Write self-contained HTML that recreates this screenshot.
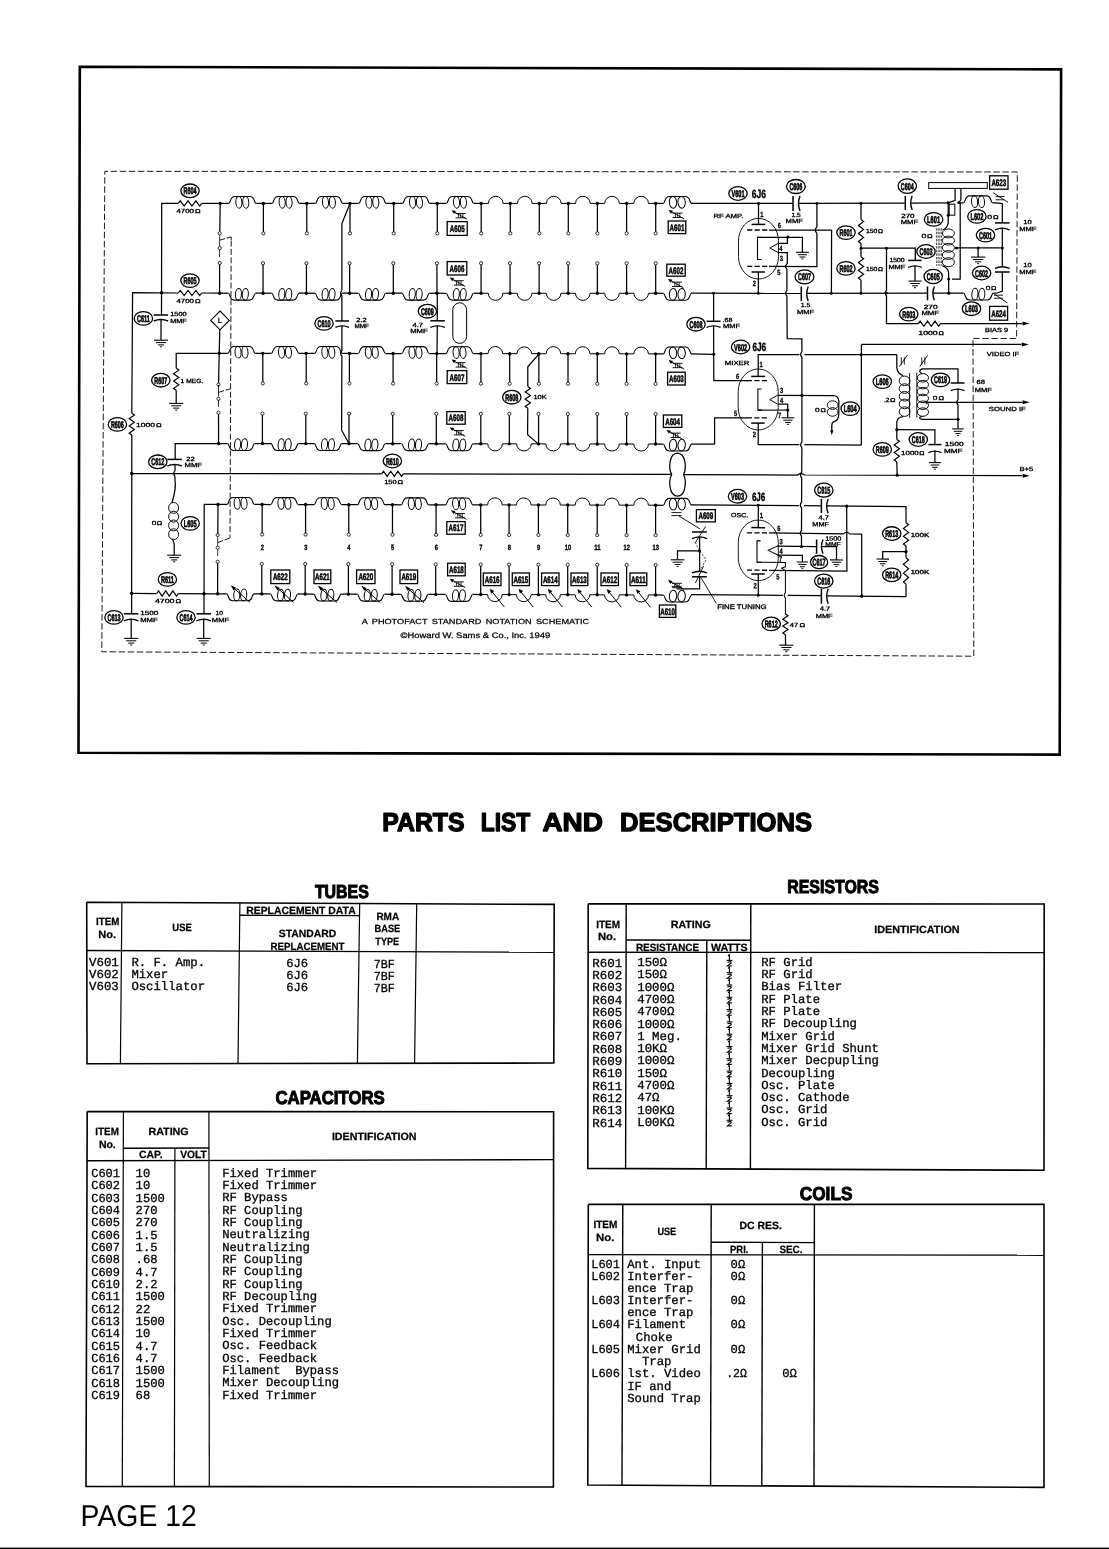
<!DOCTYPE html>
<html><head><meta charset="utf-8"><title>Page 12</title>
<style>
html,body{margin:0;padding:0;background:#fff;}
body{width:1109px;height:1549px;overflow:hidden;font-family:"Liberation Sans",sans-serif;}
svg{display:block;position:absolute;left:0;top:0;will-change:transform;}
svg *{vector-effect:none;}
</style></head><body>
<svg width="1109" height="1549" viewBox="0 0 1109 1549" fill="none" stroke="#000" stroke-linecap="butt" stroke-linejoin="miter" text-rendering="geometricPrecision">
<g id="art" fill="none" stroke="#000">
<polygon points="79.8,66.8 1061.1,69.4 1059.7,754.6 78.5,752.8" stroke-width="2.6" fill="none"/>
<polyline points="973.2,338.4 1016.6,338.6 1017.3,172 104.8,171.3 101.8,651.8 973.8,656.2 973,338.4" stroke-width="0.9" stroke-dasharray="6.5 2.6"/>
<line x1="220.2" y1="203.4" x2="228.7" y2="203.4" stroke-width="1.25"/>
<path d="M228.7,203.4 C230.9,203.4 229.7,196.5 234.7,196.5 L250.1,196.5 C255.1,196.5 253.9,203.4 256.1,203.4" stroke-width="1.1"/>
<ellipse cx="238.95" cy="202.3" rx="3.05" ry="5.9" stroke-width="1.0" transform="rotate(-4 238.95 203.4)"/>
<ellipse cx="245.85" cy="202.3" rx="3.05" ry="5.9" stroke-width="1.0" transform="rotate(-4 245.85 203.4)"/>
<line x1="256.1" y1="203.4" x2="263.4" y2="203.4" stroke-width="1.25"/>
<line x1="263.4" y1="203.4" x2="272" y2="203.4" stroke-width="1.25"/>
<path d="M272,203.4 C274.2,203.4 273,196.5 278,196.5 L293.4,196.5 C298.4,196.5 297.2,203.4 299.4,203.4" stroke-width="1.1"/>
<ellipse cx="282.25" cy="202.3" rx="3.05" ry="5.9" stroke-width="1.0" transform="rotate(-4 282.25 203.4)"/>
<ellipse cx="289.15" cy="202.3" rx="3.05" ry="5.9" stroke-width="1.0" transform="rotate(-4 289.15 203.4)"/>
<line x1="299.4" y1="203.4" x2="306.8" y2="203.4" stroke-width="1.25"/>
<line x1="306.8" y1="203.4" x2="315.3" y2="203.4" stroke-width="1.25"/>
<path d="M315.3,203.4 C317.5,203.4 316.3,196.5 321.3,196.5 L336.7,196.5 C341.7,196.5 340.5,203.4 342.7,203.4" stroke-width="1.1"/>
<ellipse cx="325.55" cy="202.3" rx="3.05" ry="5.9" stroke-width="1.0" transform="rotate(-4 325.55 203.4)"/>
<ellipse cx="332.45" cy="202.3" rx="3.05" ry="5.9" stroke-width="1.0" transform="rotate(-4 332.45 203.4)"/>
<line x1="342.7" y1="203.4" x2="350" y2="203.4" stroke-width="1.25"/>
<line x1="350" y1="203.4" x2="358.75" y2="203.4" stroke-width="1.25"/>
<path d="M358.75,203.4 C360.95,203.4 359.75,196.5 364.75,196.5 L380.15,196.5 C385.15,196.5 383.95,203.4 386.15,203.4" stroke-width="1.1"/>
<ellipse cx="369" cy="202.3" rx="3.05" ry="5.9" stroke-width="1.0" transform="rotate(-4 369 203.4)"/>
<ellipse cx="375.9" cy="202.3" rx="3.05" ry="5.9" stroke-width="1.0" transform="rotate(-4 375.9 203.4)"/>
<line x1="386.15" y1="203.4" x2="393.7" y2="203.4" stroke-width="1.25"/>
<line x1="393.7" y1="203.4" x2="402.4" y2="203.4" stroke-width="1.25"/>
<path d="M402.4,203.4 C404.6,203.4 403.4,196.5 408.4,196.5 L423.8,196.5 C428.8,196.5 427.6,203.4 429.8,203.4" stroke-width="1.1"/>
<ellipse cx="412.65" cy="202.3" rx="3.05" ry="5.9" stroke-width="1.0" transform="rotate(-4 412.65 203.4)"/>
<ellipse cx="419.55" cy="202.3" rx="3.05" ry="5.9" stroke-width="1.0" transform="rotate(-4 419.55 203.4)"/>
<line x1="429.8" y1="203.4" x2="437.3" y2="203.4" stroke-width="1.25"/>
<line x1="437.3" y1="203.4" x2="446.35" y2="203.4" stroke-width="1.25"/>
<path d="M446.35,203.4 C448.55,203.4 447.35,196.5 452.35,196.5 L467.75,196.5 C472.75,196.5 471.55,203.4 473.75,203.4" stroke-width="1.1"/>
<ellipse cx="456.6" cy="202.3" rx="3.05" ry="5.9" stroke-width="1.0" transform="rotate(-4 456.6 203.4)"/>
<ellipse cx="463.5" cy="202.3" rx="3.05" ry="5.9" stroke-width="1.0" transform="rotate(-4 463.5 203.4)"/>
<line x1="473.75" y1="203.4" x2="481.2" y2="203.4" stroke-width="1.25"/>
<path d="M481.2,203.4 L488.45,203.4 A7.3,7.08 0 0 1 503.05,203.4 L510.3,203.4" stroke-width="1"/>
<path d="M510.3,203.4 L517.5,203.4 A7.3,7.08 0 0 1 532.1,203.4 L539.3,203.4" stroke-width="1"/>
<path d="M539.3,203.4 L546.5,203.4 A7.3,7.08 0 0 1 561.1,203.4 L568.3,203.4" stroke-width="1"/>
<path d="M568.3,203.4 L575.55,203.4 A7.3,7.08 0 0 1 590.15,203.4 L597.4,203.4" stroke-width="1"/>
<path d="M597.4,203.4 L604.7,203.4 A7.3,7.08 0 0 1 619.3,203.4 L626.6,203.4" stroke-width="1"/>
<path d="M626.6,203.4 L633.85,203.4 A7.3,7.08 0 0 1 648.45,203.4 L655.7,203.4" stroke-width="1"/>
<line x1="655.7" y1="203.4" x2="663.2" y2="203.4" stroke-width="1.25"/>
<path d="M663.2,203.4 C665.4,203.4 664.2,196.5 669.2,196.5 L685.6,196.5 C690.6,196.5 689.4,203.4 691.6,203.4" stroke-width="1.1"/>
<ellipse cx="673.1" cy="202.3" rx="3.7" ry="5.9" stroke-width="1.0" transform="rotate(-4 673.1 203.4)"/>
<ellipse cx="681.7" cy="202.3" rx="3.7" ry="5.9" stroke-width="1.0" transform="rotate(-4 681.7 203.4)"/>
<line x1="263.4" y1="203.4" x2="263.4" y2="232" stroke-width="1.25"/>
<circle cx="263.4" cy="233.4" r="1.6" fill="#fff" stroke-width="0.8"/>
<circle cx="263.4" cy="203.4" r="1.7" fill="#000" stroke="none"/>
<line x1="306.8" y1="203.4" x2="306.8" y2="232" stroke-width="1.25"/>
<circle cx="306.8" cy="233.4" r="1.6" fill="#fff" stroke-width="0.8"/>
<circle cx="306.8" cy="203.4" r="1.7" fill="#000" stroke="none"/>
<line x1="350" y1="203.4" x2="350" y2="232" stroke-width="1.25"/>
<circle cx="350" cy="233.4" r="1.6" fill="#fff" stroke-width="0.8"/>
<circle cx="350" cy="203.4" r="1.7" fill="#000" stroke="none"/>
<line x1="393.7" y1="203.4" x2="393.7" y2="232" stroke-width="1.25"/>
<circle cx="393.7" cy="233.4" r="1.6" fill="#fff" stroke-width="0.8"/>
<circle cx="393.7" cy="203.4" r="1.7" fill="#000" stroke="none"/>
<line x1="437.3" y1="203.4" x2="437.3" y2="232" stroke-width="1.25"/>
<circle cx="437.3" cy="233.4" r="1.6" fill="#fff" stroke-width="0.8"/>
<circle cx="437.3" cy="203.4" r="1.7" fill="#000" stroke="none"/>
<line x1="481.2" y1="203.4" x2="481.2" y2="232" stroke-width="1.25"/>
<circle cx="481.2" cy="233.4" r="1.6" fill="#fff" stroke-width="0.8"/>
<circle cx="481.2" cy="203.4" r="1.7" fill="#000" stroke="none"/>
<line x1="510.3" y1="203.4" x2="510.3" y2="232" stroke-width="1.25"/>
<circle cx="510.3" cy="233.4" r="1.6" fill="#fff" stroke-width="0.8"/>
<circle cx="510.3" cy="203.4" r="1.7" fill="#000" stroke="none"/>
<line x1="539.3" y1="203.4" x2="539.3" y2="232" stroke-width="1.25"/>
<circle cx="539.3" cy="233.4" r="1.6" fill="#fff" stroke-width="0.8"/>
<circle cx="539.3" cy="203.4" r="1.7" fill="#000" stroke="none"/>
<line x1="568.3" y1="203.4" x2="568.3" y2="232" stroke-width="1.25"/>
<circle cx="568.3" cy="233.4" r="1.6" fill="#fff" stroke-width="0.8"/>
<circle cx="568.3" cy="203.4" r="1.7" fill="#000" stroke="none"/>
<line x1="597.4" y1="203.4" x2="597.4" y2="232" stroke-width="1.25"/>
<circle cx="597.4" cy="233.4" r="1.6" fill="#fff" stroke-width="0.8"/>
<circle cx="597.4" cy="203.4" r="1.7" fill="#000" stroke="none"/>
<line x1="626.6" y1="203.4" x2="626.6" y2="232" stroke-width="1.25"/>
<circle cx="626.6" cy="233.4" r="1.6" fill="#fff" stroke-width="0.8"/>
<circle cx="626.6" cy="203.4" r="1.7" fill="#000" stroke="none"/>
<line x1="655.7" y1="203.4" x2="655.7" y2="232" stroke-width="1.25"/>
<circle cx="655.7" cy="233.4" r="1.6" fill="#fff" stroke-width="0.8"/>
<circle cx="655.7" cy="203.4" r="1.7" fill="#000" stroke="none"/>
<circle cx="220.2" cy="203.4" r="1.7" fill="#000" stroke="none"/>
<line x1="219.6" y1="293.2" x2="228.22" y2="293.2" stroke-width="1.25"/>
<path d="M228.22,293.2 C230.42,293.2 229.22,300.1 234.22,300.1 L249.62,300.1 C254.62,300.1 253.42,293.2 255.62,293.2" stroke-width="1.1"/>
<ellipse cx="238.47" cy="294.3" rx="3.05" ry="5.9" stroke-width="1.0" transform="rotate(4 238.47 293.2)"/>
<ellipse cx="245.37" cy="294.3" rx="3.05" ry="5.9" stroke-width="1.0" transform="rotate(4 245.37 293.2)"/>
<line x1="255.62" y1="293.2" x2="263.03" y2="293.21" stroke-width="1.25"/>
<line x1="263.03" y1="293.21" x2="271.63" y2="293.21" stroke-width="1.25"/>
<path d="M271.63,293.21 C273.83,293.21 272.63,300.11 277.63,300.11 L293.03,300.11 C298.03,300.11 296.83,293.21 299.03,293.21" stroke-width="1.1"/>
<ellipse cx="281.88" cy="294.31" rx="3.05" ry="5.9" stroke-width="1.0" transform="rotate(4 281.88 293.21)"/>
<ellipse cx="288.78" cy="294.31" rx="3.05" ry="5.9" stroke-width="1.0" transform="rotate(4 288.78 293.21)"/>
<line x1="299.03" y1="293.21" x2="306.43" y2="293.22" stroke-width="1.25"/>
<line x1="306.43" y1="293.22" x2="314.93" y2="293.22" stroke-width="1.25"/>
<path d="M314.93,293.22 C317.13,293.22 315.93,300.12 320.93,300.12 L336.33,300.12 C341.33,300.12 340.13,293.22 342.33,293.22" stroke-width="1.1"/>
<ellipse cx="325.18" cy="294.32" rx="3.05" ry="5.9" stroke-width="1.0" transform="rotate(4 325.18 293.22)"/>
<ellipse cx="332.08" cy="294.32" rx="3.05" ry="5.9" stroke-width="1.0" transform="rotate(4 332.08 293.22)"/>
<line x1="342.33" y1="293.22" x2="349.63" y2="293.23" stroke-width="1.25"/>
<line x1="349.63" y1="293.23" x2="358.38" y2="293.23" stroke-width="1.25"/>
<path d="M358.38,293.23 C360.58,293.23 359.38,300.13 364.38,300.13 L379.78,300.13 C384.78,300.13 383.58,293.23 385.78,293.23" stroke-width="1.1"/>
<ellipse cx="368.63" cy="294.33" rx="3.05" ry="5.9" stroke-width="1.0" transform="rotate(4 368.63 293.23)"/>
<ellipse cx="375.53" cy="294.33" rx="3.05" ry="5.9" stroke-width="1.0" transform="rotate(4 375.53 293.23)"/>
<line x1="385.78" y1="293.23" x2="393.33" y2="293.23" stroke-width="1.25"/>
<line x1="393.33" y1="293.23" x2="402.03" y2="293.24" stroke-width="1.25"/>
<path d="M402.03,293.24 C404.23,293.24 403.03,300.14 408.03,300.14 L423.43,300.14 C428.43,300.14 427.23,293.24 429.43,293.24" stroke-width="1.1"/>
<ellipse cx="412.28" cy="294.34" rx="3.05" ry="5.9" stroke-width="1.0" transform="rotate(4 412.28 293.24)"/>
<ellipse cx="419.18" cy="294.34" rx="3.05" ry="5.9" stroke-width="1.0" transform="rotate(4 419.18 293.24)"/>
<line x1="429.43" y1="293.24" x2="436.93" y2="293.24" stroke-width="1.25"/>
<line x1="436.93" y1="293.24" x2="446.12" y2="293.25" stroke-width="1.25"/>
<path d="M446.12,293.25 C448.32,293.25 447.12,300.15 452.12,300.15 L467.52,300.15 C472.52,300.15 471.32,293.25 473.52,293.25" stroke-width="1.1"/>
<ellipse cx="456.37" cy="294.35" rx="3.05" ry="5.9" stroke-width="1.0" transform="rotate(4 456.37 293.25)"/>
<ellipse cx="463.27" cy="294.35" rx="3.05" ry="5.9" stroke-width="1.0" transform="rotate(4 463.27 293.25)"/>
<line x1="473.52" y1="293.25" x2="481.1" y2="293.25" stroke-width="1.25"/>
<path d="M481.1,293.26 L488.28,293.26 A7.3,7.08 0 0 0 502.88,293.26 L510.06,293.26" stroke-width="1"/>
<path d="M510.06,293.26 L517.29,293.26 A7.3,7.08 0 0 0 531.89,293.26 L539.12,293.26" stroke-width="1"/>
<path d="M539.12,293.27 L546.35,293.27 A7.3,7.08 0 0 0 560.95,293.27 L568.18,293.27" stroke-width="1"/>
<path d="M568.18,293.27 L575.47,293.27 A7.3,7.08 0 0 0 590.07,293.27 L597.36,293.27" stroke-width="1"/>
<path d="M597.36,293.28 L604.68,293.28 A7.3,7.08 0 0 0 619.28,293.28 L626.6,293.28" stroke-width="1"/>
<path d="M626.6,293.28 L633.84,293.28 A7.3,7.08 0 0 0 648.44,293.28 L655.68,293.28" stroke-width="1"/>
<line x1="655.68" y1="293.29" x2="663.2" y2="293.29" stroke-width="1.25"/>
<path d="M663.2,293.29 C665.4,293.29 664.2,300.19 669.2,300.19 L685.6,300.19 C690.6,300.19 689.4,293.29 691.6,293.29" stroke-width="1.1"/>
<ellipse cx="673.1" cy="294.39" rx="3.7" ry="5.9" stroke-width="1.0" transform="rotate(4 673.1 293.29)"/>
<ellipse cx="681.7" cy="294.39" rx="3.7" ry="5.9" stroke-width="1.0" transform="rotate(4 681.7 293.29)"/>
<line x1="263.03" y1="293.21" x2="263.03" y2="264.61" stroke-width="1.25"/>
<circle cx="263.03" cy="263.21" r="1.6" fill="#fff" stroke-width="0.8"/>
<circle cx="263.03" cy="293.21" r="1.7" fill="#000" stroke="none"/>
<line x1="306.43" y1="293.22" x2="306.43" y2="264.62" stroke-width="1.25"/>
<circle cx="306.43" cy="263.22" r="1.6" fill="#fff" stroke-width="0.8"/>
<circle cx="306.43" cy="293.22" r="1.7" fill="#000" stroke="none"/>
<line x1="349.63" y1="293.23" x2="349.63" y2="264.63" stroke-width="1.25"/>
<circle cx="349.63" cy="263.23" r="1.6" fill="#fff" stroke-width="0.8"/>
<circle cx="349.63" cy="293.23" r="1.7" fill="#000" stroke="none"/>
<line x1="393.33" y1="293.23" x2="393.33" y2="264.63" stroke-width="1.25"/>
<circle cx="393.33" cy="263.23" r="1.6" fill="#fff" stroke-width="0.8"/>
<circle cx="393.33" cy="293.23" r="1.7" fill="#000" stroke="none"/>
<line x1="436.93" y1="293.24" x2="436.93" y2="264.64" stroke-width="1.25"/>
<circle cx="436.93" cy="263.24" r="1.6" fill="#fff" stroke-width="0.8"/>
<circle cx="436.93" cy="293.24" r="1.7" fill="#000" stroke="none"/>
<line x1="481.1" y1="293.25" x2="481.1" y2="264.65" stroke-width="1.25"/>
<circle cx="481.1" cy="263.25" r="1.6" fill="#fff" stroke-width="0.8"/>
<circle cx="481.1" cy="293.25" r="1.7" fill="#000" stroke="none"/>
<line x1="510.06" y1="293.26" x2="510.06" y2="264.66" stroke-width="1.25"/>
<circle cx="510.06" cy="263.26" r="1.6" fill="#fff" stroke-width="0.8"/>
<circle cx="510.06" cy="293.26" r="1.7" fill="#000" stroke="none"/>
<line x1="539.12" y1="293.26" x2="539.12" y2="264.66" stroke-width="1.25"/>
<circle cx="539.12" cy="263.26" r="1.6" fill="#fff" stroke-width="0.8"/>
<circle cx="539.12" cy="293.26" r="1.7" fill="#000" stroke="none"/>
<line x1="568.18" y1="293.27" x2="568.18" y2="264.67" stroke-width="1.25"/>
<circle cx="568.18" cy="263.27" r="1.6" fill="#fff" stroke-width="0.8"/>
<circle cx="568.18" cy="293.27" r="1.7" fill="#000" stroke="none"/>
<line x1="597.36" y1="293.28" x2="597.36" y2="264.68" stroke-width="1.25"/>
<circle cx="597.36" cy="263.28" r="1.6" fill="#fff" stroke-width="0.8"/>
<circle cx="597.36" cy="293.28" r="1.7" fill="#000" stroke="none"/>
<line x1="626.6" y1="293.28" x2="626.6" y2="264.68" stroke-width="1.25"/>
<circle cx="626.6" cy="263.28" r="1.6" fill="#fff" stroke-width="0.8"/>
<circle cx="626.6" cy="293.28" r="1.7" fill="#000" stroke="none"/>
<line x1="655.68" y1="293.29" x2="655.68" y2="264.69" stroke-width="1.25"/>
<circle cx="655.68" cy="263.29" r="1.6" fill="#fff" stroke-width="0.8"/>
<circle cx="655.68" cy="293.29" r="1.7" fill="#000" stroke="none"/>
<circle cx="219.6" cy="293.2" r="1.7" fill="#000" stroke="none"/>
<line x1="219.2" y1="353.3" x2="227.89" y2="353.33" stroke-width="1.25"/>
<path d="M227.89,353.33 C230.09,353.33 228.89,346.43 233.89,346.43 L249.29,346.43 C254.29,346.43 253.09,353.33 255.29,353.33" stroke-width="1.1"/>
<ellipse cx="238.14" cy="352.23" rx="3.05" ry="5.9" stroke-width="1.0" transform="rotate(-4 238.14 353.33)"/>
<ellipse cx="245.04" cy="352.23" rx="3.05" ry="5.9" stroke-width="1.0" transform="rotate(-4 245.04 353.33)"/>
<line x1="255.29" y1="353.33" x2="262.79" y2="353.36" stroke-width="1.25"/>
<line x1="262.79" y1="353.36" x2="271.39" y2="353.38" stroke-width="1.25"/>
<path d="M271.39,353.38 C273.59,353.38 272.39,346.48 277.39,346.48 L292.79,346.48 C297.79,346.48 296.59,353.38 298.79,353.38" stroke-width="1.1"/>
<ellipse cx="281.64" cy="352.28" rx="3.05" ry="5.9" stroke-width="1.0" transform="rotate(-4 281.64 353.38)"/>
<ellipse cx="288.54" cy="352.28" rx="3.05" ry="5.9" stroke-width="1.0" transform="rotate(-4 288.54 353.38)"/>
<line x1="298.79" y1="353.38" x2="306.19" y2="353.41" stroke-width="1.25"/>
<line x1="306.19" y1="353.41" x2="314.69" y2="353.44" stroke-width="1.25"/>
<path d="M314.69,353.44 C316.89,353.44 315.69,346.54 320.69,346.54 L336.09,346.54 C341.09,346.54 339.89,353.44 342.09,353.44" stroke-width="1.1"/>
<ellipse cx="324.94" cy="352.34" rx="3.05" ry="5.9" stroke-width="1.0" transform="rotate(-4 324.94 353.44)"/>
<ellipse cx="331.84" cy="352.34" rx="3.05" ry="5.9" stroke-width="1.0" transform="rotate(-4 331.84 353.44)"/>
<line x1="342.09" y1="353.44" x2="349.39" y2="353.47" stroke-width="1.25"/>
<line x1="349.39" y1="353.47" x2="358.14" y2="353.5" stroke-width="1.25"/>
<path d="M358.14,353.5 C360.34,353.5 359.14,346.6 364.14,346.6 L379.54,346.6 C384.54,346.6 383.34,353.5 385.54,353.5" stroke-width="1.1"/>
<ellipse cx="368.39" cy="352.4" rx="3.05" ry="5.9" stroke-width="1.0" transform="rotate(-4 368.39 353.5)"/>
<ellipse cx="375.29" cy="352.4" rx="3.05" ry="5.9" stroke-width="1.0" transform="rotate(-4 375.29 353.5)"/>
<line x1="385.54" y1="353.5" x2="393.09" y2="353.53" stroke-width="1.25"/>
<line x1="393.09" y1="353.53" x2="401.79" y2="353.55" stroke-width="1.25"/>
<path d="M401.79,353.55 C403.99,353.55 402.79,346.65 407.79,346.65 L423.19,346.65 C428.19,346.65 426.99,353.55 429.19,353.55" stroke-width="1.1"/>
<ellipse cx="412.04" cy="352.45" rx="3.05" ry="5.9" stroke-width="1.0" transform="rotate(-4 412.04 353.55)"/>
<ellipse cx="418.94" cy="352.45" rx="3.05" ry="5.9" stroke-width="1.0" transform="rotate(-4 418.94 353.55)"/>
<line x1="429.19" y1="353.55" x2="436.69" y2="353.58" stroke-width="1.25"/>
<line x1="436.69" y1="353.58" x2="445.92" y2="353.61" stroke-width="1.25"/>
<path d="M445.92,353.61 C448.12,353.61 446.92,346.71 451.92,346.71 L467.32,346.71 C472.32,346.71 471.12,353.61 473.32,353.61" stroke-width="1.1"/>
<ellipse cx="456.17" cy="352.51" rx="3.05" ry="5.9" stroke-width="1.0" transform="rotate(-4 456.17 353.61)"/>
<ellipse cx="463.07" cy="352.51" rx="3.05" ry="5.9" stroke-width="1.0" transform="rotate(-4 463.07 353.61)"/>
<line x1="473.32" y1="353.61" x2="480.95" y2="353.64" stroke-width="1.25"/>
<path d="M480.95,353.66 L488.03,353.66 A7.3,7.08 0 0 1 502.63,353.66 L509.7,353.66" stroke-width="1"/>
<path d="M509.7,353.7 L516.98,353.7 A7.3,7.08 0 0 1 531.57,353.7 L538.85,353.7" stroke-width="1"/>
<path d="M538.85,353.73 L546.12,353.73 A7.3,7.08 0 0 1 560.72,353.73 L568,353.73" stroke-width="1"/>
<path d="M568,353.77 L575.35,353.77 A7.3,7.08 0 0 1 589.95,353.77 L597.3,353.77" stroke-width="1"/>
<path d="M597.3,353.81 L604.65,353.81 A7.3,7.08 0 0 1 619.25,353.81 L626.6,353.81" stroke-width="1"/>
<path d="M626.6,353.85 L633.83,353.85 A7.3,7.08 0 0 1 648.42,353.85 L655.65,353.85" stroke-width="1"/>
<line x1="655.65" y1="353.87" x2="663.2" y2="353.89" stroke-width="1.25"/>
<path d="M663.2,353.89 C665.4,353.89 664.2,346.99 669.2,346.99 L685.6,346.99 C690.6,346.99 689.4,353.89 691.6,353.89" stroke-width="1.1"/>
<ellipse cx="673.1" cy="352.79" rx="3.7" ry="5.9" stroke-width="1.0" transform="rotate(-4 673.1 353.89)"/>
<ellipse cx="681.7" cy="352.79" rx="3.7" ry="5.9" stroke-width="1.0" transform="rotate(-4 681.7 353.89)"/>
<line x1="262.79" y1="353.36" x2="262.79" y2="381.96" stroke-width="1.25"/>
<circle cx="262.79" cy="383.36" r="1.6" fill="#fff" stroke-width="0.8"/>
<circle cx="262.79" cy="353.36" r="1.7" fill="#000" stroke="none"/>
<line x1="306.19" y1="353.41" x2="306.19" y2="382.01" stroke-width="1.25"/>
<circle cx="306.19" cy="383.41" r="1.6" fill="#fff" stroke-width="0.8"/>
<circle cx="306.19" cy="353.41" r="1.7" fill="#000" stroke="none"/>
<line x1="349.39" y1="353.47" x2="349.39" y2="382.07" stroke-width="1.25"/>
<circle cx="349.39" cy="383.47" r="1.6" fill="#fff" stroke-width="0.8"/>
<circle cx="349.39" cy="353.47" r="1.7" fill="#000" stroke="none"/>
<line x1="393.09" y1="353.53" x2="393.09" y2="382.13" stroke-width="1.25"/>
<circle cx="393.09" cy="383.53" r="1.6" fill="#fff" stroke-width="0.8"/>
<circle cx="393.09" cy="353.53" r="1.7" fill="#000" stroke="none"/>
<line x1="436.69" y1="353.58" x2="436.69" y2="382.18" stroke-width="1.25"/>
<circle cx="436.69" cy="383.58" r="1.6" fill="#fff" stroke-width="0.8"/>
<circle cx="436.69" cy="353.58" r="1.7" fill="#000" stroke="none"/>
<line x1="480.95" y1="353.64" x2="480.95" y2="382.24" stroke-width="1.25"/>
<circle cx="480.95" cy="383.64" r="1.6" fill="#fff" stroke-width="0.8"/>
<circle cx="480.95" cy="353.64" r="1.7" fill="#000" stroke="none"/>
<line x1="509.7" y1="353.68" x2="509.7" y2="382.28" stroke-width="1.25"/>
<circle cx="509.7" cy="383.68" r="1.6" fill="#fff" stroke-width="0.8"/>
<circle cx="509.7" cy="353.68" r="1.7" fill="#000" stroke="none"/>
<line x1="538.85" y1="353.71" x2="538.85" y2="382.31" stroke-width="1.25"/>
<circle cx="538.85" cy="383.71" r="1.6" fill="#fff" stroke-width="0.8"/>
<circle cx="538.85" cy="353.71" r="1.7" fill="#000" stroke="none"/>
<line x1="568" y1="353.75" x2="568" y2="382.35" stroke-width="1.25"/>
<circle cx="568" cy="383.75" r="1.6" fill="#fff" stroke-width="0.8"/>
<circle cx="568" cy="353.75" r="1.7" fill="#000" stroke="none"/>
<line x1="597.3" y1="353.79" x2="597.3" y2="382.39" stroke-width="1.25"/>
<circle cx="597.3" cy="383.79" r="1.6" fill="#fff" stroke-width="0.8"/>
<circle cx="597.3" cy="353.79" r="1.7" fill="#000" stroke="none"/>
<line x1="626.6" y1="353.83" x2="626.6" y2="382.43" stroke-width="1.25"/>
<circle cx="626.6" cy="383.83" r="1.6" fill="#fff" stroke-width="0.8"/>
<circle cx="626.6" cy="353.83" r="1.7" fill="#000" stroke="none"/>
<line x1="655.65" y1="353.87" x2="655.65" y2="382.47" stroke-width="1.25"/>
<circle cx="655.65" cy="383.87" r="1.6" fill="#fff" stroke-width="0.8"/>
<circle cx="655.65" cy="353.87" r="1.7" fill="#000" stroke="none"/>
<circle cx="219.2" cy="353.3" r="1.7" fill="#000" stroke="none"/>
<line x1="218.6" y1="443.5" x2="227.41" y2="443.53" stroke-width="1.25"/>
<path d="M227.41,443.53 C229.61,443.53 228.41,450.43 233.41,450.43 L248.81,450.43 C253.81,450.43 252.61,443.53 254.81,443.53" stroke-width="1.1"/>
<ellipse cx="237.66" cy="444.63" rx="3.05" ry="5.9" stroke-width="1.0" transform="rotate(4 237.66 443.53)"/>
<ellipse cx="244.56" cy="444.63" rx="3.05" ry="5.9" stroke-width="1.0" transform="rotate(4 244.56 443.53)"/>
<line x1="254.81" y1="443.53" x2="262.41" y2="443.55" stroke-width="1.25"/>
<line x1="262.41" y1="443.55" x2="271.01" y2="443.58" stroke-width="1.25"/>
<path d="M271.01,443.58 C273.21,443.58 272.01,450.48 277.01,450.48 L292.41,450.48 C297.41,450.48 296.21,443.58 298.41,443.58" stroke-width="1.1"/>
<ellipse cx="281.26" cy="444.68" rx="3.05" ry="5.9" stroke-width="1.0" transform="rotate(4 281.26 443.58)"/>
<ellipse cx="288.16" cy="444.68" rx="3.05" ry="5.9" stroke-width="1.0" transform="rotate(4 288.16 443.58)"/>
<line x1="298.41" y1="443.58" x2="305.81" y2="443.6" stroke-width="1.25"/>
<line x1="305.81" y1="443.6" x2="314.31" y2="443.63" stroke-width="1.25"/>
<path d="M314.31,443.63 C316.51,443.63 315.31,450.53 320.31,450.53 L335.71,450.53 C340.71,450.53 339.51,443.63 341.71,443.63" stroke-width="1.1"/>
<ellipse cx="324.56" cy="444.73" rx="3.05" ry="5.9" stroke-width="1.0" transform="rotate(4 324.56 443.63)"/>
<ellipse cx="331.46" cy="444.73" rx="3.05" ry="5.9" stroke-width="1.0" transform="rotate(4 331.46 443.63)"/>
<line x1="341.71" y1="443.63" x2="349.01" y2="443.65" stroke-width="1.25"/>
<line x1="349.01" y1="443.65" x2="357.76" y2="443.68" stroke-width="1.25"/>
<path d="M357.76,443.68 C359.96,443.68 358.76,450.58 363.76,450.58 L379.16,450.58 C384.16,450.58 382.96,443.68 385.16,443.68" stroke-width="1.1"/>
<ellipse cx="368.01" cy="444.78" rx="3.05" ry="5.9" stroke-width="1.0" transform="rotate(4 368.01 443.68)"/>
<ellipse cx="374.91" cy="444.78" rx="3.05" ry="5.9" stroke-width="1.0" transform="rotate(4 374.91 443.68)"/>
<line x1="385.16" y1="443.68" x2="392.71" y2="443.71" stroke-width="1.25"/>
<line x1="392.71" y1="443.71" x2="401.41" y2="443.73" stroke-width="1.25"/>
<path d="M401.41,443.73 C403.61,443.73 402.41,450.63 407.41,450.63 L422.81,450.63 C427.81,450.63 426.61,443.73 428.81,443.73" stroke-width="1.1"/>
<ellipse cx="411.66" cy="444.83" rx="3.05" ry="5.9" stroke-width="1.0" transform="rotate(4 411.66 443.73)"/>
<ellipse cx="418.56" cy="444.83" rx="3.05" ry="5.9" stroke-width="1.0" transform="rotate(4 418.56 443.73)"/>
<line x1="428.81" y1="443.73" x2="436.31" y2="443.76" stroke-width="1.25"/>
<line x1="436.31" y1="443.76" x2="445.66" y2="443.79" stroke-width="1.25"/>
<path d="M445.66,443.79 C447.86,443.79 446.66,450.69 451.66,450.69 L467.06,450.69 C472.06,450.69 470.86,443.79 473.06,443.79" stroke-width="1.1"/>
<ellipse cx="455.91" cy="444.89" rx="3.05" ry="5.9" stroke-width="1.0" transform="rotate(4 455.91 443.79)"/>
<ellipse cx="462.81" cy="444.89" rx="3.05" ry="5.9" stroke-width="1.0" transform="rotate(4 462.81 443.79)"/>
<line x1="473.06" y1="443.79" x2="480.8" y2="443.81" stroke-width="1.25"/>
<path d="M480.8,443.83 L487.77,443.83 A7.3,7.08 0 0 0 502.37,443.83 L509.34,443.83" stroke-width="1"/>
<path d="M509.34,443.86 L516.66,443.86 A7.3,7.08 0 0 0 531.26,443.86 L538.58,443.86" stroke-width="1"/>
<path d="M538.58,443.9 L545.9,443.9 A7.3,7.08 0 0 0 560.5,443.9 L567.82,443.9" stroke-width="1"/>
<path d="M567.82,443.94 L575.23,443.94 A7.3,7.08 0 0 0 589.83,443.94 L597.24,443.94" stroke-width="1"/>
<path d="M597.24,443.97 L604.62,443.97 A7.3,7.08 0 0 0 619.22,443.97 L626.6,443.97" stroke-width="1"/>
<path d="M626.6,444.01 L633.81,444.01 A7.3,7.08 0 0 0 648.41,444.01 L655.62,444.01" stroke-width="1"/>
<line x1="655.62" y1="444.02" x2="663.2" y2="444.05" stroke-width="1.25"/>
<path d="M663.2,444.05 C665.4,444.05 664.2,450.95 669.2,450.95 L685.6,450.95 C690.6,450.95 689.4,444.05 691.6,444.05" stroke-width="1.1"/>
<ellipse cx="673.1" cy="445.15" rx="3.7" ry="5.9" stroke-width="1.0" transform="rotate(4 673.1 444.05)"/>
<ellipse cx="681.7" cy="445.15" rx="3.7" ry="5.9" stroke-width="1.0" transform="rotate(4 681.7 444.05)"/>
<line x1="262.41" y1="443.55" x2="262.41" y2="414.95" stroke-width="1.25"/>
<circle cx="262.41" cy="413.55" r="1.6" fill="#fff" stroke-width="0.8"/>
<circle cx="262.41" cy="443.55" r="1.7" fill="#000" stroke="none"/>
<line x1="305.81" y1="443.6" x2="305.81" y2="415" stroke-width="1.25"/>
<circle cx="305.81" cy="413.6" r="1.6" fill="#fff" stroke-width="0.8"/>
<circle cx="305.81" cy="443.6" r="1.7" fill="#000" stroke="none"/>
<line x1="349.01" y1="443.65" x2="349.01" y2="415.05" stroke-width="1.25"/>
<circle cx="349.01" cy="413.65" r="1.6" fill="#fff" stroke-width="0.8"/>
<circle cx="349.01" cy="443.65" r="1.7" fill="#000" stroke="none"/>
<line x1="392.71" y1="443.71" x2="392.71" y2="415.11" stroke-width="1.25"/>
<circle cx="392.71" cy="413.71" r="1.6" fill="#fff" stroke-width="0.8"/>
<circle cx="392.71" cy="443.71" r="1.7" fill="#000" stroke="none"/>
<line x1="436.31" y1="443.76" x2="436.31" y2="415.16" stroke-width="1.25"/>
<circle cx="436.31" cy="413.76" r="1.6" fill="#fff" stroke-width="0.8"/>
<circle cx="436.31" cy="443.76" r="1.7" fill="#000" stroke="none"/>
<line x1="480.8" y1="443.81" x2="480.8" y2="415.21" stroke-width="1.25"/>
<circle cx="480.8" cy="413.81" r="1.6" fill="#fff" stroke-width="0.8"/>
<circle cx="480.8" cy="443.81" r="1.7" fill="#000" stroke="none"/>
<line x1="509.34" y1="443.85" x2="509.34" y2="415.25" stroke-width="1.25"/>
<circle cx="509.34" cy="413.85" r="1.6" fill="#fff" stroke-width="0.8"/>
<circle cx="509.34" cy="443.85" r="1.7" fill="#000" stroke="none"/>
<line x1="538.58" y1="443.88" x2="538.58" y2="415.28" stroke-width="1.25"/>
<circle cx="538.58" cy="413.88" r="1.6" fill="#fff" stroke-width="0.8"/>
<circle cx="538.58" cy="443.88" r="1.7" fill="#000" stroke="none"/>
<line x1="567.82" y1="443.92" x2="567.82" y2="415.32" stroke-width="1.25"/>
<circle cx="567.82" cy="413.92" r="1.6" fill="#fff" stroke-width="0.8"/>
<circle cx="567.82" cy="443.92" r="1.7" fill="#000" stroke="none"/>
<line x1="597.24" y1="443.95" x2="597.24" y2="415.35" stroke-width="1.25"/>
<circle cx="597.24" cy="413.95" r="1.6" fill="#fff" stroke-width="0.8"/>
<circle cx="597.24" cy="443.95" r="1.7" fill="#000" stroke="none"/>
<line x1="626.6" y1="443.99" x2="626.6" y2="415.39" stroke-width="1.25"/>
<circle cx="626.6" cy="413.99" r="1.6" fill="#fff" stroke-width="0.8"/>
<circle cx="626.6" cy="443.99" r="1.7" fill="#000" stroke="none"/>
<line x1="655.62" y1="444.02" x2="655.62" y2="415.42" stroke-width="1.25"/>
<circle cx="655.62" cy="414.02" r="1.6" fill="#fff" stroke-width="0.8"/>
<circle cx="655.62" cy="444.02" r="1.7" fill="#000" stroke="none"/>
<circle cx="218.6" cy="443.5" r="1.7" fill="#000" stroke="none"/>
<line x1="218" y1="504.4" x2="226.98" y2="504.44" stroke-width="1.25"/>
<path d="M226.98,504.44 C229.18,504.44 227.98,497.54 232.98,497.54 L248.38,497.54 C253.38,497.54 252.18,504.44 254.38,504.44" stroke-width="1.1"/>
<ellipse cx="237.23" cy="503.34" rx="3.05" ry="5.9" stroke-width="1.0" transform="rotate(-4 237.23 504.44)"/>
<ellipse cx="244.13" cy="503.34" rx="3.05" ry="5.9" stroke-width="1.0" transform="rotate(-4 244.13 504.44)"/>
<line x1="254.38" y1="504.44" x2="262.17" y2="504.48" stroke-width="1.25"/>
<line x1="262.17" y1="504.48" x2="270.77" y2="504.52" stroke-width="1.25"/>
<path d="M270.77,504.52 C272.97,504.52 271.77,497.62 276.77,497.62 L292.17,497.62 C297.17,497.62 295.97,504.52 298.17,504.52" stroke-width="1.1"/>
<ellipse cx="281.02" cy="503.42" rx="3.05" ry="5.9" stroke-width="1.0" transform="rotate(-4 281.02 504.52)"/>
<ellipse cx="287.92" cy="503.42" rx="3.05" ry="5.9" stroke-width="1.0" transform="rotate(-4 287.92 504.52)"/>
<line x1="298.17" y1="504.52" x2="305.57" y2="504.56" stroke-width="1.25"/>
<line x1="305.57" y1="504.56" x2="314.07" y2="504.6" stroke-width="1.25"/>
<path d="M314.07,504.6 C316.27,504.6 315.07,497.7 320.07,497.7 L335.47,497.7 C340.47,497.7 339.27,504.6 341.47,504.6" stroke-width="1.1"/>
<ellipse cx="324.32" cy="503.5" rx="3.05" ry="5.9" stroke-width="1.0" transform="rotate(-4 324.32 504.6)"/>
<ellipse cx="331.22" cy="503.5" rx="3.05" ry="5.9" stroke-width="1.0" transform="rotate(-4 331.22 504.6)"/>
<line x1="341.47" y1="504.6" x2="348.77" y2="504.64" stroke-width="1.25"/>
<line x1="348.77" y1="504.64" x2="357.52" y2="504.69" stroke-width="1.25"/>
<path d="M357.52,504.69 C359.72,504.69 358.52,497.79 363.52,497.79 L378.92,497.79 C383.92,497.79 382.72,504.69 384.92,504.69" stroke-width="1.1"/>
<ellipse cx="367.77" cy="503.59" rx="3.05" ry="5.9" stroke-width="1.0" transform="rotate(-4 367.77 504.69)"/>
<ellipse cx="374.67" cy="503.59" rx="3.05" ry="5.9" stroke-width="1.0" transform="rotate(-4 374.67 504.69)"/>
<line x1="384.92" y1="504.69" x2="392.47" y2="504.73" stroke-width="1.25"/>
<line x1="392.47" y1="504.73" x2="401.17" y2="504.77" stroke-width="1.25"/>
<path d="M401.17,504.77 C403.37,504.77 402.17,497.87 407.17,497.87 L422.57,497.87 C427.57,497.87 426.37,504.77 428.57,504.77" stroke-width="1.1"/>
<ellipse cx="411.42" cy="503.67" rx="3.05" ry="5.9" stroke-width="1.0" transform="rotate(-4 411.42 504.77)"/>
<ellipse cx="418.32" cy="503.67" rx="3.05" ry="5.9" stroke-width="1.0" transform="rotate(-4 418.32 504.77)"/>
<line x1="428.57" y1="504.77" x2="436.07" y2="504.81" stroke-width="1.25"/>
<line x1="436.07" y1="504.81" x2="445.48" y2="504.85" stroke-width="1.25"/>
<path d="M445.48,504.85 C447.68,504.85 446.48,497.95 451.48,497.95 L466.88,497.95 C471.88,497.95 470.68,504.85 472.88,504.85" stroke-width="1.1"/>
<ellipse cx="455.73" cy="503.75" rx="3.05" ry="5.9" stroke-width="1.0" transform="rotate(-4 455.73 504.85)"/>
<ellipse cx="462.63" cy="503.75" rx="3.05" ry="5.9" stroke-width="1.0" transform="rotate(-4 462.63 504.85)"/>
<line x1="472.88" y1="504.85" x2="480.7" y2="504.9" stroke-width="1.25"/>
<path d="M480.7,504.92 L487.6,504.92 A7.3,7.08 0 0 1 502.2,504.92 L509.1,504.92" stroke-width="1"/>
<path d="M509.1,504.98 L516.45,504.98 A7.3,7.08 0 0 1 531.05,504.98 L538.4,504.98" stroke-width="1"/>
<path d="M538.4,505.03 L545.75,505.03 A7.3,7.08 0 0 1 560.35,505.03 L567.7,505.03" stroke-width="1"/>
<path d="M567.7,505.09 L575.15,505.09 A7.3,7.08 0 0 1 589.75,505.09 L597.2,505.09" stroke-width="1"/>
<path d="M597.2,505.14 L604.6,505.14 A7.3,7.08 0 0 1 619.2,505.14 L626.6,505.14" stroke-width="1"/>
<path d="M626.6,505.2 L633.8,505.2 A7.3,7.08 0 0 1 648.4,505.2 L655.6,505.2" stroke-width="1"/>
<line x1="655.6" y1="505.23" x2="663.2" y2="505.27" stroke-width="1.25"/>
<path d="M663.2,505.27 C665.4,505.27 664.2,498.37 669.2,498.37 L685.6,498.37 C690.6,498.37 689.4,505.27 691.6,505.27" stroke-width="1.1"/>
<ellipse cx="673.1" cy="504.17" rx="3.7" ry="5.9" stroke-width="1.0" transform="rotate(-4 673.1 505.27)"/>
<ellipse cx="681.7" cy="504.17" rx="3.7" ry="5.9" stroke-width="1.0" transform="rotate(-4 681.7 505.27)"/>
<line x1="262.17" y1="504.48" x2="262.17" y2="533.08" stroke-width="1.25"/>
<circle cx="262.17" cy="534.48" r="1.6" fill="#fff" stroke-width="0.8"/>
<circle cx="262.17" cy="504.48" r="1.7" fill="#000" stroke="none"/>
<line x1="305.57" y1="504.56" x2="305.57" y2="533.16" stroke-width="1.25"/>
<circle cx="305.57" cy="534.56" r="1.6" fill="#fff" stroke-width="0.8"/>
<circle cx="305.57" cy="504.56" r="1.7" fill="#000" stroke="none"/>
<line x1="348.77" y1="504.64" x2="348.77" y2="533.24" stroke-width="1.25"/>
<circle cx="348.77" cy="534.64" r="1.6" fill="#fff" stroke-width="0.8"/>
<circle cx="348.77" cy="504.64" r="1.7" fill="#000" stroke="none"/>
<line x1="392.47" y1="504.73" x2="392.47" y2="533.33" stroke-width="1.25"/>
<circle cx="392.47" cy="534.73" r="1.6" fill="#fff" stroke-width="0.8"/>
<circle cx="392.47" cy="504.73" r="1.7" fill="#000" stroke="none"/>
<line x1="436.07" y1="504.81" x2="436.07" y2="533.41" stroke-width="1.25"/>
<circle cx="436.07" cy="534.81" r="1.6" fill="#fff" stroke-width="0.8"/>
<circle cx="436.07" cy="504.81" r="1.7" fill="#000" stroke="none"/>
<line x1="480.7" y1="504.9" x2="480.7" y2="533.5" stroke-width="1.25"/>
<circle cx="480.7" cy="534.9" r="1.6" fill="#fff" stroke-width="0.8"/>
<circle cx="480.7" cy="504.9" r="1.7" fill="#000" stroke="none"/>
<line x1="509.1" y1="504.95" x2="509.1" y2="533.55" stroke-width="1.25"/>
<circle cx="509.1" cy="534.95" r="1.6" fill="#fff" stroke-width="0.8"/>
<circle cx="509.1" cy="504.95" r="1.7" fill="#000" stroke="none"/>
<line x1="538.4" y1="505" x2="538.4" y2="533.6" stroke-width="1.25"/>
<circle cx="538.4" cy="535" r="1.6" fill="#fff" stroke-width="0.8"/>
<circle cx="538.4" cy="505" r="1.7" fill="#000" stroke="none"/>
<line x1="567.7" y1="505.06" x2="567.7" y2="533.66" stroke-width="1.25"/>
<circle cx="567.7" cy="535.06" r="1.6" fill="#fff" stroke-width="0.8"/>
<circle cx="567.7" cy="505.06" r="1.7" fill="#000" stroke="none"/>
<line x1="597.2" y1="505.12" x2="597.2" y2="533.72" stroke-width="1.25"/>
<circle cx="597.2" cy="535.12" r="1.6" fill="#fff" stroke-width="0.8"/>
<circle cx="597.2" cy="505.12" r="1.7" fill="#000" stroke="none"/>
<line x1="626.6" y1="505.17" x2="626.6" y2="533.77" stroke-width="1.25"/>
<circle cx="626.6" cy="535.17" r="1.6" fill="#fff" stroke-width="0.8"/>
<circle cx="626.6" cy="505.17" r="1.7" fill="#000" stroke="none"/>
<line x1="655.6" y1="505.23" x2="655.6" y2="533.83" stroke-width="1.25"/>
<circle cx="655.6" cy="535.23" r="1.6" fill="#fff" stroke-width="0.8"/>
<circle cx="655.6" cy="505.23" r="1.7" fill="#000" stroke="none"/>
<circle cx="218" cy="504.4" r="1.7" fill="#000" stroke="none"/>
<line x1="217.6" y1="593.79" x2="226.6" y2="593.85" stroke-width="1.25"/>
<path d="M226.6,593.85 C228.8,593.85 227.6,600.75 232.6,600.75 L248,600.75 C253,600.75 251.8,593.85 254,593.85" stroke-width="1.1"/>
<ellipse cx="236.85" cy="594.95" rx="3.05" ry="5.9" stroke-width="1.0" transform="rotate(4 236.85 593.85)"/>
<ellipse cx="243.75" cy="594.95" rx="3.05" ry="5.9" stroke-width="1.0" transform="rotate(4 243.75 593.85)"/>
<line x1="249.8" y1="602.25" x2="231.7" y2="586.25" stroke-width="1"/>
<polygon points="230.9,585.45 236.1,587.85 233.6,590.45" fill="#000" stroke="none"/>
<line x1="254" y1="593.85" x2="261.8" y2="593.91" stroke-width="1.25"/>
<line x1="261.8" y1="593.91" x2="270.4" y2="593.97" stroke-width="1.25"/>
<path d="M270.4,593.97 C272.6,593.97 271.4,600.87 276.4,600.87 L291.8,600.87 C296.8,600.87 295.6,593.97 297.8,593.97" stroke-width="1.1"/>
<ellipse cx="280.65" cy="595.07" rx="3.05" ry="5.9" stroke-width="1.0" transform="rotate(4 280.65 593.97)"/>
<ellipse cx="287.55" cy="595.07" rx="3.05" ry="5.9" stroke-width="1.0" transform="rotate(4 287.55 593.97)"/>
<line x1="293.6" y1="602.37" x2="275.5" y2="586.37" stroke-width="1"/>
<polygon points="274.7,585.57 279.9,587.97 277.4,590.57" fill="#000" stroke="none"/>
<line x1="297.8" y1="593.97" x2="305.2" y2="594.03" stroke-width="1.25"/>
<line x1="305.2" y1="594.03" x2="313.7" y2="594.09" stroke-width="1.25"/>
<path d="M313.7,594.09 C315.9,594.09 314.7,600.99 319.7,600.99 L335.1,600.99 C340.1,600.99 338.9,594.09 341.1,594.09" stroke-width="1.1"/>
<ellipse cx="323.95" cy="595.19" rx="3.05" ry="5.9" stroke-width="1.0" transform="rotate(4 323.95 594.09)"/>
<ellipse cx="330.85" cy="595.19" rx="3.05" ry="5.9" stroke-width="1.0" transform="rotate(4 330.85 594.09)"/>
<line x1="336.9" y1="602.49" x2="318.8" y2="586.49" stroke-width="1"/>
<polygon points="318,585.69 323.2,588.09 320.7,590.69" fill="#000" stroke="none"/>
<line x1="341.1" y1="594.09" x2="348.4" y2="594.15" stroke-width="1.25"/>
<line x1="348.4" y1="594.15" x2="357.15" y2="594.21" stroke-width="1.25"/>
<path d="M357.15,594.21 C359.35,594.21 358.15,601.11 363.15,601.11 L378.55,601.11 C383.55,601.11 382.35,594.21 384.55,594.21" stroke-width="1.1"/>
<ellipse cx="367.4" cy="595.31" rx="3.05" ry="5.9" stroke-width="1.0" transform="rotate(4 367.4 594.21)"/>
<ellipse cx="374.3" cy="595.31" rx="3.05" ry="5.9" stroke-width="1.0" transform="rotate(4 374.3 594.21)"/>
<line x1="380.35" y1="602.61" x2="362.25" y2="586.61" stroke-width="1"/>
<polygon points="361.45,585.81 366.65,588.21 364.15,590.81" fill="#000" stroke="none"/>
<line x1="384.55" y1="594.21" x2="392.1" y2="594.26" stroke-width="1.25"/>
<line x1="392.1" y1="594.26" x2="400.8" y2="594.33" stroke-width="1.25"/>
<path d="M400.8,594.33 C403,594.33 401.8,601.23 406.8,601.23 L422.2,601.23 C427.2,601.23 426,594.33 428.2,594.33" stroke-width="1.1"/>
<ellipse cx="411.05" cy="595.43" rx="3.05" ry="5.9" stroke-width="1.0" transform="rotate(4 411.05 594.33)"/>
<ellipse cx="417.95" cy="595.43" rx="3.05" ry="5.9" stroke-width="1.0" transform="rotate(4 417.95 594.33)"/>
<line x1="424" y1="602.73" x2="405.9" y2="586.73" stroke-width="1"/>
<polygon points="405.1,585.93 410.3,588.33 407.8,590.93" fill="#000" stroke="none"/>
<line x1="428.2" y1="594.33" x2="435.7" y2="594.38" stroke-width="1.25"/>
<line x1="435.7" y1="594.38" x2="445.3" y2="594.45" stroke-width="1.25"/>
<path d="M445.3,594.45 C447.5,594.45 446.3,601.35 451.3,601.35 L466.7,601.35 C471.7,601.35 470.5,594.45 472.7,594.45" stroke-width="1.1"/>
<ellipse cx="455.55" cy="595.55" rx="3.05" ry="5.9" stroke-width="1.0" transform="rotate(4 455.55 594.45)"/>
<ellipse cx="462.45" cy="595.55" rx="3.05" ry="5.9" stroke-width="1.0" transform="rotate(4 462.45 594.45)"/>
<line x1="472.7" y1="594.45" x2="480.7" y2="594.5" stroke-width="1.25"/>
<path d="M480.7,594.54 L487.6,594.54 A7.3,7.08 0 0 0 502.2,594.54 L509.1,594.54" stroke-width="1"/>
<line x1="491.3" y1="590.74" x2="504.3" y2="606.94" stroke-width="1"/>
<polygon points="489.7,588.74 494.3,590.94 491.1,593.54" fill="#000" stroke="none"/>
<path d="M509.1,594.62 L516.45,594.62 A7.3,7.08 0 0 0 531.05,594.62 L538.4,594.62" stroke-width="1"/>
<line x1="520.15" y1="590.82" x2="533.15" y2="607.02" stroke-width="1"/>
<polygon points="518.55,588.82 523.15,591.02 519.95,593.62" fill="#000" stroke="none"/>
<path d="M538.4,594.7 L545.75,594.7 A7.3,7.08 0 0 0 560.35,594.7 L567.7,594.7" stroke-width="1"/>
<line x1="549.45" y1="590.9" x2="562.45" y2="607.1" stroke-width="1"/>
<polygon points="547.85,588.9 552.45,591.1 549.25,593.7" fill="#000" stroke="none"/>
<path d="M567.7,594.78 L575.15,594.78 A7.3,7.08 0 0 0 589.75,594.78 L597.2,594.78" stroke-width="1"/>
<line x1="578.85" y1="590.98" x2="591.85" y2="607.18" stroke-width="1"/>
<polygon points="577.25,588.98 581.85,591.18 578.65,593.78" fill="#000" stroke="none"/>
<path d="M597.2,594.86 L604.6,594.86 A7.3,7.08 0 0 0 619.2,594.86 L626.6,594.86" stroke-width="1"/>
<line x1="608.3" y1="591.06" x2="621.3" y2="607.26" stroke-width="1"/>
<polygon points="606.7,589.06 611.3,591.26 608.1,593.86" fill="#000" stroke="none"/>
<path d="M626.6,594.94 L633.8,594.94 A7.3,7.08 0 0 0 648.4,594.94 L655.6,594.94" stroke-width="1"/>
<line x1="637.5" y1="591.14" x2="650.5" y2="607.34" stroke-width="1"/>
<polygon points="635.9,589.14 640.5,591.34 637.3,593.94" fill="#000" stroke="none"/>
<line x1="655.6" y1="594.98" x2="663.2" y2="595.03" stroke-width="1.25"/>
<path d="M663.2,595.03 C665.4,595.03 664.2,601.93 669.2,601.93 L685.6,601.93 C690.6,601.93 689.4,595.03 691.6,595.03" stroke-width="1.1"/>
<ellipse cx="673.1" cy="596.13" rx="3.7" ry="5.9" stroke-width="1.0" transform="rotate(4 673.1 595.03)"/>
<ellipse cx="681.7" cy="596.13" rx="3.7" ry="5.9" stroke-width="1.0" transform="rotate(4 681.7 595.03)"/>
<line x1="261.8" y1="593.91" x2="261.8" y2="565.31" stroke-width="1.25"/>
<circle cx="261.8" cy="563.91" r="1.6" fill="#fff" stroke-width="0.8"/>
<circle cx="261.8" cy="593.91" r="1.7" fill="#000" stroke="none"/>
<line x1="305.2" y1="594.03" x2="305.2" y2="565.43" stroke-width="1.25"/>
<circle cx="305.2" cy="564.03" r="1.6" fill="#fff" stroke-width="0.8"/>
<circle cx="305.2" cy="594.03" r="1.7" fill="#000" stroke="none"/>
<line x1="348.4" y1="594.15" x2="348.4" y2="565.55" stroke-width="1.25"/>
<circle cx="348.4" cy="564.15" r="1.6" fill="#fff" stroke-width="0.8"/>
<circle cx="348.4" cy="594.15" r="1.7" fill="#000" stroke="none"/>
<line x1="392.1" y1="594.26" x2="392.1" y2="565.66" stroke-width="1.25"/>
<circle cx="392.1" cy="564.26" r="1.6" fill="#fff" stroke-width="0.8"/>
<circle cx="392.1" cy="594.26" r="1.7" fill="#000" stroke="none"/>
<line x1="435.7" y1="594.38" x2="435.7" y2="565.78" stroke-width="1.25"/>
<circle cx="435.7" cy="564.38" r="1.6" fill="#fff" stroke-width="0.8"/>
<circle cx="435.7" cy="594.38" r="1.7" fill="#000" stroke="none"/>
<line x1="480.7" y1="594.5" x2="480.7" y2="565.9" stroke-width="1.25"/>
<circle cx="480.7" cy="564.5" r="1.6" fill="#fff" stroke-width="0.8"/>
<circle cx="480.7" cy="594.5" r="1.7" fill="#000" stroke="none"/>
<line x1="509.1" y1="594.58" x2="509.1" y2="565.98" stroke-width="1.25"/>
<circle cx="509.1" cy="564.58" r="1.6" fill="#fff" stroke-width="0.8"/>
<circle cx="509.1" cy="594.58" r="1.7" fill="#000" stroke="none"/>
<line x1="538.4" y1="594.66" x2="538.4" y2="566.06" stroke-width="1.25"/>
<circle cx="538.4" cy="564.66" r="1.6" fill="#fff" stroke-width="0.8"/>
<circle cx="538.4" cy="594.66" r="1.7" fill="#000" stroke="none"/>
<line x1="567.7" y1="594.74" x2="567.7" y2="566.14" stroke-width="1.25"/>
<circle cx="567.7" cy="564.74" r="1.6" fill="#fff" stroke-width="0.8"/>
<circle cx="567.7" cy="594.74" r="1.7" fill="#000" stroke="none"/>
<line x1="597.2" y1="594.82" x2="597.2" y2="566.22" stroke-width="1.25"/>
<circle cx="597.2" cy="564.82" r="1.6" fill="#fff" stroke-width="0.8"/>
<circle cx="597.2" cy="594.82" r="1.7" fill="#000" stroke="none"/>
<line x1="626.6" y1="594.9" x2="626.6" y2="566.3" stroke-width="1.25"/>
<circle cx="626.6" cy="564.9" r="1.6" fill="#fff" stroke-width="0.8"/>
<circle cx="626.6" cy="594.9" r="1.7" fill="#000" stroke="none"/>
<line x1="655.6" y1="594.98" x2="655.6" y2="566.38" stroke-width="1.25"/>
<circle cx="655.6" cy="564.98" r="1.6" fill="#fff" stroke-width="0.8"/>
<circle cx="655.6" cy="594.98" r="1.7" fill="#000" stroke="none"/>
<circle cx="217.6" cy="593.79" r="1.7" fill="#000" stroke="none"/>
<text x="262.37" y="550.4" font-size="7.6" font-weight="bold" text-anchor="middle" fill="#000" font-family='"Liberation Sans", sans-serif' textLength="3.2" lengthAdjust="spacingAndGlyphs" stroke="#000" stroke-width="0.35">2</text>
<text x="305.77" y="550.4" font-size="7.6" font-weight="bold" text-anchor="middle" fill="#000" font-family='"Liberation Sans", sans-serif' textLength="3.2" lengthAdjust="spacingAndGlyphs" stroke="#000" stroke-width="0.35">3</text>
<text x="348.97" y="550.4" font-size="7.6" font-weight="bold" text-anchor="middle" fill="#000" font-family='"Liberation Sans", sans-serif' textLength="3.2" lengthAdjust="spacingAndGlyphs" stroke="#000" stroke-width="0.35">4</text>
<text x="392.67" y="550.4" font-size="7.6" font-weight="bold" text-anchor="middle" fill="#000" font-family='"Liberation Sans", sans-serif' textLength="3.2" lengthAdjust="spacingAndGlyphs" stroke="#000" stroke-width="0.35">5</text>
<text x="436.27" y="550.4" font-size="7.6" font-weight="bold" text-anchor="middle" fill="#000" font-family='"Liberation Sans", sans-serif' textLength="3.2" lengthAdjust="spacingAndGlyphs" stroke="#000" stroke-width="0.35">6</text>
<text x="480.9" y="550.4" font-size="7.6" font-weight="bold" text-anchor="middle" fill="#000" font-family='"Liberation Sans", sans-serif' textLength="3.2" lengthAdjust="spacingAndGlyphs" stroke="#000" stroke-width="0.35">7</text>
<text x="509.3" y="550.4" font-size="7.6" font-weight="bold" text-anchor="middle" fill="#000" font-family='"Liberation Sans", sans-serif' textLength="3.2" lengthAdjust="spacingAndGlyphs" stroke="#000" stroke-width="0.35">8</text>
<text x="538.6" y="550.4" font-size="7.6" font-weight="bold" text-anchor="middle" fill="#000" font-family='"Liberation Sans", sans-serif' textLength="3.2" lengthAdjust="spacingAndGlyphs" stroke="#000" stroke-width="0.35">9</text>
<text x="567.9" y="550.4" font-size="7.6" font-weight="bold" text-anchor="middle" fill="#000" font-family='"Liberation Sans", sans-serif' textLength="6.4" lengthAdjust="spacingAndGlyphs" stroke="#000" stroke-width="0.35">10</text>
<text x="597.4" y="550.4" font-size="7.6" font-weight="bold" text-anchor="middle" fill="#000" font-family='"Liberation Sans", sans-serif' textLength="6.4" lengthAdjust="spacingAndGlyphs" stroke="#000" stroke-width="0.35">11</text>
<text x="626.8" y="550.4" font-size="7.6" font-weight="bold" text-anchor="middle" fill="#000" font-family='"Liberation Sans", sans-serif' textLength="6.4" lengthAdjust="spacingAndGlyphs" stroke="#000" stroke-width="0.35">12</text>
<text x="655.8" y="550.4" font-size="7.6" font-weight="bold" text-anchor="middle" fill="#000" font-family='"Liberation Sans", sans-serif' textLength="6.4" lengthAdjust="spacingAndGlyphs" stroke="#000" stroke-width="0.35">13</text>
<line x1="220.2" y1="203.4" x2="219.8" y2="231.6" stroke-width="1.25"/>
<circle cx="219.7" cy="233.2" r="1.6" fill="#fff" stroke-width="0.8"/>
<circle cx="219.7" cy="248.1" r="1.6" fill="#fff" stroke-width="0.8"/>
<circle cx="219.7" cy="263" r="1.6" fill="#fff" stroke-width="0.8"/>
<line x1="219.7" y1="235" x2="219.6" y2="246.4" stroke-width="0.8"/>
<line x1="219.6" y1="250" x2="219.6" y2="257" stroke-width="0.8"/>
<line x1="219.6" y1="264.6" x2="219.6" y2="293.2" stroke-width="1.25"/>
<polyline points="219.6,240.2 225,238.6" stroke-width="0.9"/>
<polyline points="226.6,238.2 231.2,236.9 231.2,240" stroke-width="0.9"/>
<polygon points="220,311 229.3,320.4 220,329.8 210.7,320.4" fill="#fff" stroke-width="1.1"/>
<text x="220.1" y="323.4" font-size="7.6" font-weight="bold" text-anchor="middle" fill="#000" font-family='"Liberation Sans", sans-serif' stroke="none">L</text>
<line x1="219.8" y1="329.8" x2="219.2" y2="353.3" stroke-width="1.25"/>
<line x1="219.2" y1="353.3" x2="218.6" y2="383" stroke-width="1.25"/>
<circle cx="218.5" cy="384.6" r="1.6" fill="#fff" stroke-width="0.8"/>
<circle cx="218.5" cy="398.8" r="1.6" fill="#fff" stroke-width="0.8"/>
<circle cx="218.5" cy="412.8" r="1.6" fill="#fff" stroke-width="0.8"/>
<line x1="218.5" y1="385" x2="218.5" y2="396.6" stroke-width="0.8"/>
<line x1="218.5" y1="400" x2="218.5" y2="407" stroke-width="0.8"/>
<line x1="218.5" y1="414.3" x2="218.6" y2="443.5" stroke-width="1.25"/>
<polyline points="218.5,392.4 224,390.6" stroke-width="0.9"/>
<polyline points="225.6,390.2 230.4,388.8" stroke-width="0.9"/>
<line x1="218" y1="504.4" x2="217.8" y2="533.4" stroke-width="1.25"/>
<circle cx="217.7" cy="535" r="1.6" fill="#fff" stroke-width="0.8"/>
<circle cx="217.7" cy="547.7" r="1.6" fill="#fff" stroke-width="0.8"/>
<circle cx="217.7" cy="561.7" r="1.6" fill="#fff" stroke-width="0.8"/>
<line x1="217.7" y1="536.6" x2="217.7" y2="546" stroke-width="0.8"/>
<line x1="217.7" y1="549.4" x2="217.7" y2="556" stroke-width="0.8"/>
<line x1="217.7" y1="563.3" x2="217.6" y2="593.8" stroke-width="1.25"/>
<polyline points="217.7,542.6 223,540.6" stroke-width="0.9"/>
<polyline points="224.6,540 230,538" stroke-width="0.9"/>
<line x1="231.2" y1="240.5" x2="230" y2="538" stroke-width="0.9" stroke-dasharray="6 2.4"/>
<polyline points="220.2,203.4 201.7,203.4" stroke-width="1.25"/>
<polyline points="178.3,203.4 180.25,200.8 184.15,206 188.05,200.8 191.95,206 195.85,200.8 199.75,206 201.7,203.4" stroke-width="1.2"/>
<polyline points="178.3,203.4 161.7,203.4 161.5,315" stroke-width="1.25"/>
<ellipse cx="190" cy="190.8" rx="9.2" ry="6.8" fill="#fff" stroke-width="1.3"/>
<text x="183.5" y="194.3" font-size="9.8" font-weight="bold" text-anchor="start" fill="#000" font-family='"Liberation Sans", sans-serif' textLength="13" lengthAdjust="spacingAndGlyphs" stroke="#000" stroke-width="0.6">R604</text>
<text x="176.4" y="212.8" font-size="6" font-weight="normal" text-anchor="start" fill="#000" font-family='"Liberation Sans", sans-serif' textLength="17.5" lengthAdjust="spacingAndGlyphs" stroke="#000" stroke-width="0.32">4700</text>
<text x="195" y="212.8" font-size="5.6" font-weight="normal" text-anchor="start" fill="#000" font-family='"Liberation Sans", sans-serif' textLength="5.6" lengthAdjust="spacingAndGlyphs" stroke="#000" stroke-width="0.32">Ω</text>
<polyline points="219.6,293.2 201.7,293" stroke-width="1.25"/>
<polyline points="178.3,293 180.25,290.4 184.15,295.6 188.05,290.4 191.95,295.6 195.85,290.4 199.75,295.6 201.7,293" stroke-width="1.2"/>
<polyline points="178.3,293 132.6,292.6 131.8,413.3" stroke-width="1.25"/>
<circle cx="161.6" cy="292.8" r="1.7" fill="#000" stroke="none"/>
<ellipse cx="190" cy="280.6" rx="9.2" ry="6.8" fill="#fff" stroke-width="1.3"/>
<text x="183.5" y="284.1" font-size="9.8" font-weight="bold" text-anchor="start" fill="#000" font-family='"Liberation Sans", sans-serif' textLength="13" lengthAdjust="spacingAndGlyphs" stroke="#000" stroke-width="0.6">R605</text>
<text x="176.4" y="303" font-size="6" font-weight="normal" text-anchor="start" fill="#000" font-family='"Liberation Sans", sans-serif' textLength="17.5" lengthAdjust="spacingAndGlyphs" stroke="#000" stroke-width="0.32">4700</text>
<text x="195" y="303" font-size="5.6" font-weight="normal" text-anchor="start" fill="#000" font-family='"Liberation Sans", sans-serif' textLength="5.6" lengthAdjust="spacingAndGlyphs" stroke="#000" stroke-width="0.32">Ω</text>
<line x1="153.65" y1="315" x2="168.15" y2="315" stroke-width="1.5"/>
<path d="M153.65,321 Q160.9,318 168.15,321" stroke-width="1.4"/>
<line x1="161" y1="319" x2="161" y2="340" stroke-width="1.25"/>
<line x1="154" y1="340.2" x2="168" y2="340.2" stroke-width="1.1"/>
<line x1="155.96" y1="342.6" x2="166.04" y2="342.6" stroke-width="1"/>
<line x1="157.92" y1="344.9" x2="164.08" y2="344.9" stroke-width="1"/>
<line x1="159.88" y1="346.8" x2="162.12" y2="346.8" stroke-width="0.9"/>
<ellipse cx="143.4" cy="318.4" rx="9.2" ry="6.8" fill="#fff" stroke-width="1.3"/>
<text x="136.9" y="321.9" font-size="9.8" font-weight="bold" text-anchor="start" fill="#000" font-family='"Liberation Sans", sans-serif' textLength="13" lengthAdjust="spacingAndGlyphs" stroke="#000" stroke-width="0.6">C611</text>
<text x="170.2" y="315.8" font-size="6" font-weight="normal" text-anchor="start" fill="#000" font-family='"Liberation Sans", sans-serif' textLength="16.6" lengthAdjust="spacingAndGlyphs" stroke="#000" stroke-width="0.32">1500</text>
<text x="170.2" y="322.6" font-size="6" font-weight="normal" text-anchor="start" fill="#000" font-family='"Liberation Sans", sans-serif' textLength="16.6" lengthAdjust="spacingAndGlyphs" stroke="#000" stroke-width="0.32">MMF</text>
<polyline points="219.2,353.3 176.2,353.3 176.2,368.3" stroke-width="1.25"/>
<polyline points="176.2,368.3 178.8,370.12 173.6,373.77 178.8,377.43 173.6,381.07 178.8,384.73 173.6,388.38 176.2,390.2" stroke-width="1.2"/>
<line x1="176.2" y1="390.2" x2="176.2" y2="403.2" stroke-width="1.25"/>
<line x1="169.2" y1="403.4" x2="183.2" y2="403.4" stroke-width="1.1"/>
<line x1="171.16" y1="405.8" x2="181.24" y2="405.8" stroke-width="1"/>
<line x1="173.12" y1="408.1" x2="179.28" y2="408.1" stroke-width="1"/>
<line x1="175.08" y1="410" x2="177.32" y2="410" stroke-width="0.9"/>
<ellipse cx="160.8" cy="380.2" rx="9.2" ry="6.8" fill="#fff" stroke-width="1.3"/>
<text x="154.3" y="383.7" font-size="9.8" font-weight="bold" text-anchor="start" fill="#000" font-family='"Liberation Sans", sans-serif' textLength="13" lengthAdjust="spacingAndGlyphs" stroke="#000" stroke-width="0.6">R607</text>
<text x="180.6" y="383" font-size="6" font-weight="normal" text-anchor="start" fill="#000" font-family='"Liberation Sans", sans-serif' textLength="22.6" lengthAdjust="spacingAndGlyphs" stroke="#000" stroke-width="0.32">1 MEG.</text>
<polyline points="131.8,413.3 134.4,415.11 129.2,418.73 134.4,422.34 129.2,425.96 134.4,429.57 129.2,433.19 131.8,435" stroke-width="1.2"/>
<polyline points="131.8,435 131.6,613.8" stroke-width="1.25"/>
<ellipse cx="117.4" cy="424.4" rx="9.2" ry="6.8" fill="#fff" stroke-width="1.3"/>
<text x="110.9" y="427.9" font-size="9.8" font-weight="bold" text-anchor="start" fill="#000" font-family='"Liberation Sans", sans-serif' textLength="13" lengthAdjust="spacingAndGlyphs" stroke="#000" stroke-width="0.6">R606</text>
<text x="136" y="426.6" font-size="6" font-weight="normal" text-anchor="start" fill="#000" font-family='"Liberation Sans", sans-serif' textLength="19" lengthAdjust="spacingAndGlyphs" stroke="#000" stroke-width="0.32">1000</text>
<text x="156" y="426.6" font-size="5.6" font-weight="normal" text-anchor="start" fill="#000" font-family='"Liberation Sans", sans-serif' textLength="5.6" lengthAdjust="spacingAndGlyphs" stroke="#000" stroke-width="0.32">Ω</text>
<circle cx="131.7" cy="473.5" r="1.7" fill="#000" stroke="none"/>
<circle cx="131.6" cy="593.4" r="1.7" fill="#000" stroke="none"/>
<polyline points="218.6,443.5 175.2,443.5 175.2,459.4" stroke-width="1.25"/>
<line x1="167.35" y1="459.4" x2="181.85" y2="459.4" stroke-width="1.5"/>
<path d="M167.35,466 Q174.6,463 181.85,466" stroke-width="1.4"/>
<path d="M175,464 L175,470.6 Q172.4,473.5 175,476.4 L175,480 Q176.4,488 172,503" stroke-width="1.25"/>
<ellipse cx="157.8" cy="461.8" rx="9.2" ry="6.8" fill="#fff" stroke-width="1.3"/>
<text x="151.3" y="465.3" font-size="9.8" font-weight="bold" text-anchor="start" fill="#000" font-family='"Liberation Sans", sans-serif' textLength="13" lengthAdjust="spacingAndGlyphs" stroke="#000" stroke-width="0.6">C612</text>
<text x="186.2" y="460.6" font-size="6" font-weight="normal" text-anchor="start" fill="#000" font-family='"Liberation Sans", sans-serif' textLength="8.4" lengthAdjust="spacingAndGlyphs" stroke="#000" stroke-width="0.32">22</text>
<text x="184.6" y="467.4" font-size="6" font-weight="normal" text-anchor="start" fill="#000" font-family='"Liberation Sans", sans-serif' textLength="17.4" lengthAdjust="spacingAndGlyphs" stroke="#000" stroke-width="0.32">MMF</text>
<ellipse cx="173.6" cy="507.89" rx="5" ry="5.44" stroke-width="0.95"/>
<ellipse cx="173.6" cy="516.66" rx="5" ry="5.44" stroke-width="0.95"/>
<ellipse cx="173.6" cy="525.44" rx="5" ry="5.44" stroke-width="0.95"/>
<ellipse cx="173.6" cy="534.21" rx="5" ry="5.44" stroke-width="0.95"/>
<polyline points="172.4,538.6 174.2,544 174.2,555" stroke-width="1.25"/>
<line x1="167.2" y1="555.2" x2="181.2" y2="555.2" stroke-width="1.1"/>
<line x1="169.16" y1="557.6" x2="179.24" y2="557.6" stroke-width="1"/>
<line x1="171.12" y1="559.9" x2="177.28" y2="559.9" stroke-width="1"/>
<line x1="173.08" y1="561.8" x2="175.32" y2="561.8" stroke-width="0.9"/>
<ellipse cx="190.2" cy="523.4" rx="9.2" ry="6.8" fill="#fff" stroke-width="1.3"/>
<text x="183.7" y="526.9" font-size="9.8" font-weight="bold" text-anchor="start" fill="#000" font-family='"Liberation Sans", sans-serif' textLength="13" lengthAdjust="spacingAndGlyphs" stroke="#000" stroke-width="0.6">L605</text>
<text x="151.8" y="524.6" font-size="6" font-weight="normal" text-anchor="start" fill="#000" font-family='"Liberation Sans", sans-serif' textLength="4.6" lengthAdjust="spacingAndGlyphs" stroke="#000" stroke-width="0.32">0</text>
<text x="156.8" y="524.6" font-size="5.6" font-weight="normal" text-anchor="start" fill="#000" font-family='"Liberation Sans", sans-serif' textLength="5.4" lengthAdjust="spacingAndGlyphs" stroke="#000" stroke-width="0.32">Ω</text>
<line x1="131.7" y1="473.5" x2="381.7" y2="473.8" stroke-width="1.25"/>
<polyline points="381.7,473.8 383.5,471.2 387.1,476.4 390.7,471.2 394.3,476.4 397.9,471.2 401.5,476.4 403.3,473.8" stroke-width="1.2"/>
<path d="M403.3,473.8 L671.4,474.4" stroke-width="1.25"/>
<path d="M683.6,474.5 L797.6,475.0 Q801,472 804.4,475.0 L1022,475.7" stroke-width="1.25"/>
<polygon points="1029.6,475.7 1022.6,473.7 1022.6,477.7" fill="#000" stroke="none"/>
<ellipse cx="392.4" cy="461" rx="9.2" ry="6.8" fill="#fff" stroke-width="1.3"/>
<text x="385.9" y="464.5" font-size="9.8" font-weight="bold" text-anchor="start" fill="#000" font-family='"Liberation Sans", sans-serif' textLength="13" lengthAdjust="spacingAndGlyphs" stroke="#000" stroke-width="0.6">R610</text>
<text x="384.2" y="483.8" font-size="6" font-weight="normal" text-anchor="start" fill="#000" font-family='"Liberation Sans", sans-serif' textLength="12.4" lengthAdjust="spacingAndGlyphs" stroke="#000" stroke-width="0.32">150</text>
<text x="397.6" y="483.8" font-size="5.6" font-weight="normal" text-anchor="start" fill="#000" font-family='"Liberation Sans", sans-serif' textLength="5.6" lengthAdjust="spacingAndGlyphs" stroke="#000" stroke-width="0.32">Ω</text>
<text x="1019.4" y="471.4" font-size="6" font-weight="normal" text-anchor="start" fill="#000" font-family='"Liberation Sans", sans-serif' textLength="13.8" lengthAdjust="spacingAndGlyphs" stroke="#000" stroke-width="0.32">B+5</text>
<line x1="131.6" y1="593.4" x2="156.7" y2="593.5" stroke-width="1.25"/>
<polyline points="156.7,593.5 158.5,590.9 162.1,596.1 165.7,590.9 169.3,596.1 172.9,590.9 176.5,596.1 178.3,593.5" stroke-width="1.2"/>
<line x1="178.3" y1="593.5" x2="217.6" y2="593.8" stroke-width="1.25"/>
<circle cx="204" cy="593.7" r="1.7" fill="#000" stroke="none"/>
<polyline points="218,504.4 204.2,504.4 204,613.8" stroke-width="1.25"/>
<ellipse cx="167.4" cy="579.4" rx="9.2" ry="6.8" fill="#fff" stroke-width="1.3"/>
<text x="160.9" y="582.9" font-size="9.8" font-weight="bold" text-anchor="start" fill="#000" font-family='"Liberation Sans", sans-serif' textLength="13" lengthAdjust="spacingAndGlyphs" stroke="#000" stroke-width="0.6">R611</text>
<text x="155" y="603.4" font-size="6" font-weight="normal" text-anchor="start" fill="#000" font-family='"Liberation Sans", sans-serif' textLength="19.4" lengthAdjust="spacingAndGlyphs" stroke="#000" stroke-width="0.32">4700</text>
<text x="175.6" y="603.4" font-size="5.6" font-weight="normal" text-anchor="start" fill="#000" font-family='"Liberation Sans", sans-serif' textLength="5.6" lengthAdjust="spacingAndGlyphs" stroke="#000" stroke-width="0.32">Ω</text>
<line x1="123.95" y1="613.8" x2="138.45" y2="613.8" stroke-width="1.5"/>
<path d="M123.95,620.8 Q131.2,617.8 138.45,620.8" stroke-width="1.4"/>
<line x1="131.2" y1="618.8" x2="131.2" y2="638.2" stroke-width="1.25"/>
<line x1="124.2" y1="638.4" x2="138.2" y2="638.4" stroke-width="1.1"/>
<line x1="126.16" y1="640.8" x2="136.24" y2="640.8" stroke-width="1"/>
<line x1="128.12" y1="643.1" x2="134.28" y2="643.1" stroke-width="1"/>
<line x1="130.08" y1="645" x2="132.32" y2="645" stroke-width="0.9"/>
<ellipse cx="114" cy="617.4" rx="9.2" ry="6.8" fill="#fff" stroke-width="1.3"/>
<text x="107.5" y="620.9" font-size="9.8" font-weight="bold" text-anchor="start" fill="#000" font-family='"Liberation Sans", sans-serif' textLength="13" lengthAdjust="spacingAndGlyphs" stroke="#000" stroke-width="0.6">C613</text>
<text x="140.2" y="615.2" font-size="6" font-weight="normal" text-anchor="start" fill="#000" font-family='"Liberation Sans", sans-serif' textLength="18.2" lengthAdjust="spacingAndGlyphs" stroke="#000" stroke-width="0.32">1500</text>
<text x="140.2" y="622.2" font-size="6" font-weight="normal" text-anchor="start" fill="#000" font-family='"Liberation Sans", sans-serif' textLength="17.6" lengthAdjust="spacingAndGlyphs" stroke="#000" stroke-width="0.32">MMF</text>
<line x1="196.45" y1="613.8" x2="210.95" y2="613.8" stroke-width="1.5"/>
<path d="M196.45,620.8 Q203.7,617.8 210.95,620.8" stroke-width="1.4"/>
<line x1="203.7" y1="618.8" x2="203.7" y2="638.2" stroke-width="1.25"/>
<line x1="196.7" y1="638.4" x2="210.7" y2="638.4" stroke-width="1.1"/>
<line x1="198.66" y1="640.8" x2="208.74" y2="640.8" stroke-width="1"/>
<line x1="200.62" y1="643.1" x2="206.78" y2="643.1" stroke-width="1"/>
<line x1="202.58" y1="645" x2="204.82" y2="645" stroke-width="0.9"/>
<ellipse cx="186" cy="617.4" rx="9.2" ry="6.8" fill="#fff" stroke-width="1.3"/>
<text x="179.5" y="620.9" font-size="9.8" font-weight="bold" text-anchor="start" fill="#000" font-family='"Liberation Sans", sans-serif' textLength="13" lengthAdjust="spacingAndGlyphs" stroke="#000" stroke-width="0.6">C614</text>
<text x="215.6" y="615.2" font-size="6" font-weight="normal" text-anchor="start" fill="#000" font-family='"Liberation Sans", sans-serif' textLength="7.4" lengthAdjust="spacingAndGlyphs" stroke="#000" stroke-width="0.32">10</text>
<text x="211.8" y="622.2" font-size="6" font-weight="normal" text-anchor="start" fill="#000" font-family='"Liberation Sans", sans-serif' textLength="17.4" lengthAdjust="spacingAndGlyphs" stroke="#000" stroke-width="0.32">MMF</text>
<polyline points="350,203.4 341.9,223.6 341.9,290.6" stroke-width="1.25"/>
<path d="M341.9,290.6 Q339.2,293.2 341.9,295.8 L341.9,321.0" stroke-width="1.25"/>
<line x1="335.4" y1="321" x2="349" y2="321" stroke-width="1.5"/>
<path d="M335.4,327.4 Q342.2,324.4 349,327.4" stroke-width="1.4"/>
<path d="M341.9,325.4 L341.9,350.8 Q339.2,353.4 341.9,356 L341.6,430.2 L349.0,443.5" stroke-width="1.25"/>
<ellipse cx="324" cy="323.4" rx="9.2" ry="6.8" fill="#fff" stroke-width="1.3"/>
<text x="317.5" y="326.9" font-size="9.8" font-weight="bold" text-anchor="start" fill="#000" font-family='"Liberation Sans", sans-serif' textLength="13" lengthAdjust="spacingAndGlyphs" stroke="#000" stroke-width="0.6">C610</text>
<text x="356.2" y="321.8" font-size="6" font-weight="normal" text-anchor="start" fill="#000" font-family='"Liberation Sans", sans-serif' textLength="10.6" lengthAdjust="spacingAndGlyphs" stroke="#000" stroke-width="0.32">2.2</text>
<text x="354.4" y="328" font-size="6" font-weight="normal" text-anchor="start" fill="#000" font-family='"Liberation Sans", sans-serif' textLength="14.6" lengthAdjust="spacingAndGlyphs" stroke="#000" stroke-width="0.32">MMF</text>
<line x1="437.3" y1="293.2" x2="437.3" y2="320.8" stroke-width="1.25"/>
<line x1="430.35" y1="320.8" x2="444.85" y2="320.8" stroke-width="1.5"/>
<path d="M430.35,327.4 Q437.6,324.4 444.85,327.4" stroke-width="1.4"/>
<line x1="437.3" y1="325.4" x2="437" y2="353.5" stroke-width="1.25"/>
<ellipse cx="427.4" cy="311.2" rx="9.2" ry="6.8" fill="#fff" stroke-width="1.3"/>
<text x="420.9" y="314.7" font-size="9.8" font-weight="bold" text-anchor="start" fill="#000" font-family='"Liberation Sans", sans-serif' textLength="13" lengthAdjust="spacingAndGlyphs" stroke="#000" stroke-width="0.6">C609</text>
<text x="412.6" y="326.6" font-size="6" font-weight="normal" text-anchor="start" fill="#000" font-family='"Liberation Sans", sans-serif' textLength="10.4" lengthAdjust="spacingAndGlyphs" stroke="#000" stroke-width="0.32">4.7</text>
<text x="410.2" y="332.6" font-size="6" font-weight="normal" text-anchor="start" fill="#000" font-family='"Liberation Sans", sans-serif' textLength="17.6" lengthAdjust="spacingAndGlyphs" stroke="#000" stroke-width="0.32">MMF</text>
<rect x="452.8" y="302.8" width="13.8" height="40.6" rx="6.9" ry="6.9" stroke-width="1"/>
<path d="M677.4,453.2 C669,453.6 668.4,468 671.6,474.4 C668.4,481 669,495.6 677.6,496.2 C686,495.6 686.6,481 683.6,474.5 C686.6,468 686,453.6 677.4,453.2 Z" stroke-width="1.25"/>
<polyline points="539.3,353.7 527.8,366.8 527.8,386.6" stroke-width="1.25"/>
<polyline points="527.8,386.6 530.4,388.4 525.2,392 530.4,395.6 525.2,399.2 530.4,402.8 525.2,406.4 527.8,408.2" stroke-width="1.2"/>
<polyline points="527.8,408.2 527.6,434.6 538.3,443.9" stroke-width="1.25"/>
<ellipse cx="511.8" cy="397.2" rx="9.2" ry="6.8" fill="#fff" stroke-width="1.3"/>
<text x="505.3" y="400.7" font-size="9.8" font-weight="bold" text-anchor="start" fill="#000" font-family='"Liberation Sans", sans-serif' textLength="13" lengthAdjust="spacingAndGlyphs" stroke="#000" stroke-width="0.6">R608</text>
<text x="533.4" y="399.4" font-size="6" font-weight="normal" text-anchor="start" fill="#000" font-family='"Liberation Sans", sans-serif' textLength="13.2" lengthAdjust="spacingAndGlyphs" stroke="#000" stroke-width="0.32">10K</text>
<rect x="447.2" y="221.6" width="20" height="13.8" fill="#fff" stroke-width="1.3"/>
<text x="449.8" y="231.9" font-size="9.5" font-weight="bold" text-anchor="start" fill="#000" font-family='"Liberation Sans", sans-serif' textLength="14.8" lengthAdjust="spacingAndGlyphs" stroke="#000" stroke-width="0.5">A605</text>
<line x1="455.6" y1="213.5" x2="465.6" y2="213.5" stroke-width="0.9"/>
<line x1="455.6" y1="217.9" x2="465.6" y2="217.9" stroke-width="0.9"/>
<line x1="458.4" y1="213.5" x2="458.4" y2="217.9" stroke-width="0.8"/>
<line x1="460.6" y1="213.5" x2="460.6" y2="217.9" stroke-width="0.8"/>
<line x1="462.8" y1="213.5" x2="462.8" y2="217.9" stroke-width="0.8"/>
<line x1="467.1" y1="219.3" x2="452.6" y2="211.1" stroke-width="0.9"/>
<polygon points="451.6,210.3 456,211.1 454,214.1" fill="#000" stroke="none"/>
<rect x="447.2" y="261.6" width="19.6" height="13.4" fill="#fff" stroke-width="1.3"/>
<text x="449.6" y="271.7" font-size="9.5" font-weight="bold" text-anchor="start" fill="#000" font-family='"Liberation Sans", sans-serif' textLength="14.8" lengthAdjust="spacingAndGlyphs" stroke="#000" stroke-width="0.5">A606</text>
<line x1="453.8" y1="280.7" x2="463.8" y2="280.7" stroke-width="0.9"/>
<line x1="453.8" y1="285.1" x2="463.8" y2="285.1" stroke-width="0.9"/>
<line x1="456.6" y1="280.7" x2="456.6" y2="285.1" stroke-width="0.8"/>
<line x1="458.8" y1="280.7" x2="458.8" y2="285.1" stroke-width="0.8"/>
<line x1="461" y1="280.7" x2="461" y2="285.1" stroke-width="0.8"/>
<line x1="465.3" y1="286.5" x2="450.8" y2="278.3" stroke-width="0.9"/>
<polygon points="449.8,277.5 454.2,278.3 452.2,281.3" fill="#000" stroke="none"/>
<rect x="447.2" y="370.6" width="19.6" height="13" fill="#fff" stroke-width="1.3"/>
<text x="449.6" y="380.5" font-size="9.5" font-weight="bold" text-anchor="start" fill="#000" font-family='"Liberation Sans", sans-serif' textLength="14.8" lengthAdjust="spacingAndGlyphs" stroke="#000" stroke-width="0.5">A607</text>
<line x1="455.6" y1="362.7" x2="465.6" y2="362.7" stroke-width="0.9"/>
<line x1="455.6" y1="367.1" x2="465.6" y2="367.1" stroke-width="0.9"/>
<line x1="458.4" y1="362.7" x2="458.4" y2="367.1" stroke-width="0.8"/>
<line x1="460.6" y1="362.7" x2="460.6" y2="367.1" stroke-width="0.8"/>
<line x1="462.8" y1="362.7" x2="462.8" y2="367.1" stroke-width="0.8"/>
<line x1="467.1" y1="368.5" x2="452.6" y2="360.3" stroke-width="0.9"/>
<polygon points="451.6,359.5 456,360.3 454,363.3" fill="#000" stroke="none"/>
<rect x="446.8" y="411.6" width="18.4" height="12.6" fill="#fff" stroke-width="1.3"/>
<text x="448.6" y="421.3" font-size="9.5" font-weight="bold" text-anchor="start" fill="#000" font-family='"Liberation Sans", sans-serif' textLength="14.8" lengthAdjust="spacingAndGlyphs" stroke="#000" stroke-width="0.5">A608</text>
<line x1="453.8" y1="430.5" x2="463.8" y2="430.5" stroke-width="0.9"/>
<line x1="453.8" y1="434.9" x2="463.8" y2="434.9" stroke-width="0.9"/>
<line x1="456.6" y1="430.5" x2="456.6" y2="434.9" stroke-width="0.8"/>
<line x1="458.8" y1="430.5" x2="458.8" y2="434.9" stroke-width="0.8"/>
<line x1="461" y1="430.5" x2="461" y2="434.9" stroke-width="0.8"/>
<line x1="465.3" y1="436.3" x2="450.8" y2="428.1" stroke-width="0.9"/>
<polygon points="449.8,427.3 454.2,428.1 452.2,431.1" fill="#000" stroke="none"/>
<rect x="446.8" y="521.6" width="18.4" height="12.6" fill="#fff" stroke-width="1.3"/>
<text x="448.6" y="531.3" font-size="9.5" font-weight="bold" text-anchor="start" fill="#000" font-family='"Liberation Sans", sans-serif' textLength="14.8" lengthAdjust="spacingAndGlyphs" stroke="#000" stroke-width="0.5">A617</text>
<line x1="455" y1="513.5" x2="465" y2="513.5" stroke-width="0.9"/>
<line x1="455" y1="517.9" x2="465" y2="517.9" stroke-width="0.9"/>
<line x1="457.8" y1="513.5" x2="457.8" y2="517.9" stroke-width="0.8"/>
<line x1="460" y1="513.5" x2="460" y2="517.9" stroke-width="0.8"/>
<line x1="462.2" y1="513.5" x2="462.2" y2="517.9" stroke-width="0.8"/>
<line x1="466.5" y1="519.3" x2="452" y2="511.1" stroke-width="0.9"/>
<polygon points="451,510.3 455.4,511.1 453.4,514.1" fill="#000" stroke="none"/>
<rect x="447.6" y="563.2" width="17.6" height="12.6" fill="#fff" stroke-width="1.3"/>
<text x="449" y="572.9" font-size="9.5" font-weight="bold" text-anchor="start" fill="#000" font-family='"Liberation Sans", sans-serif' textLength="14.8" lengthAdjust="spacingAndGlyphs" stroke="#000" stroke-width="0.5">A618</text>
<line x1="453.8" y1="581.9" x2="463.8" y2="581.9" stroke-width="0.9"/>
<line x1="453.8" y1="586.3" x2="463.8" y2="586.3" stroke-width="0.9"/>
<line x1="456.6" y1="581.9" x2="456.6" y2="586.3" stroke-width="0.8"/>
<line x1="458.8" y1="581.9" x2="458.8" y2="586.3" stroke-width="0.8"/>
<line x1="461" y1="581.9" x2="461" y2="586.3" stroke-width="0.8"/>
<line x1="465.3" y1="587.7" x2="450.8" y2="579.5" stroke-width="0.9"/>
<polygon points="449.8,578.7 454.2,579.5 452.2,582.5" fill="#000" stroke="none"/>
<rect x="668.2" y="221" width="17.6" height="12.6" fill="#fff" stroke-width="1.3"/>
<text x="669.6" y="230.7" font-size="9.5" font-weight="bold" text-anchor="start" fill="#000" font-family='"Liberation Sans", sans-serif' textLength="14.8" lengthAdjust="spacingAndGlyphs" stroke="#000" stroke-width="0.5">A601</text>
<line x1="672.6" y1="213.1" x2="682.6" y2="213.1" stroke-width="0.9"/>
<line x1="672.6" y1="217.5" x2="682.6" y2="217.5" stroke-width="0.9"/>
<line x1="675.4" y1="213.1" x2="675.4" y2="217.5" stroke-width="0.8"/>
<line x1="677.6" y1="213.1" x2="677.6" y2="217.5" stroke-width="0.8"/>
<line x1="679.8" y1="213.1" x2="679.8" y2="217.5" stroke-width="0.8"/>
<line x1="684.1" y1="218.9" x2="669.6" y2="210.7" stroke-width="0.9"/>
<polygon points="668.6,209.9 673,210.7 671,213.7" fill="#000" stroke="none"/>
<rect x="666.8" y="264.2" width="18.4" height="12" fill="#fff" stroke-width="1.3"/>
<text x="668.6" y="273.6" font-size="9.5" font-weight="bold" text-anchor="start" fill="#000" font-family='"Liberation Sans", sans-serif' textLength="14.8" lengthAdjust="spacingAndGlyphs" stroke="#000" stroke-width="0.5">A602</text>
<line x1="672" y1="282.1" x2="682" y2="282.1" stroke-width="0.9"/>
<line x1="672" y1="286.5" x2="682" y2="286.5" stroke-width="0.9"/>
<line x1="674.8" y1="282.1" x2="674.8" y2="286.5" stroke-width="0.8"/>
<line x1="677" y1="282.1" x2="677" y2="286.5" stroke-width="0.8"/>
<line x1="679.2" y1="282.1" x2="679.2" y2="286.5" stroke-width="0.8"/>
<line x1="683.5" y1="287.9" x2="669" y2="279.7" stroke-width="0.9"/>
<polygon points="668,278.9 672.4,279.7 670.4,282.7" fill="#000" stroke="none"/>
<rect x="667.6" y="372.2" width="17.6" height="12.8" fill="#fff" stroke-width="1.3"/>
<text x="669" y="382" font-size="9.5" font-weight="bold" text-anchor="start" fill="#000" font-family='"Liberation Sans", sans-serif' textLength="14.8" lengthAdjust="spacingAndGlyphs" stroke="#000" stroke-width="0.5">A603</text>
<line x1="672.6" y1="363.3" x2="682.6" y2="363.3" stroke-width="0.9"/>
<line x1="672.6" y1="367.7" x2="682.6" y2="367.7" stroke-width="0.9"/>
<line x1="675.4" y1="363.3" x2="675.4" y2="367.7" stroke-width="0.8"/>
<line x1="677.6" y1="363.3" x2="677.6" y2="367.7" stroke-width="0.8"/>
<line x1="679.8" y1="363.3" x2="679.8" y2="367.7" stroke-width="0.8"/>
<line x1="684.1" y1="369.1" x2="669.6" y2="360.9" stroke-width="0.9"/>
<polygon points="668.6,360.1 673,360.9 671,363.9" fill="#000" stroke="none"/>
<rect x="663.4" y="415" width="18.4" height="12.4" fill="#fff" stroke-width="1.3"/>
<text x="665.2" y="424.6" font-size="9.5" font-weight="bold" text-anchor="start" fill="#000" font-family='"Liberation Sans", sans-serif' textLength="14.8" lengthAdjust="spacingAndGlyphs" stroke="#000" stroke-width="0.5">A604</text>
<line x1="670.6" y1="433.1" x2="680.6" y2="433.1" stroke-width="0.9"/>
<line x1="670.6" y1="437.5" x2="680.6" y2="437.5" stroke-width="0.9"/>
<line x1="673.4" y1="433.1" x2="673.4" y2="437.5" stroke-width="0.8"/>
<line x1="675.6" y1="433.1" x2="675.6" y2="437.5" stroke-width="0.8"/>
<line x1="677.8" y1="433.1" x2="677.8" y2="437.5" stroke-width="0.8"/>
<line x1="682.1" y1="438.9" x2="667.6" y2="430.7" stroke-width="0.9"/>
<polygon points="666.6,429.9 671,430.7 669,433.7" fill="#000" stroke="none"/>
<rect x="696.4" y="509.6" width="18.9" height="12.3" fill="#fff" stroke-width="1.3"/>
<text x="698.45" y="519.15" font-size="9.5" font-weight="bold" text-anchor="start" fill="#000" font-family='"Liberation Sans", sans-serif' textLength="14.8" lengthAdjust="spacingAndGlyphs" stroke="#000" stroke-width="0.5">A609</text>
<rect x="659.4" y="605" width="16.4" height="12.4" fill="#fff" stroke-width="1.3"/>
<text x="660.2" y="614.6" font-size="9.5" font-weight="bold" text-anchor="start" fill="#000" font-family='"Liberation Sans", sans-serif' textLength="14.8" lengthAdjust="spacingAndGlyphs" stroke="#000" stroke-width="0.5">A610</text>
<line x1="672" y1="583.3" x2="682" y2="583.3" stroke-width="0.9"/>
<line x1="672" y1="587.7" x2="682" y2="587.7" stroke-width="0.9"/>
<line x1="674.8" y1="583.3" x2="674.8" y2="587.7" stroke-width="0.8"/>
<line x1="677" y1="583.3" x2="677" y2="587.7" stroke-width="0.8"/>
<line x1="679.2" y1="583.3" x2="679.2" y2="587.7" stroke-width="0.8"/>
<line x1="683.5" y1="589.1" x2="669" y2="580.9" stroke-width="0.9"/>
<polygon points="668,580.1 672.4,580.9 670.4,583.9" fill="#000" stroke="none"/>
<rect x="270.8" y="570" width="19" height="13.6" fill="#fff" stroke-width="1.3"/>
<text x="272.9" y="580.2" font-size="9.5" font-weight="bold" text-anchor="start" fill="#000" font-family='"Liberation Sans", sans-serif' textLength="14.8" lengthAdjust="spacingAndGlyphs" stroke="#000" stroke-width="0.5">A622</text>
<rect x="314" y="570" width="16.8" height="13.6" fill="#fff" stroke-width="1.3"/>
<text x="315" y="580.2" font-size="9.5" font-weight="bold" text-anchor="start" fill="#000" font-family='"Liberation Sans", sans-serif' textLength="14.8" lengthAdjust="spacingAndGlyphs" stroke="#000" stroke-width="0.5">A621</text>
<rect x="356.6" y="570" width="18.4" height="13.6" fill="#fff" stroke-width="1.3"/>
<text x="358.4" y="580.2" font-size="9.5" font-weight="bold" text-anchor="start" fill="#000" font-family='"Liberation Sans", sans-serif' textLength="14.8" lengthAdjust="spacingAndGlyphs" stroke="#000" stroke-width="0.5">A620</text>
<rect x="400" y="570" width="17.6" height="13.6" fill="#fff" stroke-width="1.3"/>
<text x="401.4" y="580.2" font-size="9.5" font-weight="bold" text-anchor="start" fill="#000" font-family='"Liberation Sans", sans-serif' textLength="14.8" lengthAdjust="spacingAndGlyphs" stroke="#000" stroke-width="0.5">A619</text>
<rect x="483.3" y="573" width="17.7" height="12.6" fill="#fff" stroke-width="1.3"/>
<text x="484.75" y="582.7" font-size="9.5" font-weight="bold" text-anchor="start" fill="#000" font-family='"Liberation Sans", sans-serif' textLength="14.8" lengthAdjust="spacingAndGlyphs" stroke="#000" stroke-width="0.5">A616</text>
<rect x="512.3" y="573" width="17.1" height="12.6" fill="#fff" stroke-width="1.3"/>
<text x="513.45" y="582.7" font-size="9.5" font-weight="bold" text-anchor="start" fill="#000" font-family='"Liberation Sans", sans-serif' textLength="14.8" lengthAdjust="spacingAndGlyphs" stroke="#000" stroke-width="0.5">A615</text>
<rect x="541.6" y="573" width="17.4" height="12.6" fill="#fff" stroke-width="1.3"/>
<text x="542.9" y="582.7" font-size="9.5" font-weight="bold" text-anchor="start" fill="#000" font-family='"Liberation Sans", sans-serif' textLength="14.8" lengthAdjust="spacingAndGlyphs" stroke="#000" stroke-width="0.5">A614</text>
<rect x="571" y="573" width="16.8" height="12.6" fill="#fff" stroke-width="1.3"/>
<text x="572" y="582.7" font-size="9.5" font-weight="bold" text-anchor="start" fill="#000" font-family='"Liberation Sans", sans-serif' textLength="14.8" lengthAdjust="spacingAndGlyphs" stroke="#000" stroke-width="0.5">A613</text>
<rect x="601" y="573" width="17.4" height="12.6" fill="#fff" stroke-width="1.3"/>
<text x="602.3" y="582.7" font-size="9.5" font-weight="bold" text-anchor="start" fill="#000" font-family='"Liberation Sans", sans-serif' textLength="14.8" lengthAdjust="spacingAndGlyphs" stroke="#000" stroke-width="0.5">A612</text>
<rect x="630" y="573" width="16.8" height="12.6" fill="#fff" stroke-width="1.3"/>
<text x="631" y="582.7" font-size="9.5" font-weight="bold" text-anchor="start" fill="#000" font-family='"Liberation Sans", sans-serif' textLength="14.8" lengthAdjust="spacingAndGlyphs" stroke="#000" stroke-width="0.5">A611</text>
<text x="361.8" y="623.6" font-size="7.4" font-weight="normal" text-anchor="start" fill="#000" font-family='"Liberation Sans", sans-serif' textLength="227.4" lengthAdjust="spacingAndGlyphs" word-spacing="1.5" stroke="#000" stroke-width="0.25">A PHOTOFACT STANDARD NOTATION SCHEMATIC</text>
<text x="400.6" y="638.2" font-size="8" font-weight="normal" text-anchor="start" fill="#000" font-family='"Liberation Sans", sans-serif' textLength="149.6" lengthAdjust="spacingAndGlyphs" stroke="#000" stroke-width="0.25">©Howard W. Sams &amp; Co., Inc. 1949</text>
<line x1="691.1" y1="203.4" x2="793" y2="203.4" stroke-width="1.25"/>
<line x1="793" y1="196.1" x2="793" y2="211.1" stroke-width="1.5"/>
<path d="M800,196.1 Q797,203.6 800,211.1" stroke-width="1.4"/>
<line x1="798" y1="203.4" x2="905.3" y2="203.2" stroke-width="1.25"/>
<line x1="905.3" y1="196" x2="905.3" y2="210" stroke-width="1.5"/>
<path d="M912.2,196 Q909.2,203 912.2,210" stroke-width="1.4"/>
<line x1="910.2" y1="203.1" x2="948.2" y2="202.8" stroke-width="1.25"/>
<rect x="738.5" y="218.4" width="40" height="60.6" rx="20" ry="22.5" stroke-width="0.9"/>
<line x1="751.5" y1="224.4" x2="765.3" y2="224.4" stroke-width="1.5"/>
<line x1="747.1" y1="230" x2="769.1" y2="230" stroke-width="1.3" stroke-dasharray="5.2 2.3"/>
<polyline points="761.1,237.4 757.5,237.4 757.5,259.5 761.7,259.5" stroke-width="1.1"/>
<polyline points="778.1,243.4 769.9,248 778.1,252.5" stroke-width="1"/>
<line x1="747.1" y1="266.4" x2="769.1" y2="266.4" stroke-width="1.3" stroke-dasharray="5.2 2.3"/>
<line x1="751.5" y1="272" x2="764.9" y2="272" stroke-width="1.5"/>
<line x1="758.5" y1="203.4" x2="758.5" y2="224.4" stroke-width="1.25"/>
<circle cx="758.5" cy="203.4" r="1.5" fill="#000" stroke="none"/>
<line x1="758.4" y1="272" x2="758.3" y2="293.3" stroke-width="1.25"/>
<circle cx="758.3" cy="293.3" r="1.5" fill="#000" stroke="none"/>
<ellipse cx="738" cy="193.5" rx="9.2" ry="6.8" fill="#fff" stroke-width="1.3"/>
<text x="731.5" y="197" font-size="9.8" font-weight="bold" text-anchor="start" fill="#000" font-family='"Liberation Sans", sans-serif' textLength="13" lengthAdjust="spacingAndGlyphs" stroke="#000" stroke-width="0.6">V601</text>
<text x="751.8" y="197.9" font-size="12" font-weight="bold" text-anchor="start" fill="#000" font-family='"Liberation Sans", sans-serif' textLength="14.2" lengthAdjust="spacingAndGlyphs" stroke="#000" stroke-width="0.4">6J6</text>
<text x="713.4" y="218" font-size="6" font-weight="normal" text-anchor="start" fill="#000" font-family='"Liberation Sans", sans-serif' textLength="30" lengthAdjust="spacingAndGlyphs" stroke="#000" stroke-width="0.32">RF AMP.</text>
<text x="761.8" y="216.9" font-size="7.6" font-weight="bold" text-anchor="middle" fill="#000" font-family='"Liberation Sans", sans-serif' textLength="3.2" lengthAdjust="spacingAndGlyphs" stroke="#000" stroke-width="0.3">1</text>
<text x="779.4" y="227.7" font-size="7.6" font-weight="bold" text-anchor="middle" fill="#000" font-family='"Liberation Sans", sans-serif' textLength="3.2" lengthAdjust="spacingAndGlyphs" stroke="#000" stroke-width="0.3">6</text>
<text x="780.8" y="251.2" font-size="7.6" font-weight="bold" text-anchor="middle" fill="#000" font-family='"Liberation Sans", sans-serif' textLength="3.2" lengthAdjust="spacingAndGlyphs" stroke="#000" stroke-width="0.3">4</text>
<text x="781.3" y="260.7" font-size="7.6" font-weight="bold" text-anchor="middle" fill="#000" font-family='"Liberation Sans", sans-serif' textLength="3.2" lengthAdjust="spacingAndGlyphs" stroke="#000" stroke-width="0.3">3</text>
<text x="778.8" y="274.6" font-size="7.6" font-weight="bold" text-anchor="middle" fill="#000" font-family='"Liberation Sans", sans-serif' textLength="3.2" lengthAdjust="spacingAndGlyphs" stroke="#000" stroke-width="0.3">5</text>
<text x="754.4" y="285.6" font-size="7.6" font-weight="bold" text-anchor="middle" fill="#000" font-family='"Liberation Sans", sans-serif' textLength="3.2" lengthAdjust="spacingAndGlyphs" stroke="#000" stroke-width="0.3">2</text>
<polyline points="769,230 831.6,230 831.4,293.3" stroke-width="1.25"/>
<circle cx="831.4" cy="293.3" r="1.5" fill="#000" stroke="none"/>
<path d="M816.9,203.4 L816.9,226.6 Q814,230 816.9,233.4 L816.9,266.5 L769,266.4" stroke-width="1.25"/>
<circle cx="816.9" cy="203.4" r="1.5" fill="#000" stroke="none"/>
<polyline points="757.5,237.4 802.4,237.4 802.4,252.2" stroke-width="1.25"/>
<line x1="795.9" y1="252.3" x2="808.9" y2="252.3" stroke-width="1.1"/>
<line x1="797.72" y1="254.7" x2="807.08" y2="254.7" stroke-width="1"/>
<line x1="799.54" y1="257" x2="805.26" y2="257" stroke-width="1"/>
<line x1="801.36" y1="258.9" x2="803.44" y2="258.9" stroke-width="0.9"/>
<circle cx="787.8" cy="237" r="1.5" fill="#000" stroke="none"/>
<polyline points="778.2,243.4 787.4,243.4 787.4,237.4" stroke-width="1.25"/>
<path d="M778.2,252.5 L787.3,252.5 L787.3,263.3 L785.2,266.4 L786.9,269.4 L786.9,290.4 Q784.4,293.3 786.9,296.2 L787.2,338.6 L801.9,338.8 L801.9,351.6 Q799.4,354.5 801.9,357.4 L801.9,441.8 Q799.4,444.8 801.9,447.8 L801.7,472 Q799.2,475 801.7,478 L801.6,502 Q799.2,505 801.6,508 L801.5,530.2 Q799.2,533.2 801.5,536.2 L801.5,546.2" stroke-width="1.25"/>
<ellipse cx="795.9" cy="186.5" rx="9.4" ry="7" fill="#fff" stroke-width="1.3"/>
<text x="789.4" y="190" font-size="9.8" font-weight="bold" text-anchor="start" fill="#000" font-family='"Liberation Sans", sans-serif' textLength="13" lengthAdjust="spacingAndGlyphs" stroke="#000" stroke-width="0.6">C606</text>
<text x="791.6" y="216.9" font-size="6" font-weight="normal" text-anchor="start" fill="#000" font-family='"Liberation Sans", sans-serif' textLength="9.2" lengthAdjust="spacingAndGlyphs" stroke="#000" stroke-width="0.32">1.5</text>
<text x="785.6" y="222.8" font-size="6" font-weight="normal" text-anchor="start" fill="#000" font-family='"Liberation Sans", sans-serif' textLength="17.2" lengthAdjust="spacingAndGlyphs" stroke="#000" stroke-width="0.32">MMF</text>
<line x1="691.1" y1="293.2" x2="801.3" y2="293.3" stroke-width="1.25"/>
<line x1="801.3" y1="286.5" x2="801.3" y2="301.1" stroke-width="1.5"/>
<path d="M808.2,286.5 Q805.2,293.8 808.2,301.1" stroke-width="1.4"/>
<line x1="806.2" y1="293.3" x2="927.5" y2="293.2" stroke-width="1.25"/>
<line x1="927.5" y1="286.5" x2="927.5" y2="300.3" stroke-width="1.5"/>
<path d="M934.4,286.5 Q931.4,293.4 934.4,300.3" stroke-width="1.4"/>
<line x1="932.4" y1="293.2" x2="963.5" y2="293.1" stroke-width="1.25"/>
<ellipse cx="804.5" cy="276.9" rx="9.4" ry="7" fill="#fff" stroke-width="1.3"/>
<text x="798" y="280.4" font-size="9.8" font-weight="bold" text-anchor="start" fill="#000" font-family='"Liberation Sans", sans-serif' textLength="13" lengthAdjust="spacingAndGlyphs" stroke="#000" stroke-width="0.6">C607</text>
<text x="800.8" y="307.3" font-size="6" font-weight="normal" text-anchor="start" fill="#000" font-family='"Liberation Sans", sans-serif' textLength="9.6" lengthAdjust="spacingAndGlyphs" stroke="#000" stroke-width="0.32">1.5</text>
<text x="797" y="314.3" font-size="6" font-weight="normal" text-anchor="start" fill="#000" font-family='"Liberation Sans", sans-serif' textLength="17.2" lengthAdjust="spacingAndGlyphs" stroke="#000" stroke-width="0.32">MMF</text>
<circle cx="713.6" cy="293.3" r="1.5" fill="#000" stroke="none"/>
<line x1="713.6" y1="293.3" x2="713.6" y2="321.3" stroke-width="1.25"/>
<line x1="706.6" y1="321.3" x2="720.6" y2="321.3" stroke-width="1.5"/>
<path d="M706.6,327.4 Q713.6,324.4 720.6,327.4" stroke-width="1.4"/>
<polyline points="713.6,325.4 713.8,380.7 748,380.7" stroke-width="1.25"/>
<circle cx="713.8" cy="354.3" r="1.5" fill="#000" stroke="none"/>
<ellipse cx="696" cy="324.2" rx="9.2" ry="6.8" fill="#fff" stroke-width="1.3"/>
<text x="689.5" y="327.7" font-size="9.8" font-weight="bold" text-anchor="start" fill="#000" font-family='"Liberation Sans", sans-serif' textLength="13" lengthAdjust="spacingAndGlyphs" stroke="#000" stroke-width="0.6">C608</text>
<text x="722.6" y="321.8" font-size="6" font-weight="normal" text-anchor="start" fill="#000" font-family='"Liberation Sans", sans-serif' textLength="9.8" lengthAdjust="spacingAndGlyphs" stroke="#000" stroke-width="0.32">.68</text>
<text x="723" y="327.8" font-size="6" font-weight="normal" text-anchor="start" fill="#000" font-family='"Liberation Sans", sans-serif' textLength="17" lengthAdjust="spacingAndGlyphs" stroke="#000" stroke-width="0.32">MMF</text>
<line x1="691.1" y1="353.9" x2="713.8" y2="354.3" stroke-width="1.25"/>
<line x1="861" y1="203.3" x2="861" y2="219.4" stroke-width="1.25"/>
<polyline points="861,219.4 863.6,221.4 858.4,225.4 863.6,229.4 858.4,233.4 863.6,237.4 858.4,241.4 861,243.4" stroke-width="1.2"/>
<line x1="861" y1="243.4" x2="861" y2="256.8" stroke-width="1.25"/>
<polyline points="861,256.8 863.6,258.73 858.4,262.6 863.6,266.47 858.4,270.33 863.6,274.2 858.4,278.07 861,280" stroke-width="1.2"/>
<line x1="861" y1="280" x2="861" y2="293.2" stroke-width="1.25"/>
<circle cx="861" cy="203.3" r="1.5" fill="#000" stroke="none"/>
<circle cx="861" cy="248.2" r="1.5" fill="#000" stroke="none"/>
<circle cx="861" cy="293.2" r="1.5" fill="#000" stroke="none"/>
<ellipse cx="846" cy="232.6" rx="9.2" ry="6.8" fill="#fff" stroke-width="1.3"/>
<text x="839.5" y="236.1" font-size="9.8" font-weight="bold" text-anchor="start" fill="#000" font-family='"Liberation Sans", sans-serif' textLength="13" lengthAdjust="spacingAndGlyphs" stroke="#000" stroke-width="0.6">R601</text>
<ellipse cx="846" cy="268.4" rx="9.2" ry="6.8" fill="#fff" stroke-width="1.3"/>
<text x="839.5" y="271.9" font-size="9.8" font-weight="bold" text-anchor="start" fill="#000" font-family='"Liberation Sans", sans-serif' textLength="13" lengthAdjust="spacingAndGlyphs" stroke="#000" stroke-width="0.6">R602</text>
<text x="866" y="233.2" font-size="6" font-weight="normal" text-anchor="start" fill="#000" font-family='"Liberation Sans", sans-serif' textLength="11.4" lengthAdjust="spacingAndGlyphs" stroke="#000" stroke-width="0.32">150</text>
<text x="878" y="233.2" font-size="5.6" font-weight="normal" text-anchor="start" fill="#000" font-family='"Liberation Sans", sans-serif' textLength="5" lengthAdjust="spacingAndGlyphs" stroke="#000" stroke-width="0.32">Ω</text>
<text x="866" y="271.2" font-size="6" font-weight="normal" text-anchor="start" fill="#000" font-family='"Liberation Sans", sans-serif' textLength="11.4" lengthAdjust="spacingAndGlyphs" stroke="#000" stroke-width="0.32">150</text>
<text x="878" y="271.2" font-size="5.6" font-weight="normal" text-anchor="start" fill="#000" font-family='"Liberation Sans", sans-serif' textLength="5" lengthAdjust="spacingAndGlyphs" stroke="#000" stroke-width="0.32">Ω</text>
<polyline points="861,248.2 915.3,248.2 915.3,260.4" stroke-width="1.25"/>
<circle cx="886.5" cy="248.2" r="1.5" fill="#000" stroke="none"/>
<line x1="908.2" y1="260.4" x2="921.6" y2="260.4" stroke-width="1.5"/>
<path d="M908.2,267.4 Q914.9,264.4 921.6,267.4" stroke-width="1.4"/>
<line x1="915" y1="265.4" x2="915" y2="281" stroke-width="1.25"/>
<line x1="908.4" y1="281.1" x2="921.6" y2="281.1" stroke-width="1.1"/>
<line x1="910.25" y1="283.5" x2="919.75" y2="283.5" stroke-width="1"/>
<line x1="912.1" y1="285.8" x2="917.9" y2="285.8" stroke-width="1"/>
<line x1="913.94" y1="287.7" x2="916.06" y2="287.7" stroke-width="0.9"/>
<ellipse cx="926" cy="251.5" rx="9.2" ry="6.8" fill="#fff" stroke-width="1.3"/>
<text x="919.5" y="255" font-size="9.8" font-weight="bold" text-anchor="start" fill="#000" font-family='"Liberation Sans", sans-serif' textLength="13" lengthAdjust="spacingAndGlyphs" stroke="#000" stroke-width="0.6">C603</text>
<text x="889.4" y="262.2" font-size="6" font-weight="normal" text-anchor="start" fill="#000" font-family='"Liberation Sans", sans-serif' textLength="15.2" lengthAdjust="spacingAndGlyphs" stroke="#000" stroke-width="0.32">1500</text>
<text x="888.4" y="269" font-size="6" font-weight="normal" text-anchor="start" fill="#000" font-family='"Liberation Sans", sans-serif' textLength="17" lengthAdjust="spacingAndGlyphs" stroke="#000" stroke-width="0.32">MMF</text>
<path d="M886.5,248.2 L886.5,290.4 Q884,293.2 886.5,296.0 L886.5,323.7 L918.3,323.7" stroke-width="1.25"/>
<circle cx="886.5" cy="293.2" r="1.3" fill="#000" stroke="none"/>
<polyline points="918.3,323.7 920.15,321.1 923.85,326.3 927.55,321.1 931.25,326.3 934.95,321.1 938.65,326.3 940.5,323.7" stroke-width="1.2"/>
<line x1="940.5" y1="323.7" x2="1022.5" y2="323.5" stroke-width="1.25"/>
<polygon points="1029.6,323.5 1022.6,321.5 1022.6,325.5" fill="#000" stroke="none"/>
<ellipse cx="908.8" cy="314.1" rx="9.2" ry="6.8" fill="#fff" stroke-width="1.3"/>
<text x="902.3" y="317.6" font-size="9.8" font-weight="bold" text-anchor="start" fill="#000" font-family='"Liberation Sans", sans-serif' textLength="13" lengthAdjust="spacingAndGlyphs" stroke="#000" stroke-width="0.6">R603</text>
<text x="918.3" y="335.2" font-size="6" font-weight="normal" text-anchor="start" fill="#000" font-family='"Liberation Sans", sans-serif' textLength="19.4" lengthAdjust="spacingAndGlyphs" stroke="#000" stroke-width="0.32">1000</text>
<text x="938.4" y="335.2" font-size="5.6" font-weight="normal" text-anchor="start" fill="#000" font-family='"Liberation Sans", sans-serif' textLength="5.4" lengthAdjust="spacingAndGlyphs" stroke="#000" stroke-width="0.32">Ω</text>
<text x="985" y="331.8" font-size="6" font-weight="normal" text-anchor="start" fill="#000" font-family='"Liberation Sans", sans-serif' textLength="23" lengthAdjust="spacingAndGlyphs" stroke="#000" stroke-width="0.32">BIAS 9</text>
<ellipse cx="907.3" cy="186.1" rx="9.2" ry="7.2" fill="#fff" stroke-width="1.3"/>
<text x="900.8" y="189.6" font-size="9.8" font-weight="bold" text-anchor="start" fill="#000" font-family='"Liberation Sans", sans-serif' textLength="13" lengthAdjust="spacingAndGlyphs" stroke="#000" stroke-width="0.6">C604</text>
<text x="901.2" y="217.6" font-size="6" font-weight="normal" text-anchor="start" fill="#000" font-family='"Liberation Sans", sans-serif' textLength="13.4" lengthAdjust="spacingAndGlyphs" stroke="#000" stroke-width="0.32">270</text>
<text x="900.7" y="223.7" font-size="6" font-weight="normal" text-anchor="start" fill="#000" font-family='"Liberation Sans", sans-serif' textLength="17.4" lengthAdjust="spacingAndGlyphs" stroke="#000" stroke-width="0.32">MMF</text>
<ellipse cx="933.2" cy="276.5" rx="9.2" ry="7.2" fill="#fff" stroke-width="1.3"/>
<text x="926.7" y="280" font-size="9.8" font-weight="bold" text-anchor="start" fill="#000" font-family='"Liberation Sans", sans-serif' textLength="13" lengthAdjust="spacingAndGlyphs" stroke="#000" stroke-width="0.6">C605</text>
<text x="923.7" y="308.8" font-size="6" font-weight="normal" text-anchor="start" fill="#000" font-family='"Liberation Sans", sans-serif' textLength="13.8" lengthAdjust="spacingAndGlyphs" stroke="#000" stroke-width="0.32">270</text>
<text x="921.4" y="315.4" font-size="6" font-weight="normal" text-anchor="start" fill="#000" font-family='"Liberation Sans", sans-serif' textLength="17.6" lengthAdjust="spacingAndGlyphs" stroke="#000" stroke-width="0.32">MMF</text>
<rect x="928.7" y="182.6" width="58.6" height="5.8" stroke-width="1"/>
<polyline points="955.1,188.4 955.1,200.4 948.2,202.8" stroke-width="1.25"/>
<polyline points="960.9,188.4 960.9,199.8 958.4,202.8 963.5,202.8" stroke-width="1.25"/>
<circle cx="948.2" cy="202.8" r="1.6" fill="#000" stroke="none"/>
<circle cx="958.8" cy="202.6" r="1.3" fill="#000" stroke="none"/>
<rect x="949.2" y="204.2" width="5.6" height="11.0" stroke-width="1"/>
<circle cx="948.2" cy="215.2" r="1.5" fill="#000" stroke="none"/>
<path d="M948.2,202.8 L948.2,223 Q947.6,228 942.4,230" stroke-width="1.25"/>
<ellipse cx="948.4" cy="233.4" rx="6" ry="4.46" stroke-width="0.95"/>
<ellipse cx="948.4" cy="240.6" rx="6" ry="4.46" stroke-width="0.95"/>
<ellipse cx="948.4" cy="247.8" rx="6" ry="4.46" stroke-width="0.95"/>
<ellipse cx="948.4" cy="255" rx="6" ry="4.46" stroke-width="0.95"/>
<ellipse cx="948.4" cy="262.2" rx="6" ry="4.46" stroke-width="0.95"/>
<path d="M942.4,265.6 Q948.2,268 948.6,272.7 L948.7,293.2" stroke-width="1.25"/>
<circle cx="948.7" cy="279.1" r="1.5" fill="#000" stroke="none"/>
<circle cx="948.7" cy="293.2" r="1.6" fill="#000" stroke="none"/>
<line x1="936.6" y1="228.2" x2="936.6" y2="265.8" stroke-width="0.7" stroke-dasharray="2.4 1.2"/>
<line x1="938.2" y1="228.2" x2="938.2" y2="265.8" stroke-width="0.7" stroke-dasharray="2.4 1.2"/>
<line x1="939.8" y1="228.2" x2="939.8" y2="265.8" stroke-width="0.7" stroke-dasharray="2.4 1.2"/>
<line x1="941.4" y1="228.2" x2="941.4" y2="265.8" stroke-width="0.7" stroke-dasharray="2.4 1.2"/>
<polyline points="960.2,202.8 960.2,279.1 952,279.1" stroke-width="1.25"/>
<line x1="955.1" y1="247.9" x2="1002.4" y2="247.9" stroke-width="1.25"/>
<circle cx="956.6" cy="247.9" r="1.5" fill="#000" stroke="none"/>
<circle cx="978.1" cy="247.9" r="1.5" fill="#000" stroke="none"/>
<circle cx="1002.3" cy="247.9" r="1.5" fill="#000" stroke="none"/>
<line x1="978.1" y1="247.9" x2="978.1" y2="257" stroke-width="1.25"/>
<line x1="970.9" y1="257.1" x2="985.3" y2="257.1" stroke-width="1.1"/>
<line x1="972.92" y1="259.5" x2="983.28" y2="259.5" stroke-width="1"/>
<line x1="974.93" y1="261.8" x2="981.27" y2="261.8" stroke-width="1"/>
<line x1="976.95" y1="263.7" x2="979.25" y2="263.7" stroke-width="0.9"/>
<ellipse cx="933.6" cy="219.4" rx="9.2" ry="6.8" fill="#fff" stroke-width="1.3"/>
<text x="927.1" y="222.9" font-size="9.8" font-weight="bold" text-anchor="start" fill="#000" font-family='"Liberation Sans", sans-serif' textLength="13" lengthAdjust="spacingAndGlyphs" stroke="#000" stroke-width="0.6">L601</text>
<text x="921.4" y="238.4" font-size="6" font-weight="normal" text-anchor="start" fill="#000" font-family='"Liberation Sans", sans-serif' textLength="4.8" lengthAdjust="spacingAndGlyphs" stroke="#000" stroke-width="0.32">0</text>
<text x="927" y="238.4" font-size="5.6" font-weight="normal" text-anchor="start" fill="#000" font-family='"Liberation Sans", sans-serif' textLength="5.6" lengthAdjust="spacingAndGlyphs" stroke="#000" stroke-width="0.32">Ω</text>
<path d="M963.5,202.8 C965.7,202.8 964.5,195.9 969.5,195.9 L986.7,195.9 C991.7,195.9 990.5,202.8 992.7,202.8" stroke-width="1.1"/>
<ellipse cx="974.65" cy="201.7" rx="3.05" ry="5.9" stroke-width="1.0" transform="rotate(-4 974.65 202.8)"/>
<ellipse cx="981.55" cy="201.7" rx="3.05" ry="5.9" stroke-width="1.0" transform="rotate(-4 981.55 202.8)"/>
<polyline points="992.7,202.8 996.4,202.8 1002.3,203.6 1002.3,222.9" stroke-width="1.25"/>
<line x1="995" y1="222.9" x2="1009.6" y2="222.9" stroke-width="1.5"/>
<path d="M995,229.8 Q1002.3,226.8 1009.6,229.8" stroke-width="1.4"/>
<line x1="1002.3" y1="227.8" x2="1002.3" y2="266.4" stroke-width="1.25"/>
<path d="M995,268.4 Q1002.3,265.2 1009.6,268.4" stroke-width="1.4"/>
<line x1="995" y1="272" x2="1009.6" y2="272" stroke-width="1.5"/>
<polyline points="1002.3,272 1002.4,291 997.4,293 993.4,293.1" stroke-width="1.25"/>
<path d="M963.5,293.1 C965.7,293.1 964.5,300 969.5,300 L987.3,300 C992.3,300 991.1,293.1 993.3,293.1" stroke-width="1.1"/>
<ellipse cx="974.95" cy="294.2" rx="3.05" ry="5.9" stroke-width="1.0" transform="rotate(4 974.95 293.1)"/>
<ellipse cx="981.85" cy="294.2" rx="3.05" ry="5.9" stroke-width="1.0" transform="rotate(4 981.85 293.1)"/>
<line x1="995.6" y1="196.6" x2="1004.4" y2="196.6" stroke-width="0.9"/>
<line x1="995.6" y1="199.8" x2="1004.4" y2="199.8" stroke-width="0.9"/>
<line x1="993" y1="192.6" x2="1008" y2="202.4" stroke-width="0.9"/>
<line x1="994" y1="295.2" x2="1003" y2="295.2" stroke-width="0.9"/>
<line x1="994" y1="298.2" x2="1003" y2="298.2" stroke-width="0.9"/>
<line x1="993.4" y1="293.4" x2="1007.4" y2="303" stroke-width="0.9"/>
<rect x="989.6" y="175.8" width="18.4" height="13.4" fill="#fff" stroke-width="1.3"/>
<text x="991.4" y="185.9" font-size="9.5" font-weight="bold" text-anchor="start" fill="#000" font-family='"Liberation Sans", sans-serif' textLength="14.8" lengthAdjust="spacingAndGlyphs" stroke="#000" stroke-width="0.5">A623</text>
<rect x="989.6" y="306.4" width="18" height="13.8" fill="#fff" stroke-width="1.3"/>
<text x="991.2" y="316.7" font-size="9.5" font-weight="bold" text-anchor="start" fill="#000" font-family='"Liberation Sans", sans-serif' textLength="14.8" lengthAdjust="spacingAndGlyphs" stroke="#000" stroke-width="0.5">A624</text>
<ellipse cx="976.9" cy="216.4" rx="9.2" ry="6.8" fill="#fff" stroke-width="1.3"/>
<text x="970.4" y="219.9" font-size="9.8" font-weight="bold" text-anchor="start" fill="#000" font-family='"Liberation Sans", sans-serif' textLength="13" lengthAdjust="spacingAndGlyphs" stroke="#000" stroke-width="0.6">L602</text>
<text x="987.3" y="218.6" font-size="6" font-weight="normal" text-anchor="start" fill="#000" font-family='"Liberation Sans", sans-serif' textLength="4.8" lengthAdjust="spacingAndGlyphs" stroke="#000" stroke-width="0.32">0</text>
<text x="993" y="218.6" font-size="5.6" font-weight="normal" text-anchor="start" fill="#000" font-family='"Liberation Sans", sans-serif' textLength="5.6" lengthAdjust="spacingAndGlyphs" stroke="#000" stroke-width="0.32">Ω</text>
<ellipse cx="985.5" cy="235.1" rx="9.2" ry="6.8" fill="#fff" stroke-width="1.3"/>
<text x="979" y="238.6" font-size="9.8" font-weight="bold" text-anchor="start" fill="#000" font-family='"Liberation Sans", sans-serif' textLength="13" lengthAdjust="spacingAndGlyphs" stroke="#000" stroke-width="0.6">C601</text>
<ellipse cx="981.6" cy="273" rx="9.2" ry="6.8" fill="#fff" stroke-width="1.3"/>
<text x="975.1" y="276.5" font-size="9.8" font-weight="bold" text-anchor="start" fill="#000" font-family='"Liberation Sans", sans-serif' textLength="13" lengthAdjust="spacingAndGlyphs" stroke="#000" stroke-width="0.6">C602</text>
<ellipse cx="971.5" cy="308.7" rx="9.2" ry="6.8" fill="#fff" stroke-width="1.3"/>
<text x="965" y="312.2" font-size="9.8" font-weight="bold" text-anchor="start" fill="#000" font-family='"Liberation Sans", sans-serif' textLength="13" lengthAdjust="spacingAndGlyphs" stroke="#000" stroke-width="0.6">L603</text>
<text x="985.8" y="290" font-size="6" font-weight="normal" text-anchor="start" fill="#000" font-family='"Liberation Sans", sans-serif' textLength="4.6" lengthAdjust="spacingAndGlyphs" stroke="#000" stroke-width="0.32">0</text>
<text x="991" y="290" font-size="5.6" font-weight="normal" text-anchor="start" fill="#000" font-family='"Liberation Sans", sans-serif' textLength="5.4" lengthAdjust="spacingAndGlyphs" stroke="#000" stroke-width="0.32">Ω</text>
<text x="1023.3" y="223.7" font-size="6" font-weight="normal" text-anchor="start" fill="#000" font-family='"Liberation Sans", sans-serif' textLength="8.4" lengthAdjust="spacingAndGlyphs" stroke="#000" stroke-width="0.32">10</text>
<text x="1019.2" y="230.6" font-size="6" font-weight="normal" text-anchor="start" fill="#000" font-family='"Liberation Sans", sans-serif' textLength="17.2" lengthAdjust="spacingAndGlyphs" stroke="#000" stroke-width="0.32">MMF</text>
<text x="1023.3" y="267.4" font-size="6" font-weight="normal" text-anchor="start" fill="#000" font-family='"Liberation Sans", sans-serif' textLength="8.4" lengthAdjust="spacingAndGlyphs" stroke="#000" stroke-width="0.32">10</text>
<text x="1019.2" y="274.3" font-size="6" font-weight="normal" text-anchor="start" fill="#000" font-family='"Liberation Sans", sans-serif' textLength="17.2" lengthAdjust="spacingAndGlyphs" stroke="#000" stroke-width="0.32">MMF</text>
<rect x="738.2" y="369" width="40" height="61" rx="20" ry="22.5" stroke-width="0.9"/>
<line x1="751.2" y1="376.4" x2="765" y2="376.4" stroke-width="1.5"/>
<line x1="746.8" y1="380.7" x2="768.8" y2="380.7" stroke-width="1.3" stroke-dasharray="5.2 2.3"/>
<polyline points="761.5,389 757.9,389 757.9,410.1 762.1,410.1" stroke-width="1.1"/>
<polyline points="777.8,395.1 769.7,399.7 777.8,404.2" stroke-width="1"/>
<line x1="746.8" y1="417.8" x2="768.8" y2="417.8" stroke-width="1.3" stroke-dasharray="5.2 2.3"/>
<line x1="751.2" y1="423.1" x2="764.6" y2="423.1" stroke-width="1.5"/>
<ellipse cx="740.6" cy="347" rx="9.2" ry="6.8" fill="#fff" stroke-width="1.3"/>
<text x="734.1" y="350.5" font-size="9.8" font-weight="bold" text-anchor="start" fill="#000" font-family='"Liberation Sans", sans-serif' textLength="13" lengthAdjust="spacingAndGlyphs" stroke="#000" stroke-width="0.6">V602</text>
<text x="752.4" y="351.1" font-size="12" font-weight="bold" text-anchor="start" fill="#000" font-family='"Liberation Sans", sans-serif' textLength="13.8" lengthAdjust="spacingAndGlyphs" stroke="#000" stroke-width="0.4">6J6</text>
<text x="724.8" y="365.4" font-size="6" font-weight="normal" text-anchor="start" fill="#000" font-family='"Liberation Sans", sans-serif' textLength="24.6" lengthAdjust="spacingAndGlyphs" stroke="#000" stroke-width="0.32">MIXER</text>
<text x="761" y="366.9" font-size="7.6" font-weight="bold" text-anchor="middle" fill="#000" font-family='"Liberation Sans", sans-serif' textLength="3.2" lengthAdjust="spacingAndGlyphs" stroke="#000" stroke-width="0.3">1</text>
<text x="737.6" y="379.2" font-size="7.6" font-weight="bold" text-anchor="middle" fill="#000" font-family='"Liberation Sans", sans-serif' textLength="3.2" lengthAdjust="spacingAndGlyphs" stroke="#000" stroke-width="0.3">6</text>
<text x="781.7" y="393" font-size="7.6" font-weight="bold" text-anchor="middle" fill="#000" font-family='"Liberation Sans", sans-serif' textLength="3.2" lengthAdjust="spacingAndGlyphs" stroke="#000" stroke-width="0.3">3</text>
<text x="781.7" y="402.9" font-size="7.6" font-weight="bold" text-anchor="middle" fill="#000" font-family='"Liberation Sans", sans-serif' textLength="3.2" lengthAdjust="spacingAndGlyphs" stroke="#000" stroke-width="0.3">4</text>
<text x="779.6" y="417.5" font-size="7.6" font-weight="bold" text-anchor="middle" fill="#000" font-family='"Liberation Sans", sans-serif' textLength="3.2" lengthAdjust="spacingAndGlyphs" stroke="#000" stroke-width="0.3">7</text>
<text x="735.6" y="416.3" font-size="7.6" font-weight="bold" text-anchor="middle" fill="#000" font-family='"Liberation Sans", sans-serif' textLength="3.2" lengthAdjust="spacingAndGlyphs" stroke="#000" stroke-width="0.3">5</text>
<text x="754.4" y="437.4" font-size="7.6" font-weight="bold" text-anchor="middle" fill="#000" font-family='"Liberation Sans", sans-serif' textLength="3.2" lengthAdjust="spacingAndGlyphs" stroke="#000" stroke-width="0.3">2</text>
<polyline points="758.2,376.4 758.2,354.5 799.4,354.5" stroke-width="1.25"/>
<line x1="804.4" y1="354.5" x2="896.8" y2="354.7" stroke-width="1.25"/>
<circle cx="861.2" cy="354.6" r="1.5" fill="#000" stroke="none"/>
<line x1="778.2" y1="395.3" x2="834.6" y2="395.5" stroke-width="1.25"/>
<circle cx="801.9" cy="395.4" r="1.6" fill="#000" stroke="none"/>
<path d="M834.6,395.5 Q839.6,397 838.8,404 L838.8,414 Q838.6,421 834,421.6 Q831.6,422.4 831.8,426 L831.8,431" stroke-width="1.25"/>
<polygon points="831.8,435.2 830.2,430.2 833.4,430.2" fill="#000" stroke="none"/>
<ellipse cx="832.6" cy="405.05" rx="5.4" ry="4.28" stroke-width="0.95"/>
<ellipse cx="832.6" cy="411.95" rx="5.4" ry="4.28" stroke-width="0.95"/>
<ellipse cx="850.2" cy="408.6" rx="9.2" ry="6.8" fill="#fff" stroke-width="1.3"/>
<text x="843.7" y="412.1" font-size="9.8" font-weight="bold" text-anchor="start" fill="#000" font-family='"Liberation Sans", sans-serif' textLength="13" lengthAdjust="spacingAndGlyphs" stroke="#000" stroke-width="0.6">L604</text>
<text x="815" y="412" font-size="6" font-weight="normal" text-anchor="start" fill="#000" font-family='"Liberation Sans", sans-serif' textLength="4.6" lengthAdjust="spacingAndGlyphs" stroke="#000" stroke-width="0.32">0</text>
<text x="820.4" y="412" font-size="5.6" font-weight="normal" text-anchor="start" fill="#000" font-family='"Liberation Sans", sans-serif' textLength="5.4" lengthAdjust="spacingAndGlyphs" stroke="#000" stroke-width="0.32">Ω</text>
<polyline points="778.2,404.2 787.7,404.2 787.7,417.6" stroke-width="1.25"/>
<line x1="757.9" y1="410.1" x2="787.7" y2="410.1" stroke-width="1.1"/>
<circle cx="787.7" cy="410.1" r="1.6" fill="#000" stroke="none"/>
<line x1="781.6" y1="417.8" x2="794.2" y2="417.8" stroke-width="1.1"/>
<line x1="783.36" y1="420.2" x2="792.44" y2="420.2" stroke-width="1"/>
<line x1="785.13" y1="422.5" x2="790.67" y2="422.5" stroke-width="1"/>
<line x1="786.89" y1="424.4" x2="788.91" y2="424.4" stroke-width="0.9"/>
<line x1="691.1" y1="444.1" x2="714.6" y2="444.2" stroke-width="1.25"/>
<polyline points="714.6,444.2 714.6,417.8 747,417.8" stroke-width="1.25"/>
<polyline points="758.2,423.1 758.2,444.6 799.4,444.7" stroke-width="1.25"/>
<line x1="804.4" y1="444.7" x2="861.3" y2="445" stroke-width="1.25"/>
<line x1="861.4" y1="344.4" x2="861.3" y2="445" stroke-width="1.25"/>
<line x1="861.4" y1="344.4" x2="1021.6" y2="344.4" stroke-width="1.25"/>
<polygon points="1028.8,344.4 1021.8,342.4 1021.8,346.4" fill="#000" stroke="none"/>
<text x="986.8" y="356" font-size="6" font-weight="normal" text-anchor="start" fill="#000" font-family='"Liberation Sans", sans-serif' textLength="32.4" lengthAdjust="spacingAndGlyphs" stroke="#000" stroke-width="0.32">VIDEO IF</text>
<path d="M896.8,354.7 L896.8,367.6 Q897.4,373.4 903,375.6" stroke-width="1.25"/>
<ellipse cx="904.6" cy="380.85" rx="5.4" ry="4.77" stroke-width="0.95"/>
<ellipse cx="904.6" cy="388.55" rx="5.4" ry="4.77" stroke-width="0.95"/>
<ellipse cx="904.6" cy="396.25" rx="5.4" ry="4.77" stroke-width="0.95"/>
<ellipse cx="904.6" cy="403.95" rx="5.4" ry="4.77" stroke-width="0.95"/>
<ellipse cx="904.6" cy="411.65" rx="5.4" ry="4.77" stroke-width="0.95"/>
<line x1="909.6" y1="373" x2="909.6" y2="417.6" stroke-width="0.9"/>
<path d="M903,416.6 Q897.2,417.4 896.8,422 L896.8,439.5" stroke-width="1.25"/>
<circle cx="896.8" cy="429.7" r="1.6" fill="#000" stroke="none"/>
<polyline points="896.8,439.5 899.4,441.36 894.2,445.07 899.4,448.79 894.2,452.51 899.4,456.23 894.2,459.94 896.8,461.8" stroke-width="1.2"/>
<line x1="896.8" y1="461.8" x2="897.2" y2="475.2" stroke-width="1.25"/>
<circle cx="897.2" cy="475.2" r="1.6" fill="#000" stroke="none"/>
<path d="M922,373.6 Q917.4,371 922,368.9 L958,368.9 L958,383" stroke-width="1.25"/>
<ellipse cx="922.9" cy="377.82" rx="5.6" ry="4.25" stroke-width="0.95"/>
<ellipse cx="922.9" cy="384.67" rx="5.6" ry="4.25" stroke-width="0.95"/>
<ellipse cx="922.9" cy="391.52" rx="5.6" ry="4.25" stroke-width="0.95"/>
<ellipse cx="922.9" cy="398.38" rx="5.6" ry="4.25" stroke-width="0.95"/>
<ellipse cx="922.9" cy="405.23" rx="5.6" ry="4.25" stroke-width="0.95"/>
<ellipse cx="922.9" cy="412.07" rx="5.6" ry="4.25" stroke-width="0.95"/>
<line x1="916.8" y1="372.4" x2="916.8" y2="417.6" stroke-width="0.9"/>
<path d="M922,416.4 Q917,418 922,419.3 L958,419.3" stroke-width="1.25"/>
<line x1="950.7" y1="383" x2="964.5" y2="383" stroke-width="1.5"/>
<path d="M950.7,390.6 Q957.6,387.6 964.5,390.6" stroke-width="1.4"/>
<path d="M958,388.6 L958,399.6 Q955.6,402.3 958,405 L958,428.8" stroke-width="1.25"/>
<circle cx="958" cy="419.3" r="1.6" fill="#000" stroke="none"/>
<line x1="952.2" y1="428.9" x2="963.8" y2="428.9" stroke-width="1.1"/>
<line x1="953.82" y1="431.3" x2="962.18" y2="431.3" stroke-width="1"/>
<line x1="955.45" y1="433.6" x2="960.55" y2="433.6" stroke-width="1"/>
<line x1="957.07" y1="435.5" x2="958.93" y2="435.5" stroke-width="0.9"/>
<line x1="928.5" y1="402.3" x2="1022.4" y2="402.3" stroke-width="1.25"/>
<polygon points="1029.6,402.3 1022.6,400.3 1022.6,404.3" fill="#000" stroke="none"/>
<polygon points="929.6,402.3 925.6,400.4 925.6,404.2" fill="#000" stroke="none"/>
<line x1="901.3" y1="357.4" x2="901.3" y2="364.6" stroke-width="0.9"/>
<line x1="904.3" y1="357.4" x2="904.3" y2="364.6" stroke-width="0.9"/>
<line x1="899.3" y1="366.6" x2="907.3" y2="355.2" stroke-width="0.9"/>
<line x1="921.8" y1="357.4" x2="921.8" y2="364.6" stroke-width="0.9"/>
<line x1="924.8" y1="357.4" x2="924.8" y2="364.6" stroke-width="0.9"/>
<line x1="919.8" y1="366.6" x2="927.8" y2="355.2" stroke-width="0.9"/>
<ellipse cx="882.3" cy="381.6" rx="9.2" ry="6.8" fill="#fff" stroke-width="1.3"/>
<text x="875.8" y="385.1" font-size="9.8" font-weight="bold" text-anchor="start" fill="#000" font-family='"Liberation Sans", sans-serif' textLength="13" lengthAdjust="spacingAndGlyphs" stroke="#000" stroke-width="0.6">L606</text>
<text x="884" y="402.2" font-size="6" font-weight="normal" text-anchor="start" fill="#000" font-family='"Liberation Sans", sans-serif' textLength="5.4" lengthAdjust="spacingAndGlyphs" stroke="#000" stroke-width="0.32">.2</text>
<text x="890" y="402.2" font-size="5.6" font-weight="normal" text-anchor="start" fill="#000" font-family='"Liberation Sans", sans-serif' textLength="5.4" lengthAdjust="spacingAndGlyphs" stroke="#000" stroke-width="0.32">Ω</text>
<ellipse cx="940.5" cy="379.9" rx="9.2" ry="6.8" fill="#fff" stroke-width="1.3"/>
<text x="934" y="383.4" font-size="9.8" font-weight="bold" text-anchor="start" fill="#000" font-family='"Liberation Sans", sans-serif' textLength="13" lengthAdjust="spacingAndGlyphs" stroke="#000" stroke-width="0.6">C619</text>
<text x="976.5" y="384.4" font-size="6" font-weight="normal" text-anchor="start" fill="#000" font-family='"Liberation Sans", sans-serif' textLength="8.6" lengthAdjust="spacingAndGlyphs" stroke="#000" stroke-width="0.32">68</text>
<text x="974.8" y="391.6" font-size="6" font-weight="normal" text-anchor="start" fill="#000" font-family='"Liberation Sans", sans-serif' textLength="17.2" lengthAdjust="spacingAndGlyphs" stroke="#000" stroke-width="0.32">MMF</text>
<text x="932.8" y="399.8" font-size="6" font-weight="normal" text-anchor="start" fill="#000" font-family='"Liberation Sans", sans-serif' textLength="4.6" lengthAdjust="spacingAndGlyphs" stroke="#000" stroke-width="0.32">0</text>
<text x="938.4" y="399.8" font-size="5.6" font-weight="normal" text-anchor="start" fill="#000" font-family='"Liberation Sans", sans-serif' textLength="5.6" lengthAdjust="spacingAndGlyphs" stroke="#000" stroke-width="0.32">Ω</text>
<text x="988.8" y="411.2" font-size="6" font-weight="normal" text-anchor="start" fill="#000" font-family='"Liberation Sans", sans-serif' textLength="37" lengthAdjust="spacingAndGlyphs" stroke="#000" stroke-width="0.32">SOUND IF</text>
<polyline points="896.8,429.7 934.9,429.8 934.9,444.6" stroke-width="1.25"/>
<line x1="928.4" y1="444.6" x2="941.4" y2="444.6" stroke-width="1.5"/>
<path d="M928.4,452.6 Q934.9,449.6 941.4,452.6" stroke-width="1.4"/>
<line x1="934.9" y1="450.6" x2="934.9" y2="462.4" stroke-width="1.25"/>
<line x1="928.9" y1="462.6" x2="940.9" y2="462.6" stroke-width="1.1"/>
<line x1="930.58" y1="465" x2="939.22" y2="465" stroke-width="1"/>
<line x1="932.26" y1="467.3" x2="937.54" y2="467.3" stroke-width="1"/>
<line x1="933.94" y1="469.2" x2="935.86" y2="469.2" stroke-width="0.9"/>
<ellipse cx="918.3" cy="439.5" rx="9.2" ry="6.8" fill="#fff" stroke-width="1.3"/>
<text x="911.8" y="443" font-size="9.8" font-weight="bold" text-anchor="start" fill="#000" font-family='"Liberation Sans", sans-serif' textLength="13" lengthAdjust="spacingAndGlyphs" stroke="#000" stroke-width="0.6">C618</text>
<text x="944.8" y="446.4" font-size="6" font-weight="normal" text-anchor="start" fill="#000" font-family='"Liberation Sans", sans-serif' textLength="18.8" lengthAdjust="spacingAndGlyphs" stroke="#000" stroke-width="0.32">1500</text>
<text x="944" y="453.2" font-size="6" font-weight="normal" text-anchor="start" fill="#000" font-family='"Liberation Sans", sans-serif' textLength="18.6" lengthAdjust="spacingAndGlyphs" stroke="#000" stroke-width="0.32">MMF</text>
<ellipse cx="882.3" cy="449.4" rx="9.2" ry="6.8" fill="#fff" stroke-width="1.3"/>
<text x="875.8" y="452.9" font-size="9.8" font-weight="bold" text-anchor="start" fill="#000" font-family='"Liberation Sans", sans-serif' textLength="13" lengthAdjust="spacingAndGlyphs" stroke="#000" stroke-width="0.6">R609</text>
<text x="901.1" y="455.4" font-size="6" font-weight="normal" text-anchor="start" fill="#000" font-family='"Liberation Sans", sans-serif' textLength="17.6" lengthAdjust="spacingAndGlyphs" stroke="#000" stroke-width="0.32">1000</text>
<text x="919.2" y="455.4" font-size="5.6" font-weight="normal" text-anchor="start" fill="#000" font-family='"Liberation Sans", sans-serif' textLength="5.2" lengthAdjust="spacingAndGlyphs" stroke="#000" stroke-width="0.32">Ω</text>
<g transform="matrix(1,0.0065,0,1,0,-4.927)">
<line x1="691.1" y1="505.3" x2="799.2" y2="505.4" stroke-width="1.25"/>
<line x1="804" y1="505.4" x2="821.4" y2="505.4" stroke-width="1.25"/>
<line x1="821.4" y1="498.5" x2="821.4" y2="512.7" stroke-width="1.5"/>
<path d="M828.2,498.5 Q825.2,505.6 828.2,512.7" stroke-width="1.4"/>
<polyline points="826.2,505.5 906,505.7 906,521.7" stroke-width="1.25"/>
<line x1="691.1" y1="595" x2="783" y2="595.2" stroke-width="1.25"/>
<line x1="787.8" y1="595.2" x2="821.4" y2="595.3" stroke-width="1.25"/>
<line x1="821.4" y1="588.3" x2="821.4" y2="603.3" stroke-width="1.5"/>
<path d="M828.2,588.3 Q825.2,595.8 828.2,603.3" stroke-width="1.4"/>
<line x1="826.2" y1="595.4" x2="906" y2="595.7" stroke-width="1.25"/>
<rect x="738.3" y="520" width="40" height="60.6" rx="20" ry="22.5" stroke-width="0.9"/>
<line x1="751.3" y1="527.6" x2="765.1" y2="527.6" stroke-width="1.5"/>
<line x1="746.9" y1="532.9" x2="768.9" y2="532.9" stroke-width="1.3" stroke-dasharray="5.2 2.3"/>
<polyline points="760.6,540.9 757,540.9 757,562.3 761.2,562.3" stroke-width="1.1"/>
<polyline points="777.9,545.7 768.3,550.3 777.9,554.8" stroke-width="1"/>
<line x1="746.9" y1="570.2" x2="768.9" y2="570.2" stroke-width="1.3" stroke-dasharray="5.2 2.3"/>
<line x1="751.3" y1="574" x2="764.7" y2="574" stroke-width="1.5"/>
<ellipse cx="737.5" cy="496.4" rx="9.2" ry="6.8" fill="#fff" stroke-width="1.3"/>
<text x="731" y="499.9" font-size="9.8" font-weight="bold" text-anchor="start" fill="#000" font-family='"Liberation Sans", sans-serif' textLength="13" lengthAdjust="spacingAndGlyphs" stroke="#000" stroke-width="0.6">V603</text>
<text x="751.9" y="501.1" font-size="12" font-weight="bold" text-anchor="start" fill="#000" font-family='"Liberation Sans", sans-serif' textLength="13.4" lengthAdjust="spacingAndGlyphs" stroke="#000" stroke-width="0.4">6J6</text>
<text x="731" y="517.3" font-size="6" font-weight="normal" text-anchor="start" fill="#000" font-family='"Liberation Sans", sans-serif' textLength="17.2" lengthAdjust="spacingAndGlyphs" stroke="#000" stroke-width="0.32">OSC.</text>
<text x="761.3" y="518.1" font-size="7.6" font-weight="bold" text-anchor="middle" fill="#000" font-family='"Liberation Sans", sans-serif' textLength="3.2" lengthAdjust="spacingAndGlyphs" stroke="#000" stroke-width="0.3">1</text>
<text x="778.8" y="531" font-size="7.6" font-weight="bold" text-anchor="middle" fill="#000" font-family='"Liberation Sans", sans-serif' textLength="3.2" lengthAdjust="spacingAndGlyphs" stroke="#000" stroke-width="0.3">6</text>
<text x="781.2" y="544.2" font-size="7.6" font-weight="bold" text-anchor="middle" fill="#000" font-family='"Liberation Sans", sans-serif' textLength="3.2" lengthAdjust="spacingAndGlyphs" stroke="#000" stroke-width="0.3">3</text>
<text x="781.2" y="553.7" font-size="7.6" font-weight="bold" text-anchor="middle" fill="#000" font-family='"Liberation Sans", sans-serif' textLength="3.2" lengthAdjust="spacingAndGlyphs" stroke="#000" stroke-width="0.3">4</text>
<text x="780.7" y="561.3" font-size="7.6" font-weight="bold" text-anchor="middle" fill="#000" font-family='"Liberation Sans", sans-serif' textLength="3.2" lengthAdjust="spacingAndGlyphs" stroke="#000" stroke-width="0.3">7</text>
<text x="777.8" y="579.3" font-size="7.6" font-weight="bold" text-anchor="middle" fill="#000" font-family='"Liberation Sans", sans-serif' textLength="3.2" lengthAdjust="spacingAndGlyphs" stroke="#000" stroke-width="0.3">5</text>
<text x="755.1" y="588.2" font-size="7.6" font-weight="bold" text-anchor="middle" fill="#000" font-family='"Liberation Sans", sans-serif' textLength="3.2" lengthAdjust="spacingAndGlyphs" stroke="#000" stroke-width="0.3">2</text>
<line x1="758.3" y1="505.3" x2="758.3" y2="527.6" stroke-width="1.25"/>
<circle cx="758.3" cy="505.3" r="1.5" fill="#000" stroke="none"/>
<line x1="758.3" y1="574" x2="758.3" y2="595.2" stroke-width="1.25"/>
<circle cx="758.3" cy="595.2" r="1.5" fill="#000" stroke="none"/>
<path d="M769,532.9 L843.4,533.3 Q846.6,530.4 849.8,533.3 L861.7,533.4 L861.7,595.5" stroke-width="1.25"/>
<circle cx="861.7" cy="595.5" r="1.6" fill="#000" stroke="none"/>
<polyline points="769,570.3 846.9,570.6 846.7,505.6" stroke-width="1.25"/>
<circle cx="846.7" cy="505.6" r="1.6" fill="#000" stroke="none"/>
<line x1="777.2" y1="546.1" x2="816.6" y2="546.2" stroke-width="1.25"/>
<circle cx="801.5" cy="546.2" r="1.6" fill="#000" stroke="none"/>
<line x1="816.6" y1="539.1" x2="816.6" y2="553.3" stroke-width="1.5"/>
<path d="M823,539.1 Q820,546.2 823,553.3" stroke-width="1.4"/>
<polyline points="821,546.2 836.5,546.2 836.5,559.3" stroke-width="1.25"/>
<line x1="830" y1="559.4" x2="843" y2="559.4" stroke-width="1.1"/>
<line x1="831.82" y1="561.8" x2="841.18" y2="561.8" stroke-width="1"/>
<line x1="833.64" y1="564.1" x2="839.36" y2="564.1" stroke-width="1"/>
<line x1="835.46" y1="566" x2="837.54" y2="566" stroke-width="0.9"/>
<polyline points="777.2,555 802.4,555.1 802.4,561.6" stroke-width="1.25"/>
<line x1="796.7" y1="561.7" x2="808.1" y2="561.7" stroke-width="1.1"/>
<line x1="798.3" y1="564.1" x2="806.5" y2="564.1" stroke-width="1"/>
<line x1="799.89" y1="566.4" x2="804.91" y2="566.4" stroke-width="1"/>
<line x1="801.49" y1="568.3" x2="803.31" y2="568.3" stroke-width="0.9"/>
<ellipse cx="819.1" cy="561.7" rx="8.6" ry="6.6" fill="#fff" stroke-width="1.3"/>
<text x="812.6" y="565.2" font-size="9.8" font-weight="bold" text-anchor="start" fill="#000" font-family='"Liberation Sans", sans-serif' textLength="13" lengthAdjust="spacingAndGlyphs" stroke="#000" stroke-width="0.6">C617</text>
<text x="825.2" y="540" font-size="6" font-weight="normal" text-anchor="start" fill="#000" font-family='"Liberation Sans", sans-serif' textLength="16.2" lengthAdjust="spacingAndGlyphs" stroke="#000" stroke-width="0.32">1500</text>
<text x="825.2" y="545.8" font-size="6" font-weight="normal" text-anchor="start" fill="#000" font-family='"Liberation Sans", sans-serif' textLength="15.6" lengthAdjust="spacingAndGlyphs" stroke="#000" stroke-width="0.32">MMF</text>
<ellipse cx="823.8" cy="489.7" rx="9.2" ry="7" fill="#fff" stroke-width="1.3"/>
<text x="817.3" y="493.2" font-size="9.8" font-weight="bold" text-anchor="start" fill="#000" font-family='"Liberation Sans", sans-serif' textLength="13" lengthAdjust="spacingAndGlyphs" stroke="#000" stroke-width="0.6">C615</text>
<text x="818.5" y="519.2" font-size="6" font-weight="normal" text-anchor="start" fill="#000" font-family='"Liberation Sans", sans-serif' textLength="10.4" lengthAdjust="spacingAndGlyphs" stroke="#000" stroke-width="0.32">4.7</text>
<text x="812.3" y="525.8" font-size="6" font-weight="normal" text-anchor="start" fill="#000" font-family='"Liberation Sans", sans-serif' textLength="16.8" lengthAdjust="spacingAndGlyphs" stroke="#000" stroke-width="0.32">MMF</text>
<ellipse cx="823.8" cy="580.6" rx="9.2" ry="7" fill="#fff" stroke-width="1.3"/>
<text x="817.3" y="584.1" font-size="9.8" font-weight="bold" text-anchor="start" fill="#000" font-family='"Liberation Sans", sans-serif' textLength="13" lengthAdjust="spacingAndGlyphs" stroke="#000" stroke-width="0.6">C616</text>
<text x="820" y="610.2" font-size="6" font-weight="normal" text-anchor="start" fill="#000" font-family='"Liberation Sans", sans-serif' textLength="10" lengthAdjust="spacingAndGlyphs" stroke="#000" stroke-width="0.32">4.7</text>
<text x="815.7" y="617.6" font-size="6" font-weight="normal" text-anchor="start" fill="#000" font-family='"Liberation Sans", sans-serif' textLength="17" lengthAdjust="spacingAndGlyphs" stroke="#000" stroke-width="0.32">MMF</text>
<path d="M757,562.3 L785.4,562.3 L785.4,566.6 L781.6,568 L785.4,570.4 L785.4,592.4 Q783,595.2 785.4,598 L785.4,613.8" stroke-width="1"/>
<polyline points="785.4,613.8 788,615.53 782.8,619 788,622.47 782.8,625.93 788,629.4 782.8,632.87 785.4,634.6" stroke-width="1.2"/>
<line x1="785.4" y1="634.6" x2="785.6" y2="645" stroke-width="1.25"/>
<line x1="779.4" y1="645" x2="793.4" y2="645" stroke-width="1.1"/>
<line x1="781.36" y1="647.4" x2="791.44" y2="647.4" stroke-width="1"/>
<line x1="783.32" y1="649.7" x2="789.48" y2="649.7" stroke-width="1"/>
<line x1="785.28" y1="651.6" x2="787.52" y2="651.6" stroke-width="0.9"/>
<ellipse cx="771.2" cy="623.8" rx="9.2" ry="6.8" fill="#fff" stroke-width="1.3"/>
<text x="764.7" y="627.3" font-size="9.8" font-weight="bold" text-anchor="start" fill="#000" font-family='"Liberation Sans", sans-serif' textLength="13" lengthAdjust="spacingAndGlyphs" stroke="#000" stroke-width="0.6">R612</text>
<text x="789.7" y="626.7" font-size="6" font-weight="normal" text-anchor="start" fill="#000" font-family='"Liberation Sans", sans-serif' textLength="8.4" lengthAdjust="spacingAndGlyphs" stroke="#000" stroke-width="0.32">47</text>
<text x="799.4" y="626.7" font-size="5.6" font-weight="normal" text-anchor="start" fill="#000" font-family='"Liberation Sans", sans-serif' textLength="5.6" lengthAdjust="spacingAndGlyphs" stroke="#000" stroke-width="0.32">Ω</text>
<polyline points="906,521.7 908.6,523.64 903.4,527.53 908.6,531.41 903.4,535.29 908.6,539.17 903.4,543.06 906,545" stroke-width="1.2"/>
<line x1="906" y1="545" x2="906" y2="556.8" stroke-width="1.25"/>
<polyline points="906,556.8 908.6,559 903.4,563.4 908.6,567.8 903.4,572.2 908.6,576.6 903.4,581 906,583.2" stroke-width="1.2"/>
<line x1="906" y1="583.2" x2="906" y2="595.7" stroke-width="1.25"/>
<circle cx="906" cy="550.7" r="1.6" fill="#000" stroke="none"/>
<polyline points="906,550.7 882.7,550.7 882.7,558.2" stroke-width="1.25"/>
<line x1="876.4" y1="558.3" x2="889" y2="558.3" stroke-width="1.1"/>
<line x1="878.16" y1="560.7" x2="887.24" y2="560.7" stroke-width="1"/>
<line x1="879.93" y1="563" x2="885.47" y2="563" stroke-width="1"/>
<line x1="881.69" y1="564.9" x2="883.71" y2="564.9" stroke-width="0.9"/>
<ellipse cx="891.7" cy="532.7" rx="9.2" ry="6.8" fill="#fff" stroke-width="1.3"/>
<text x="885.2" y="536.2" font-size="9.8" font-weight="bold" text-anchor="start" fill="#000" font-family='"Liberation Sans", sans-serif' textLength="13" lengthAdjust="spacingAndGlyphs" stroke="#000" stroke-width="0.6">R613</text>
<ellipse cx="891.7" cy="574" rx="9.2" ry="6.8" fill="#fff" stroke-width="1.3"/>
<text x="885.2" y="577.5" font-size="9.8" font-weight="bold" text-anchor="start" fill="#000" font-family='"Liberation Sans", sans-serif' textLength="13" lengthAdjust="spacingAndGlyphs" stroke="#000" stroke-width="0.6">R614</text>
<text x="910.7" y="536" font-size="6" font-weight="normal" text-anchor="start" fill="#000" font-family='"Liberation Sans", sans-serif' textLength="18.6" lengthAdjust="spacingAndGlyphs" stroke="#000" stroke-width="0.32">100K</text>
<text x="910.7" y="573" font-size="6" font-weight="normal" text-anchor="start" fill="#000" font-family='"Liberation Sans", sans-serif' textLength="18.6" lengthAdjust="spacingAndGlyphs" stroke="#000" stroke-width="0.32">100K</text>
</g>
<line x1="671.4" y1="512.6" x2="681.6" y2="512.6" stroke-width="0.9"/>
<line x1="671.4" y1="515.6" x2="681.6" y2="515.6" stroke-width="0.9"/>
<line x1="679" y1="516" x2="700.2" y2="529" stroke-width="0.9"/>
<line x1="692" y1="532" x2="706.8" y2="532" stroke-width="1.5"/>
<path d="M692,538.6 Q699.6,535.2 707,538.6" stroke-width="1.4"/>
<line x1="699.6" y1="537" x2="699.6" y2="571.2" stroke-width="1.25"/>
<circle cx="699.6" cy="550.9" r="1.6" fill="#000" stroke="none"/>
<polyline points="699.6,550.9 677.5,550.9 677.5,559.6" stroke-width="1.25"/>
<line x1="670.8" y1="559.8" x2="684.4" y2="559.8" stroke-width="1.1"/>
<line x1="672.7" y1="562.2" x2="682.5" y2="562.2" stroke-width="1"/>
<line x1="674.61" y1="564.5" x2="680.59" y2="564.5" stroke-width="1"/>
<line x1="676.51" y1="566.4" x2="678.69" y2="566.4" stroke-width="0.9"/>
<path d="M692,572.8 Q699.6,569.6 707,572.8" stroke-width="1.4"/>
<line x1="692" y1="576.8" x2="706.8" y2="576.8" stroke-width="1.5"/>
<polyline points="699.6,576.8 699.6,588.8 676.5,588.8" stroke-width="1.25"/>
<line x1="671.6" y1="586.4" x2="681.4" y2="586.4" stroke-width="0.9"/>
<line x1="695.4" y1="542.6" x2="705.6" y2="526.4" stroke-width="0.9"/>
<line x1="695.4" y1="583" x2="703.6" y2="566" stroke-width="0.9"/>
<polyline points="699.6,550.9 694.6,541.2" stroke-width="0.7" stroke-dasharray="2.4 1.4"/>
<polyline points="699.6,550.9 706.2,559.6 700.4,569.4" stroke-width="0.7" stroke-dasharray="2.4 1.4"/>
<line x1="701.1" y1="577.8" x2="716.3" y2="603.3" stroke-width="0.9"/>
<text x="717.2" y="608.6" font-size="6.6" font-weight="normal" text-anchor="start" fill="#000" font-family='"Liberation Sans", sans-serif' textLength="49.4" lengthAdjust="spacingAndGlyphs" stroke="#000" stroke-width="0.32">FINE TUNING</text>
<text x="382.3" y="831.2" font-size="26" font-weight="bold" text-anchor="start" fill="#000" font-family='"Liberation Sans", sans-serif' textLength="82.2" lengthAdjust="spacingAndGlyphs" stroke="#000" stroke-width="1.3" stroke-linejoin="round">PARTS</text>
<text x="480.7" y="831.2" font-size="26" font-weight="bold" text-anchor="start" fill="#000" font-family='"Liberation Sans", sans-serif' textLength="49.5" lengthAdjust="spacingAndGlyphs" stroke="#000" stroke-width="1.3" stroke-linejoin="round">LIST</text>
<text x="542.4" y="831.2" font-size="26" font-weight="bold" text-anchor="start" fill="#000" font-family='"Liberation Sans", sans-serif' textLength="60.5" lengthAdjust="spacingAndGlyphs" stroke="#000" stroke-width="1.3" stroke-linejoin="round">AND</text>
<text x="620" y="831.2" font-size="26" font-weight="bold" text-anchor="start" fill="#000" font-family='"Liberation Sans", sans-serif' textLength="192" lengthAdjust="spacingAndGlyphs" stroke="#000" stroke-width="1.3" stroke-linejoin="round">DESCRIPTIONS</text>
<text x="314.9" y="897.5" font-size="18.8" font-weight="bold" text-anchor="start" fill="#000" font-family='"Liberation Sans", sans-serif' textLength="53.9" lengthAdjust="spacingAndGlyphs" stroke="#000" stroke-width="1.0">TUBES</text>
<polyline points="86.7,902.2 554.2,904.4 553.8,1063 87,1063.8 86.7,902.2" stroke-width="1.6"/>
<line x1="86.7" y1="950.5" x2="554" y2="952.3" stroke-width="1.4"/>
<line x1="121.9" y1="902.4" x2="120.4" y2="1063.8" stroke-width="1.2"/>
<line x1="239.9" y1="903" x2="238" y2="1063.6" stroke-width="1.2"/>
<line x1="359.7" y1="903.6" x2="357.4" y2="1063.4" stroke-width="1.2"/>
<line x1="416.7" y1="903.8" x2="414.6" y2="1063.2" stroke-width="1.2"/>
<line x1="239.8" y1="915.3" x2="359.5" y2="915.6" stroke-width="1.4"/>
<text x="96.1" y="925" font-size="10.5" font-weight="bold" text-anchor="start" fill="#000" font-family='"Liberation Sans", sans-serif' textLength="23.3" lengthAdjust="spacingAndGlyphs" stroke="#000" stroke-width="0.25">ITEM</text>
<text x="98.2" y="937.7" font-size="10.5" font-weight="bold" text-anchor="start" fill="#000" font-family='"Liberation Sans", sans-serif' textLength="17.8" lengthAdjust="spacingAndGlyphs" stroke="#000" stroke-width="0.25">No.</text>
<text x="172.3" y="931.2" font-size="10.5" font-weight="bold" text-anchor="start" fill="#000" font-family='"Liberation Sans", sans-serif' textLength="19.5" lengthAdjust="spacingAndGlyphs" stroke="#000" stroke-width="0.25">USE</text>
<text x="246.2" y="913.7" font-size="10.5" font-weight="bold" text-anchor="start" fill="#000" font-family='"Liberation Sans", sans-serif' textLength="109.5" lengthAdjust="spacingAndGlyphs" stroke="#000" stroke-width="0.25">REPLACEMENT DATA</text>
<text x="278.7" y="937.4" font-size="10.5" font-weight="bold" text-anchor="start" fill="#000" font-family='"Liberation Sans", sans-serif' textLength="57.7" lengthAdjust="spacingAndGlyphs" stroke="#000" stroke-width="0.25">STANDARD</text>
<text x="270.6" y="950" font-size="10.5" font-weight="bold" text-anchor="start" fill="#000" font-family='"Liberation Sans", sans-serif' textLength="73.9" lengthAdjust="spacingAndGlyphs" stroke="#000" stroke-width="0.25">REPLACEMENT</text>
<text x="376.4" y="919.5" font-size="10.5" font-weight="bold" text-anchor="start" fill="#000" font-family='"Liberation Sans", sans-serif' textLength="22.8" lengthAdjust="spacingAndGlyphs" stroke="#000" stroke-width="0.25">RMA</text>
<text x="374.5" y="932.3" font-size="10.5" font-weight="bold" text-anchor="start" fill="#000" font-family='"Liberation Sans", sans-serif' textLength="25.8" lengthAdjust="spacingAndGlyphs" stroke="#000" stroke-width="0.25">BASE</text>
<text x="375.3" y="945" font-size="10.5" font-weight="bold" text-anchor="start" fill="#000" font-family='"Liberation Sans", sans-serif' textLength="23.9" lengthAdjust="spacingAndGlyphs" stroke="#000" stroke-width="0.25">TYPE</text>
<text x="89" y="966.3" font-size="12.3" font-weight="normal" text-anchor="start" fill="#000" font-family='"Liberation Mono", monospace' textLength="29.8" lengthAdjust="spacingAndGlyphs" stroke="#000" stroke-width="0.3" xml:space="preserve">V601</text>
<text x="131.4" y="966.3" font-size="12.3" font-weight="normal" text-anchor="start" fill="#000" font-family='"Liberation Mono", monospace' textLength="73.6" lengthAdjust="spacingAndGlyphs" stroke="#000" stroke-width="0.3" xml:space="preserve">R. F. Amp.</text>
<text x="286.2" y="966.9" font-size="12.3" font-weight="normal" text-anchor="start" fill="#000" font-family='"Liberation Mono", monospace' textLength="21.9" lengthAdjust="spacingAndGlyphs" stroke="#000" stroke-width="0.3" xml:space="preserve">6J6</text>
<text x="373.8" y="967.5" font-size="12.3" font-weight="normal" text-anchor="start" fill="#000" font-family='"Liberation Mono", monospace' textLength="21" lengthAdjust="spacingAndGlyphs" stroke="#000" stroke-width="0.3" xml:space="preserve">7BF</text>
<text x="89" y="978.3" font-size="12.3" font-weight="normal" text-anchor="start" fill="#000" font-family='"Liberation Mono", monospace' textLength="29.8" lengthAdjust="spacingAndGlyphs" stroke="#000" stroke-width="0.3" xml:space="preserve">V602</text>
<text x="131.4" y="978.3" font-size="12.3" font-weight="normal" text-anchor="start" fill="#000" font-family='"Liberation Mono", monospace' textLength="36.8" lengthAdjust="spacingAndGlyphs" stroke="#000" stroke-width="0.3" xml:space="preserve">Mixer</text>
<text x="286.2" y="978.9" font-size="12.3" font-weight="normal" text-anchor="start" fill="#000" font-family='"Liberation Mono", monospace' textLength="21.9" lengthAdjust="spacingAndGlyphs" stroke="#000" stroke-width="0.3" xml:space="preserve">6J6</text>
<text x="373.8" y="979.5" font-size="12.3" font-weight="normal" text-anchor="start" fill="#000" font-family='"Liberation Mono", monospace' textLength="21" lengthAdjust="spacingAndGlyphs" stroke="#000" stroke-width="0.3" xml:space="preserve">7BF</text>
<text x="89" y="990.4" font-size="12.3" font-weight="normal" text-anchor="start" fill="#000" font-family='"Liberation Mono", monospace' textLength="29.8" lengthAdjust="spacingAndGlyphs" stroke="#000" stroke-width="0.3" xml:space="preserve">V603</text>
<text x="131.4" y="990.4" font-size="12.3" font-weight="normal" text-anchor="start" fill="#000" font-family='"Liberation Mono", monospace' textLength="73.6" lengthAdjust="spacingAndGlyphs" stroke="#000" stroke-width="0.3" xml:space="preserve">Oscillator</text>
<text x="286.2" y="991" font-size="12.3" font-weight="normal" text-anchor="start" fill="#000" font-family='"Liberation Mono", monospace' textLength="21.9" lengthAdjust="spacingAndGlyphs" stroke="#000" stroke-width="0.3" xml:space="preserve">6J6</text>
<text x="373.8" y="991.6" font-size="12.3" font-weight="normal" text-anchor="start" fill="#000" font-family='"Liberation Mono", monospace' textLength="21" lengthAdjust="spacingAndGlyphs" stroke="#000" stroke-width="0.3" xml:space="preserve">7BF</text>
<text x="275.4" y="1104.4" font-size="18.8" font-weight="bold" text-anchor="start" fill="#000" font-family='"Liberation Sans", sans-serif' textLength="109.4" lengthAdjust="spacingAndGlyphs" stroke="#000" stroke-width="1.0">CAPACITORS</text>
<polyline points="87.2,1111.6 553.6,1111.8 553.4,1487 86,1486.4 87.2,1111.6" stroke-width="1.6"/>
<line x1="87" y1="1160.8" x2="553.6" y2="1159.6" stroke-width="1.4"/>
<line x1="123.4" y1="1111.6" x2="122.3" y2="1486.4" stroke-width="1.2"/>
<line x1="208.9" y1="1111.6" x2="209.3" y2="1486.6" stroke-width="1.2"/>
<line x1="174.9" y1="1148.2" x2="174.4" y2="1486.4" stroke-width="1.2"/>
<line x1="123.3" y1="1148.2" x2="208.9" y2="1148" stroke-width="1.4"/>
<text x="95.3" y="1135" font-size="10.5" font-weight="bold" text-anchor="start" fill="#000" font-family='"Liberation Sans", sans-serif' textLength="23.6" lengthAdjust="spacingAndGlyphs" stroke="#000" stroke-width="0.25">ITEM</text>
<text x="98.9" y="1147.8" font-size="10.5" font-weight="bold" text-anchor="start" fill="#000" font-family='"Liberation Sans", sans-serif' textLength="16.9" lengthAdjust="spacingAndGlyphs" stroke="#000" stroke-width="0.25">No.</text>
<text x="148.4" y="1134.9" font-size="10.5" font-weight="bold" text-anchor="start" fill="#000" font-family='"Liberation Sans", sans-serif' textLength="40.3" lengthAdjust="spacingAndGlyphs" stroke="#000" stroke-width="0.25">RATING</text>
<text x="139.1" y="1158.4" font-size="10.5" font-weight="bold" text-anchor="start" fill="#000" font-family='"Liberation Sans", sans-serif' textLength="23.5" lengthAdjust="spacingAndGlyphs" stroke="#000" stroke-width="0.25">CAP.</text>
<text x="180.2" y="1158.4" font-size="10.5" font-weight="bold" text-anchor="start" fill="#000" font-family='"Liberation Sans", sans-serif' textLength="26.6" lengthAdjust="spacingAndGlyphs" stroke="#000" stroke-width="0.25">VOLT</text>
<text x="331.9" y="1140.4" font-size="10.5" font-weight="bold" text-anchor="start" fill="#000" font-family='"Liberation Sans", sans-serif' textLength="84.7" lengthAdjust="spacingAndGlyphs" stroke="#000" stroke-width="0.25">IDENTIFICATION</text>
<text x="91.2" y="1177" font-size="12.3" font-weight="normal" text-anchor="start" fill="#000" font-family='"Liberation Mono", monospace' textLength="28.8" lengthAdjust="spacingAndGlyphs" stroke="#000" stroke-width="0.3" xml:space="preserve">C601</text>
<text x="135.6" y="1177" font-size="12.3" font-weight="normal" text-anchor="start" fill="#000" font-family='"Liberation Mono", monospace' textLength="14.6" lengthAdjust="spacingAndGlyphs" stroke="#000" stroke-width="0.3" xml:space="preserve">10</text>
<text x="222.2" y="1176.6" font-size="12.3" font-weight="normal" text-anchor="start" fill="#000" font-family='"Liberation Mono", monospace' textLength="94.9" lengthAdjust="spacingAndGlyphs" stroke="#000" stroke-width="0.3" xml:space="preserve">Fixed Trimmer</text>
<text x="91.2" y="1189.34" font-size="12.3" font-weight="normal" text-anchor="start" fill="#000" font-family='"Liberation Mono", monospace' textLength="28.8" lengthAdjust="spacingAndGlyphs" stroke="#000" stroke-width="0.3" xml:space="preserve">C602</text>
<text x="135.6" y="1189.34" font-size="12.3" font-weight="normal" text-anchor="start" fill="#000" font-family='"Liberation Mono", monospace' textLength="14.6" lengthAdjust="spacingAndGlyphs" stroke="#000" stroke-width="0.3" xml:space="preserve">10</text>
<text x="222.2" y="1188.94" font-size="12.3" font-weight="normal" text-anchor="start" fill="#000" font-family='"Liberation Mono", monospace' textLength="94.9" lengthAdjust="spacingAndGlyphs" stroke="#000" stroke-width="0.3" xml:space="preserve">Fixed Trimmer</text>
<text x="91.2" y="1201.68" font-size="12.3" font-weight="normal" text-anchor="start" fill="#000" font-family='"Liberation Mono", monospace' textLength="28.8" lengthAdjust="spacingAndGlyphs" stroke="#000" stroke-width="0.3" xml:space="preserve">C603</text>
<text x="135.6" y="1201.68" font-size="12.3" font-weight="normal" text-anchor="start" fill="#000" font-family='"Liberation Mono", monospace' textLength="29.2" lengthAdjust="spacingAndGlyphs" stroke="#000" stroke-width="0.3" xml:space="preserve">1500</text>
<text x="222.2" y="1201.28" font-size="12.3" font-weight="normal" text-anchor="start" fill="#000" font-family='"Liberation Mono", monospace' textLength="65.7" lengthAdjust="spacingAndGlyphs" stroke="#000" stroke-width="0.3" xml:space="preserve">RF Bypass</text>
<text x="91.2" y="1214.02" font-size="12.3" font-weight="normal" text-anchor="start" fill="#000" font-family='"Liberation Mono", monospace' textLength="28.8" lengthAdjust="spacingAndGlyphs" stroke="#000" stroke-width="0.3" xml:space="preserve">C604</text>
<text x="135.6" y="1214.02" font-size="12.3" font-weight="normal" text-anchor="start" fill="#000" font-family='"Liberation Mono", monospace' textLength="21.9" lengthAdjust="spacingAndGlyphs" stroke="#000" stroke-width="0.3" xml:space="preserve">270</text>
<text x="222.2" y="1213.62" font-size="12.3" font-weight="normal" text-anchor="start" fill="#000" font-family='"Liberation Mono", monospace' textLength="80.3" lengthAdjust="spacingAndGlyphs" stroke="#000" stroke-width="0.3" xml:space="preserve">RF Coupling</text>
<text x="91.2" y="1226.36" font-size="12.3" font-weight="normal" text-anchor="start" fill="#000" font-family='"Liberation Mono", monospace' textLength="28.8" lengthAdjust="spacingAndGlyphs" stroke="#000" stroke-width="0.3" xml:space="preserve">C605</text>
<text x="135.6" y="1226.36" font-size="12.3" font-weight="normal" text-anchor="start" fill="#000" font-family='"Liberation Mono", monospace' textLength="21.9" lengthAdjust="spacingAndGlyphs" stroke="#000" stroke-width="0.3" xml:space="preserve">270</text>
<text x="222.2" y="1225.96" font-size="12.3" font-weight="normal" text-anchor="start" fill="#000" font-family='"Liberation Mono", monospace' textLength="80.3" lengthAdjust="spacingAndGlyphs" stroke="#000" stroke-width="0.3" xml:space="preserve">RF Coupling</text>
<text x="91.2" y="1238.7" font-size="12.3" font-weight="normal" text-anchor="start" fill="#000" font-family='"Liberation Mono", monospace' textLength="28.8" lengthAdjust="spacingAndGlyphs" stroke="#000" stroke-width="0.3" xml:space="preserve">C606</text>
<text x="135.6" y="1238.7" font-size="12.3" font-weight="normal" text-anchor="start" fill="#000" font-family='"Liberation Mono", monospace' textLength="21.9" lengthAdjust="spacingAndGlyphs" stroke="#000" stroke-width="0.3" xml:space="preserve">1.5</text>
<text x="222.2" y="1238.3" font-size="12.3" font-weight="normal" text-anchor="start" fill="#000" font-family='"Liberation Mono", monospace' textLength="87.6" lengthAdjust="spacingAndGlyphs" stroke="#000" stroke-width="0.3" xml:space="preserve">Neutralizing</text>
<text x="91.2" y="1251.04" font-size="12.3" font-weight="normal" text-anchor="start" fill="#000" font-family='"Liberation Mono", monospace' textLength="28.8" lengthAdjust="spacingAndGlyphs" stroke="#000" stroke-width="0.3" xml:space="preserve">C607</text>
<text x="135.6" y="1251.04" font-size="12.3" font-weight="normal" text-anchor="start" fill="#000" font-family='"Liberation Mono", monospace' textLength="21.9" lengthAdjust="spacingAndGlyphs" stroke="#000" stroke-width="0.3" xml:space="preserve">1.5</text>
<text x="222.2" y="1250.64" font-size="12.3" font-weight="normal" text-anchor="start" fill="#000" font-family='"Liberation Mono", monospace' textLength="87.6" lengthAdjust="spacingAndGlyphs" stroke="#000" stroke-width="0.3" xml:space="preserve">Neutralizing</text>
<text x="91.2" y="1263.38" font-size="12.3" font-weight="normal" text-anchor="start" fill="#000" font-family='"Liberation Mono", monospace' textLength="28.8" lengthAdjust="spacingAndGlyphs" stroke="#000" stroke-width="0.3" xml:space="preserve">C608</text>
<text x="135.6" y="1263.38" font-size="12.3" font-weight="normal" text-anchor="start" fill="#000" font-family='"Liberation Mono", monospace' textLength="21.9" lengthAdjust="spacingAndGlyphs" stroke="#000" stroke-width="0.3" xml:space="preserve">.68</text>
<text x="222.2" y="1262.98" font-size="12.3" font-weight="normal" text-anchor="start" fill="#000" font-family='"Liberation Mono", monospace' textLength="80.3" lengthAdjust="spacingAndGlyphs" stroke="#000" stroke-width="0.3" xml:space="preserve">RF Coupling</text>
<text x="91.2" y="1275.72" font-size="12.3" font-weight="normal" text-anchor="start" fill="#000" font-family='"Liberation Mono", monospace' textLength="28.8" lengthAdjust="spacingAndGlyphs" stroke="#000" stroke-width="0.3" xml:space="preserve">C609</text>
<text x="135.6" y="1275.72" font-size="12.3" font-weight="normal" text-anchor="start" fill="#000" font-family='"Liberation Mono", monospace' textLength="21.9" lengthAdjust="spacingAndGlyphs" stroke="#000" stroke-width="0.3" xml:space="preserve">4.7</text>
<text x="222.2" y="1275.32" font-size="12.3" font-weight="normal" text-anchor="start" fill="#000" font-family='"Liberation Mono", monospace' textLength="80.3" lengthAdjust="spacingAndGlyphs" stroke="#000" stroke-width="0.3" xml:space="preserve">RF Coupling</text>
<text x="91.2" y="1288.06" font-size="12.3" font-weight="normal" text-anchor="start" fill="#000" font-family='"Liberation Mono", monospace' textLength="28.8" lengthAdjust="spacingAndGlyphs" stroke="#000" stroke-width="0.3" xml:space="preserve">C610</text>
<text x="135.6" y="1288.06" font-size="12.3" font-weight="normal" text-anchor="start" fill="#000" font-family='"Liberation Mono", monospace' textLength="21.9" lengthAdjust="spacingAndGlyphs" stroke="#000" stroke-width="0.3" xml:space="preserve">2.2</text>
<text x="222.2" y="1287.66" font-size="12.3" font-weight="normal" text-anchor="start" fill="#000" font-family='"Liberation Mono", monospace' textLength="80.3" lengthAdjust="spacingAndGlyphs" stroke="#000" stroke-width="0.3" xml:space="preserve">RF Coupling</text>
<text x="91.2" y="1300.4" font-size="12.3" font-weight="normal" text-anchor="start" fill="#000" font-family='"Liberation Mono", monospace' textLength="28.8" lengthAdjust="spacingAndGlyphs" stroke="#000" stroke-width="0.3" xml:space="preserve">C611</text>
<text x="135.6" y="1300.4" font-size="12.3" font-weight="normal" text-anchor="start" fill="#000" font-family='"Liberation Mono", monospace' textLength="29.2" lengthAdjust="spacingAndGlyphs" stroke="#000" stroke-width="0.3" xml:space="preserve">1500</text>
<text x="222.2" y="1300" font-size="12.3" font-weight="normal" text-anchor="start" fill="#000" font-family='"Liberation Mono", monospace' textLength="94.9" lengthAdjust="spacingAndGlyphs" stroke="#000" stroke-width="0.3" xml:space="preserve">RF Decoupling</text>
<text x="91.2" y="1312.74" font-size="12.3" font-weight="normal" text-anchor="start" fill="#000" font-family='"Liberation Mono", monospace' textLength="28.8" lengthAdjust="spacingAndGlyphs" stroke="#000" stroke-width="0.3" xml:space="preserve">C612</text>
<text x="135.6" y="1312.74" font-size="12.3" font-weight="normal" text-anchor="start" fill="#000" font-family='"Liberation Mono", monospace' textLength="14.6" lengthAdjust="spacingAndGlyphs" stroke="#000" stroke-width="0.3" xml:space="preserve">22</text>
<text x="222.2" y="1312.34" font-size="12.3" font-weight="normal" text-anchor="start" fill="#000" font-family='"Liberation Mono", monospace' textLength="94.9" lengthAdjust="spacingAndGlyphs" stroke="#000" stroke-width="0.3" xml:space="preserve">Fixed Trimmer</text>
<text x="91.2" y="1325.08" font-size="12.3" font-weight="normal" text-anchor="start" fill="#000" font-family='"Liberation Mono", monospace' textLength="28.8" lengthAdjust="spacingAndGlyphs" stroke="#000" stroke-width="0.3" xml:space="preserve">C613</text>
<text x="135.6" y="1325.08" font-size="12.3" font-weight="normal" text-anchor="start" fill="#000" font-family='"Liberation Mono", monospace' textLength="29.2" lengthAdjust="spacingAndGlyphs" stroke="#000" stroke-width="0.3" xml:space="preserve">1500</text>
<text x="222.2" y="1324.68" font-size="12.3" font-weight="normal" text-anchor="start" fill="#000" font-family='"Liberation Mono", monospace' textLength="109.5" lengthAdjust="spacingAndGlyphs" stroke="#000" stroke-width="0.3" xml:space="preserve">Osc. Decoupling</text>
<text x="91.2" y="1337.42" font-size="12.3" font-weight="normal" text-anchor="start" fill="#000" font-family='"Liberation Mono", monospace' textLength="28.8" lengthAdjust="spacingAndGlyphs" stroke="#000" stroke-width="0.3" xml:space="preserve">C614</text>
<text x="135.6" y="1337.42" font-size="12.3" font-weight="normal" text-anchor="start" fill="#000" font-family='"Liberation Mono", monospace' textLength="14.6" lengthAdjust="spacingAndGlyphs" stroke="#000" stroke-width="0.3" xml:space="preserve">10</text>
<text x="222.2" y="1337.02" font-size="12.3" font-weight="normal" text-anchor="start" fill="#000" font-family='"Liberation Mono", monospace' textLength="94.9" lengthAdjust="spacingAndGlyphs" stroke="#000" stroke-width="0.3" xml:space="preserve">Fixed Trimmer</text>
<text x="91.2" y="1349.76" font-size="12.3" font-weight="normal" text-anchor="start" fill="#000" font-family='"Liberation Mono", monospace' textLength="28.8" lengthAdjust="spacingAndGlyphs" stroke="#000" stroke-width="0.3" xml:space="preserve">C615</text>
<text x="135.6" y="1349.76" font-size="12.3" font-weight="normal" text-anchor="start" fill="#000" font-family='"Liberation Mono", monospace' textLength="21.9" lengthAdjust="spacingAndGlyphs" stroke="#000" stroke-width="0.3" xml:space="preserve">4.7</text>
<text x="222.2" y="1349.36" font-size="12.3" font-weight="normal" text-anchor="start" fill="#000" font-family='"Liberation Mono", monospace' textLength="94.9" lengthAdjust="spacingAndGlyphs" stroke="#000" stroke-width="0.3" xml:space="preserve">Osc. Feedback</text>
<text x="91.2" y="1362.1" font-size="12.3" font-weight="normal" text-anchor="start" fill="#000" font-family='"Liberation Mono", monospace' textLength="28.8" lengthAdjust="spacingAndGlyphs" stroke="#000" stroke-width="0.3" xml:space="preserve">C616</text>
<text x="135.6" y="1362.1" font-size="12.3" font-weight="normal" text-anchor="start" fill="#000" font-family='"Liberation Mono", monospace' textLength="21.9" lengthAdjust="spacingAndGlyphs" stroke="#000" stroke-width="0.3" xml:space="preserve">4.7</text>
<text x="222.2" y="1361.7" font-size="12.3" font-weight="normal" text-anchor="start" fill="#000" font-family='"Liberation Mono", monospace' textLength="94.9" lengthAdjust="spacingAndGlyphs" stroke="#000" stroke-width="0.3" xml:space="preserve">Osc. Feedback</text>
<text x="91.2" y="1374.44" font-size="12.3" font-weight="normal" text-anchor="start" fill="#000" font-family='"Liberation Mono", monospace' textLength="28.8" lengthAdjust="spacingAndGlyphs" stroke="#000" stroke-width="0.3" xml:space="preserve">C617</text>
<text x="135.6" y="1374.44" font-size="12.3" font-weight="normal" text-anchor="start" fill="#000" font-family='"Liberation Mono", monospace' textLength="29.2" lengthAdjust="spacingAndGlyphs" stroke="#000" stroke-width="0.3" xml:space="preserve">1500</text>
<text x="222.2" y="1374.04" font-size="12.3" font-weight="normal" text-anchor="start" fill="#000" font-family='"Liberation Mono", monospace' textLength="116.8" lengthAdjust="spacingAndGlyphs" stroke="#000" stroke-width="0.3" xml:space="preserve">Filament  Bypass</text>
<text x="91.2" y="1386.78" font-size="12.3" font-weight="normal" text-anchor="start" fill="#000" font-family='"Liberation Mono", monospace' textLength="28.8" lengthAdjust="spacingAndGlyphs" stroke="#000" stroke-width="0.3" xml:space="preserve">C618</text>
<text x="135.6" y="1386.78" font-size="12.3" font-weight="normal" text-anchor="start" fill="#000" font-family='"Liberation Mono", monospace' textLength="29.2" lengthAdjust="spacingAndGlyphs" stroke="#000" stroke-width="0.3" xml:space="preserve">1500</text>
<text x="222.2" y="1386.38" font-size="12.3" font-weight="normal" text-anchor="start" fill="#000" font-family='"Liberation Mono", monospace' textLength="116.8" lengthAdjust="spacingAndGlyphs" stroke="#000" stroke-width="0.3" xml:space="preserve">Mixer Decoupling</text>
<text x="91.2" y="1399.12" font-size="12.3" font-weight="normal" text-anchor="start" fill="#000" font-family='"Liberation Mono", monospace' textLength="28.8" lengthAdjust="spacingAndGlyphs" stroke="#000" stroke-width="0.3" xml:space="preserve">C619</text>
<text x="135.6" y="1399.12" font-size="12.3" font-weight="normal" text-anchor="start" fill="#000" font-family='"Liberation Mono", monospace' textLength="14.6" lengthAdjust="spacingAndGlyphs" stroke="#000" stroke-width="0.3" xml:space="preserve">68</text>
<text x="222.2" y="1398.72" font-size="12.3" font-weight="normal" text-anchor="start" fill="#000" font-family='"Liberation Mono", monospace' textLength="94.9" lengthAdjust="spacingAndGlyphs" stroke="#000" stroke-width="0.3" xml:space="preserve">Fixed Trimmer</text>
<text x="787.2" y="892.8" font-size="18.8" font-weight="bold" text-anchor="start" fill="#000" font-family='"Liberation Sans", sans-serif' textLength="91.8" lengthAdjust="spacingAndGlyphs" stroke="#000" stroke-width="1.0">RESISTORS</text>
<polyline points="588.2,903.8 1044.2,904 1044,1170.2 587.8,1168.4 588.2,903.8" stroke-width="1.6"/>
<line x1="587.8" y1="952.2" x2="1044.2" y2="952.6" stroke-width="1.4"/>
<line x1="626.2" y1="904" x2="625.6" y2="1168.6" stroke-width="1.4"/>
<line x1="750.8" y1="904" x2="750.4" y2="1169" stroke-width="1.4"/>
<line x1="706.8" y1="940.2" x2="706.2" y2="1168.8" stroke-width="1.4"/>
<line x1="626.2" y1="940" x2="750.8" y2="940.2" stroke-width="1.4"/>
<text x="596.2" y="928" font-size="10.5" font-weight="bold" text-anchor="start" fill="#000" font-family='"Liberation Sans", sans-serif' textLength="23.8" lengthAdjust="spacingAndGlyphs" stroke="#000" stroke-width="0.25">ITEM</text>
<text x="598" y="940.2" font-size="10.5" font-weight="bold" text-anchor="start" fill="#000" font-family='"Liberation Sans", sans-serif' textLength="18.1" lengthAdjust="spacingAndGlyphs" stroke="#000" stroke-width="0.25">No.</text>
<text x="670.7" y="927.5" font-size="10.5" font-weight="bold" text-anchor="start" fill="#000" font-family='"Liberation Sans", sans-serif' textLength="40.1" lengthAdjust="spacingAndGlyphs" stroke="#000" stroke-width="0.25">RATING</text>
<text x="635.9" y="950.8" font-size="10.5" font-weight="bold" text-anchor="start" fill="#000" font-family='"Liberation Sans", sans-serif' textLength="63.2" lengthAdjust="spacingAndGlyphs" stroke="#000" stroke-width="0.25">RESISTANCE</text>
<text x="711" y="950.8" font-size="10.5" font-weight="bold" text-anchor="start" fill="#000" font-family='"Liberation Sans", sans-serif' textLength="36.5" lengthAdjust="spacingAndGlyphs" stroke="#000" stroke-width="0.25">WATTS</text>
<text x="874.2" y="933.4" font-size="10.5" font-weight="bold" text-anchor="start" fill="#000" font-family='"Liberation Sans", sans-serif' textLength="85.4" lengthAdjust="spacingAndGlyphs" stroke="#000" stroke-width="0.25">IDENTIFICATION</text>
<text x="592.2" y="966.6" font-size="12.3" font-weight="normal" text-anchor="start" fill="#000" font-family='"Liberation Mono", monospace' textLength="30" lengthAdjust="spacingAndGlyphs" stroke="#000" stroke-width="0.3" xml:space="preserve">R601</text>
<text x="637.2" y="966" font-size="12.3" font-weight="normal" text-anchor="start" fill="#000" font-family='"Liberation Mono", monospace' textLength="29.8" lengthAdjust="spacingAndGlyphs" stroke="#000" stroke-width="0.3" xml:space="preserve">150Ω</text>
<text x="761.2" y="965.8" font-size="12.3" font-weight="normal" text-anchor="start" fill="#000" font-family='"Liberation Mono", monospace' textLength="51.52" lengthAdjust="spacingAndGlyphs" stroke="#000" stroke-width="0.3" xml:space="preserve">RF Grid</text>
<polyline points="728,956 729.4,954.8 729.4,960" stroke-width="1.1"/>
<line x1="726.6" y1="960.4" x2="732.4" y2="960.4" stroke-width="1.1"/>
<polyline points="727.4,962.2 730.8,961.6 731.2,963 727.4,966 731.8,966" stroke-width="1.1"/>
<text x="592.2" y="978.9" font-size="12.3" font-weight="normal" text-anchor="start" fill="#000" font-family='"Liberation Mono", monospace' textLength="30" lengthAdjust="spacingAndGlyphs" stroke="#000" stroke-width="0.3" xml:space="preserve">R602</text>
<text x="637.2" y="978.3" font-size="12.3" font-weight="normal" text-anchor="start" fill="#000" font-family='"Liberation Mono", monospace' textLength="29.8" lengthAdjust="spacingAndGlyphs" stroke="#000" stroke-width="0.3" xml:space="preserve">150Ω</text>
<text x="761.2" y="978.1" font-size="12.3" font-weight="normal" text-anchor="start" fill="#000" font-family='"Liberation Mono", monospace' textLength="51.52" lengthAdjust="spacingAndGlyphs" stroke="#000" stroke-width="0.3" xml:space="preserve">RF Grid</text>
<polyline points="728,968.3 729.4,967.1 729.4,972.3" stroke-width="1.1"/>
<line x1="726.6" y1="972.7" x2="732.4" y2="972.7" stroke-width="1.1"/>
<polyline points="727.4,974.5 730.8,973.9 731.2,975.3 727.4,978.3 731.8,978.3" stroke-width="1.1"/>
<text x="592.2" y="991.2" font-size="12.3" font-weight="normal" text-anchor="start" fill="#000" font-family='"Liberation Mono", monospace' textLength="30" lengthAdjust="spacingAndGlyphs" stroke="#000" stroke-width="0.3" xml:space="preserve">R603</text>
<text x="637.2" y="990.6" font-size="12.3" font-weight="normal" text-anchor="start" fill="#000" font-family='"Liberation Mono", monospace' textLength="37.25" lengthAdjust="spacingAndGlyphs" stroke="#000" stroke-width="0.3" xml:space="preserve">1000Ω</text>
<text x="761.2" y="990.4" font-size="12.3" font-weight="normal" text-anchor="start" fill="#000" font-family='"Liberation Mono", monospace' textLength="80.96" lengthAdjust="spacingAndGlyphs" stroke="#000" stroke-width="0.3" xml:space="preserve">Bias Filter</text>
<polyline points="728,980.6 729.4,979.4 729.4,984.6" stroke-width="1.1"/>
<line x1="726.6" y1="985" x2="732.4" y2="985" stroke-width="1.1"/>
<polyline points="727.4,986.8 730.8,986.2 731.2,987.6 727.4,990.6 731.8,990.6" stroke-width="1.1"/>
<text x="592.2" y="1003.5" font-size="12.3" font-weight="normal" text-anchor="start" fill="#000" font-family='"Liberation Mono", monospace' textLength="30" lengthAdjust="spacingAndGlyphs" stroke="#000" stroke-width="0.3" xml:space="preserve">R604</text>
<text x="637.2" y="1002.9" font-size="12.3" font-weight="normal" text-anchor="start" fill="#000" font-family='"Liberation Mono", monospace' textLength="37.25" lengthAdjust="spacingAndGlyphs" stroke="#000" stroke-width="0.3" xml:space="preserve">4700Ω</text>
<text x="761.2" y="1002.7" font-size="12.3" font-weight="normal" text-anchor="start" fill="#000" font-family='"Liberation Mono", monospace' textLength="58.88" lengthAdjust="spacingAndGlyphs" stroke="#000" stroke-width="0.3" xml:space="preserve">RF Plate</text>
<polyline points="728,992.9 729.4,991.7 729.4,996.9" stroke-width="1.1"/>
<line x1="726.6" y1="997.3" x2="732.4" y2="997.3" stroke-width="1.1"/>
<polyline points="727.4,999.1 730.8,998.5 731.2,999.9 727.4,1002.9 731.8,1002.9" stroke-width="1.1"/>
<text x="592.2" y="1015.8" font-size="12.3" font-weight="normal" text-anchor="start" fill="#000" font-family='"Liberation Mono", monospace' textLength="30" lengthAdjust="spacingAndGlyphs" stroke="#000" stroke-width="0.3" xml:space="preserve">R605</text>
<text x="637.2" y="1015.2" font-size="12.3" font-weight="normal" text-anchor="start" fill="#000" font-family='"Liberation Mono", monospace' textLength="37.25" lengthAdjust="spacingAndGlyphs" stroke="#000" stroke-width="0.3" xml:space="preserve">4700Ω</text>
<text x="761.2" y="1015" font-size="12.3" font-weight="normal" text-anchor="start" fill="#000" font-family='"Liberation Mono", monospace' textLength="58.88" lengthAdjust="spacingAndGlyphs" stroke="#000" stroke-width="0.3" xml:space="preserve">RF Plate</text>
<polyline points="728,1005.2 729.4,1004 729.4,1009.2" stroke-width="1.1"/>
<line x1="726.6" y1="1009.6" x2="732.4" y2="1009.6" stroke-width="1.1"/>
<polyline points="727.4,1011.4 730.8,1010.8 731.2,1012.2 727.4,1015.2 731.8,1015.2" stroke-width="1.1"/>
<text x="592.2" y="1028.1" font-size="12.3" font-weight="normal" text-anchor="start" fill="#000" font-family='"Liberation Mono", monospace' textLength="30" lengthAdjust="spacingAndGlyphs" stroke="#000" stroke-width="0.3" xml:space="preserve">R606</text>
<text x="637.2" y="1027.5" font-size="12.3" font-weight="normal" text-anchor="start" fill="#000" font-family='"Liberation Mono", monospace' textLength="37.25" lengthAdjust="spacingAndGlyphs" stroke="#000" stroke-width="0.3" xml:space="preserve">1000Ω</text>
<text x="761.2" y="1027.3" font-size="12.3" font-weight="normal" text-anchor="start" fill="#000" font-family='"Liberation Mono", monospace' textLength="95.68" lengthAdjust="spacingAndGlyphs" stroke="#000" stroke-width="0.3" xml:space="preserve">RF Decoupling</text>
<polyline points="728,1017.5 729.4,1016.3 729.4,1021.5" stroke-width="1.1"/>
<line x1="726.6" y1="1021.9" x2="732.4" y2="1021.9" stroke-width="1.1"/>
<polyline points="727.4,1023.7 730.8,1023.1 731.2,1024.5 727.4,1027.5 731.8,1027.5" stroke-width="1.1"/>
<text x="592.2" y="1040.4" font-size="12.3" font-weight="normal" text-anchor="start" fill="#000" font-family='"Liberation Mono", monospace' textLength="30" lengthAdjust="spacingAndGlyphs" stroke="#000" stroke-width="0.3" xml:space="preserve">R607</text>
<text x="637.2" y="1039.8" font-size="12.3" font-weight="normal" text-anchor="start" fill="#000" font-family='"Liberation Mono", monospace' textLength="44.7" lengthAdjust="spacingAndGlyphs" stroke="#000" stroke-width="0.3" xml:space="preserve">1 Meg.</text>
<text x="761.2" y="1039.6" font-size="12.3" font-weight="normal" text-anchor="start" fill="#000" font-family='"Liberation Mono", monospace' textLength="73.6" lengthAdjust="spacingAndGlyphs" stroke="#000" stroke-width="0.3" xml:space="preserve">Mixer Grid</text>
<polyline points="728,1029.8 729.4,1028.6 729.4,1033.8" stroke-width="1.1"/>
<line x1="726.6" y1="1034.2" x2="732.4" y2="1034.2" stroke-width="1.1"/>
<polyline points="727.4,1036 730.8,1035.4 731.2,1036.8 727.4,1039.8 731.8,1039.8" stroke-width="1.1"/>
<text x="592.2" y="1052.7" font-size="12.3" font-weight="normal" text-anchor="start" fill="#000" font-family='"Liberation Mono", monospace' textLength="30" lengthAdjust="spacingAndGlyphs" stroke="#000" stroke-width="0.3" xml:space="preserve">R608</text>
<text x="637.2" y="1052.1" font-size="12.3" font-weight="normal" text-anchor="start" fill="#000" font-family='"Liberation Mono", monospace' textLength="29.8" lengthAdjust="spacingAndGlyphs" stroke="#000" stroke-width="0.3" xml:space="preserve">10KΩ</text>
<text x="761.2" y="1051.9" font-size="12.3" font-weight="normal" text-anchor="start" fill="#000" font-family='"Liberation Mono", monospace' textLength="117.76" lengthAdjust="spacingAndGlyphs" stroke="#000" stroke-width="0.3" xml:space="preserve">Mixer Grid Shunt</text>
<polyline points="728,1042.1 729.4,1040.9 729.4,1046.1" stroke-width="1.1"/>
<line x1="726.6" y1="1046.5" x2="732.4" y2="1046.5" stroke-width="1.1"/>
<polyline points="727.4,1048.3 730.8,1047.7 731.2,1049.1 727.4,1052.1 731.8,1052.1" stroke-width="1.1"/>
<text x="592.2" y="1065" font-size="12.3" font-weight="normal" text-anchor="start" fill="#000" font-family='"Liberation Mono", monospace' textLength="30" lengthAdjust="spacingAndGlyphs" stroke="#000" stroke-width="0.3" xml:space="preserve">R609</text>
<text x="637.2" y="1064.4" font-size="12.3" font-weight="normal" text-anchor="start" fill="#000" font-family='"Liberation Mono", monospace' textLength="37.25" lengthAdjust="spacingAndGlyphs" stroke="#000" stroke-width="0.3" xml:space="preserve">1000Ω</text>
<text x="761.2" y="1064.2" font-size="12.3" font-weight="normal" text-anchor="start" fill="#000" font-family='"Liberation Mono", monospace' textLength="117.76" lengthAdjust="spacingAndGlyphs" stroke="#000" stroke-width="0.3" xml:space="preserve">Mixer Decpupling</text>
<polyline points="728,1054.4 729.4,1053.2 729.4,1058.4" stroke-width="1.1"/>
<line x1="726.6" y1="1058.8" x2="732.4" y2="1058.8" stroke-width="1.1"/>
<polyline points="727.4,1060.6 730.8,1060 731.2,1061.4 727.4,1064.4 731.8,1064.4" stroke-width="1.1"/>
<text x="592.2" y="1077.3" font-size="12.3" font-weight="normal" text-anchor="start" fill="#000" font-family='"Liberation Mono", monospace' textLength="30" lengthAdjust="spacingAndGlyphs" stroke="#000" stroke-width="0.3" xml:space="preserve">R610</text>
<text x="637.2" y="1076.7" font-size="12.3" font-weight="normal" text-anchor="start" fill="#000" font-family='"Liberation Mono", monospace' textLength="29.8" lengthAdjust="spacingAndGlyphs" stroke="#000" stroke-width="0.3" xml:space="preserve">150Ω</text>
<text x="761.2" y="1076.5" font-size="12.3" font-weight="normal" text-anchor="start" fill="#000" font-family='"Liberation Mono", monospace' textLength="73.6" lengthAdjust="spacingAndGlyphs" stroke="#000" stroke-width="0.3" xml:space="preserve">Decoupling</text>
<polyline points="728,1066.7 729.4,1065.5 729.4,1070.7" stroke-width="1.1"/>
<line x1="726.6" y1="1071.1" x2="732.4" y2="1071.1" stroke-width="1.1"/>
<polyline points="727.4,1072.9 730.8,1072.3 731.2,1073.7 727.4,1076.7 731.8,1076.7" stroke-width="1.1"/>
<text x="592.2" y="1089.6" font-size="12.3" font-weight="normal" text-anchor="start" fill="#000" font-family='"Liberation Mono", monospace' textLength="30" lengthAdjust="spacingAndGlyphs" stroke="#000" stroke-width="0.3" xml:space="preserve">R611</text>
<text x="637.2" y="1089" font-size="12.3" font-weight="normal" text-anchor="start" fill="#000" font-family='"Liberation Mono", monospace' textLength="37.25" lengthAdjust="spacingAndGlyphs" stroke="#000" stroke-width="0.3" xml:space="preserve">4700Ω</text>
<text x="761.2" y="1088.8" font-size="12.3" font-weight="normal" text-anchor="start" fill="#000" font-family='"Liberation Mono", monospace' textLength="73.6" lengthAdjust="spacingAndGlyphs" stroke="#000" stroke-width="0.3" xml:space="preserve">Osc. Plate</text>
<polyline points="728,1079 729.4,1077.8 729.4,1083" stroke-width="1.1"/>
<line x1="726.6" y1="1083.4" x2="732.4" y2="1083.4" stroke-width="1.1"/>
<polyline points="727.4,1085.2 730.8,1084.6 731.2,1086 727.4,1089 731.8,1089" stroke-width="1.1"/>
<text x="592.2" y="1101.9" font-size="12.3" font-weight="normal" text-anchor="start" fill="#000" font-family='"Liberation Mono", monospace' textLength="30" lengthAdjust="spacingAndGlyphs" stroke="#000" stroke-width="0.3" xml:space="preserve">R612</text>
<text x="637.2" y="1101.3" font-size="12.3" font-weight="normal" text-anchor="start" fill="#000" font-family='"Liberation Mono", monospace' textLength="22.35" lengthAdjust="spacingAndGlyphs" stroke="#000" stroke-width="0.3" xml:space="preserve">47Ω</text>
<text x="761.2" y="1101.1" font-size="12.3" font-weight="normal" text-anchor="start" fill="#000" font-family='"Liberation Mono", monospace' textLength="88.32" lengthAdjust="spacingAndGlyphs" stroke="#000" stroke-width="0.3" xml:space="preserve">Osc. Cathode</text>
<polyline points="728,1091.3 729.4,1090.1 729.4,1095.3" stroke-width="1.1"/>
<line x1="726.6" y1="1095.7" x2="732.4" y2="1095.7" stroke-width="1.1"/>
<polyline points="727.4,1097.5 730.8,1096.9 731.2,1098.3 727.4,1101.3 731.8,1101.3" stroke-width="1.1"/>
<text x="592.2" y="1114.2" font-size="12.3" font-weight="normal" text-anchor="start" fill="#000" font-family='"Liberation Mono", monospace' textLength="30" lengthAdjust="spacingAndGlyphs" stroke="#000" stroke-width="0.3" xml:space="preserve">R613</text>
<text x="637.2" y="1113.6" font-size="12.3" font-weight="normal" text-anchor="start" fill="#000" font-family='"Liberation Mono", monospace' textLength="37.25" lengthAdjust="spacingAndGlyphs" stroke="#000" stroke-width="0.3" xml:space="preserve">100KΩ</text>
<text x="761.2" y="1113.4" font-size="12.3" font-weight="normal" text-anchor="start" fill="#000" font-family='"Liberation Mono", monospace' textLength="66.24" lengthAdjust="spacingAndGlyphs" stroke="#000" stroke-width="0.3" xml:space="preserve">Osc. Grid</text>
<polyline points="728,1103.6 729.4,1102.4 729.4,1107.6" stroke-width="1.1"/>
<line x1="726.6" y1="1108" x2="732.4" y2="1108" stroke-width="1.1"/>
<polyline points="727.4,1109.8 730.8,1109.2 731.2,1110.6 727.4,1113.6 731.8,1113.6" stroke-width="1.1"/>
<text x="592.2" y="1126.5" font-size="12.3" font-weight="normal" text-anchor="start" fill="#000" font-family='"Liberation Mono", monospace' textLength="30" lengthAdjust="spacingAndGlyphs" stroke="#000" stroke-width="0.3" xml:space="preserve">R614</text>
<text x="637.2" y="1125.9" font-size="12.3" font-weight="normal" text-anchor="start" fill="#000" font-family='"Liberation Mono", monospace' textLength="37.25" lengthAdjust="spacingAndGlyphs" stroke="#000" stroke-width="0.3" xml:space="preserve">L00KΩ</text>
<text x="761.2" y="1125.7" font-size="12.3" font-weight="normal" text-anchor="start" fill="#000" font-family='"Liberation Mono", monospace' textLength="66.24" lengthAdjust="spacingAndGlyphs" stroke="#000" stroke-width="0.3" xml:space="preserve">Osc. Grid</text>
<polyline points="728,1115.9 729.4,1114.7 729.4,1119.9" stroke-width="1.1"/>
<line x1="726.6" y1="1120.3" x2="732.4" y2="1120.3" stroke-width="1.1"/>
<polyline points="727.4,1122.1 730.8,1121.5 731.2,1122.9 727.4,1125.9 731.8,1125.9" stroke-width="1.1"/>
<text x="799.8" y="1200.4" font-size="18.8" font-weight="bold" text-anchor="start" fill="#000" font-family='"Liberation Sans", sans-serif' textLength="52.6" lengthAdjust="spacingAndGlyphs" stroke="#000" stroke-width="1.0">COILS</text>
<polyline points="588.3,1204.4 1044,1204.4 1044,1487.4 587.8,1485 588.3,1204.4" stroke-width="1.6"/>
<line x1="588.2" y1="1254.6" x2="1044" y2="1255.2" stroke-width="1.4"/>
<line x1="622.8" y1="1204.2" x2="622" y2="1485.2" stroke-width="1.4"/>
<line x1="711.2" y1="1204.2" x2="710.6" y2="1485.6" stroke-width="1.4"/>
<line x1="814.4" y1="1204.4" x2="814" y2="1486.2" stroke-width="1.4"/>
<line x1="762.4" y1="1242.4" x2="761.8" y2="1486" stroke-width="1.4"/>
<line x1="711.2" y1="1242.2" x2="814.4" y2="1242.6" stroke-width="1.4"/>
<text x="593.4" y="1228.4" font-size="10.5" font-weight="bold" text-anchor="start" fill="#000" font-family='"Liberation Sans", sans-serif' textLength="24" lengthAdjust="spacingAndGlyphs" stroke="#000" stroke-width="0.25">ITEM</text>
<text x="596" y="1240.8" font-size="10.5" font-weight="bold" text-anchor="start" fill="#000" font-family='"Liberation Sans", sans-serif' textLength="18.4" lengthAdjust="spacingAndGlyphs" stroke="#000" stroke-width="0.25">No.</text>
<text x="657.4" y="1235" font-size="10.5" font-weight="bold" text-anchor="start" fill="#000" font-family='"Liberation Sans", sans-serif' textLength="18.8" lengthAdjust="spacingAndGlyphs" stroke="#000" stroke-width="0.25">USE</text>
<text x="739.4" y="1229" font-size="10.5" font-weight="bold" text-anchor="start" fill="#000" font-family='"Liberation Sans", sans-serif' textLength="42.4" lengthAdjust="spacingAndGlyphs" stroke="#000" stroke-width="0.25">DC RES.</text>
<text x="730" y="1253.4" font-size="10.5" font-weight="bold" text-anchor="start" fill="#000" font-family='"Liberation Sans", sans-serif' textLength="18.4" lengthAdjust="spacingAndGlyphs" stroke="#000" stroke-width="0.25">PRI.</text>
<text x="779.4" y="1253.4" font-size="10.5" font-weight="bold" text-anchor="start" fill="#000" font-family='"Liberation Sans", sans-serif' textLength="23" lengthAdjust="spacingAndGlyphs" stroke="#000" stroke-width="0.25">SEC.</text>
<text x="591.2" y="1267.7" font-size="12.3" font-weight="normal" text-anchor="start" fill="#000" font-family='"Liberation Mono", monospace' textLength="28.8" lengthAdjust="spacingAndGlyphs" stroke="#000" stroke-width="0.3" xml:space="preserve">L601</text>
<text x="627.2" y="1267.7" font-size="12.3" font-weight="normal" text-anchor="start" fill="#000" font-family='"Liberation Mono", monospace' textLength="73.6" lengthAdjust="spacingAndGlyphs" stroke="#000" stroke-width="0.3" xml:space="preserve">Ant. Input</text>
<text x="730.6" y="1267.7" font-size="12.3" font-weight="normal" text-anchor="start" fill="#000" font-family='"Liberation Mono", monospace' textLength="14.6" lengthAdjust="spacingAndGlyphs" stroke="#000" stroke-width="0.3" xml:space="preserve">0Ω</text>
<text x="591.2" y="1279.6" font-size="12.3" font-weight="normal" text-anchor="start" fill="#000" font-family='"Liberation Mono", monospace' textLength="28.8" lengthAdjust="spacingAndGlyphs" stroke="#000" stroke-width="0.3" xml:space="preserve">L602</text>
<text x="627.2" y="1279.6" font-size="12.3" font-weight="normal" text-anchor="start" fill="#000" font-family='"Liberation Mono", monospace' textLength="66.24" lengthAdjust="spacingAndGlyphs" stroke="#000" stroke-width="0.3" xml:space="preserve">Interfer-</text>
<text x="730.6" y="1279.6" font-size="12.3" font-weight="normal" text-anchor="start" fill="#000" font-family='"Liberation Mono", monospace' textLength="14.6" lengthAdjust="spacingAndGlyphs" stroke="#000" stroke-width="0.3" xml:space="preserve">0Ω</text>
<text x="627.2" y="1291.8" font-size="12.3" font-weight="normal" text-anchor="start" fill="#000" font-family='"Liberation Mono", monospace' textLength="66.24" lengthAdjust="spacingAndGlyphs" stroke="#000" stroke-width="0.3" xml:space="preserve">ence Trap</text>
<text x="591.2" y="1304" font-size="12.3" font-weight="normal" text-anchor="start" fill="#000" font-family='"Liberation Mono", monospace' textLength="28.8" lengthAdjust="spacingAndGlyphs" stroke="#000" stroke-width="0.3" xml:space="preserve">L603</text>
<text x="627.2" y="1304" font-size="12.3" font-weight="normal" text-anchor="start" fill="#000" font-family='"Liberation Mono", monospace' textLength="66.24" lengthAdjust="spacingAndGlyphs" stroke="#000" stroke-width="0.3" xml:space="preserve">Interfer-</text>
<text x="730.6" y="1304" font-size="12.3" font-weight="normal" text-anchor="start" fill="#000" font-family='"Liberation Mono", monospace' textLength="14.6" lengthAdjust="spacingAndGlyphs" stroke="#000" stroke-width="0.3" xml:space="preserve">0Ω</text>
<text x="627.2" y="1316.2" font-size="12.3" font-weight="normal" text-anchor="start" fill="#000" font-family='"Liberation Mono", monospace' textLength="66.24" lengthAdjust="spacingAndGlyphs" stroke="#000" stroke-width="0.3" xml:space="preserve">ence Trap</text>
<text x="591.2" y="1328.4" font-size="12.3" font-weight="normal" text-anchor="start" fill="#000" font-family='"Liberation Mono", monospace' textLength="28.8" lengthAdjust="spacingAndGlyphs" stroke="#000" stroke-width="0.3" xml:space="preserve">L604</text>
<text x="627.2" y="1328.4" font-size="12.3" font-weight="normal" text-anchor="start" fill="#000" font-family='"Liberation Mono", monospace' textLength="58.88" lengthAdjust="spacingAndGlyphs" stroke="#000" stroke-width="0.3" xml:space="preserve">Filament</text>
<text x="730.6" y="1328.4" font-size="12.3" font-weight="normal" text-anchor="start" fill="#000" font-family='"Liberation Mono", monospace' textLength="14.6" lengthAdjust="spacingAndGlyphs" stroke="#000" stroke-width="0.3" xml:space="preserve">0Ω</text>
<text x="635.8" y="1340.7" font-size="12.3" font-weight="normal" text-anchor="start" fill="#000" font-family='"Liberation Mono", monospace' textLength="36.8" lengthAdjust="spacingAndGlyphs" stroke="#000" stroke-width="0.3" xml:space="preserve">Choke</text>
<text x="591.2" y="1353" font-size="12.3" font-weight="normal" text-anchor="start" fill="#000" font-family='"Liberation Mono", monospace' textLength="28.8" lengthAdjust="spacingAndGlyphs" stroke="#000" stroke-width="0.3" xml:space="preserve">L605</text>
<text x="627.2" y="1353" font-size="12.3" font-weight="normal" text-anchor="start" fill="#000" font-family='"Liberation Mono", monospace' textLength="73.6" lengthAdjust="spacingAndGlyphs" stroke="#000" stroke-width="0.3" xml:space="preserve">Mixer Grid</text>
<text x="730.6" y="1353" font-size="12.3" font-weight="normal" text-anchor="start" fill="#000" font-family='"Liberation Mono", monospace' textLength="14.6" lengthAdjust="spacingAndGlyphs" stroke="#000" stroke-width="0.3" xml:space="preserve">0Ω</text>
<text x="642" y="1365.2" font-size="12.3" font-weight="normal" text-anchor="start" fill="#000" font-family='"Liberation Mono", monospace' textLength="29.44" lengthAdjust="spacingAndGlyphs" stroke="#000" stroke-width="0.3" xml:space="preserve">Trap</text>
<text x="591.2" y="1377.4" font-size="12.3" font-weight="normal" text-anchor="start" fill="#000" font-family='"Liberation Mono", monospace' textLength="28.8" lengthAdjust="spacingAndGlyphs" stroke="#000" stroke-width="0.3" xml:space="preserve">L606</text>
<text x="627.2" y="1377.4" font-size="12.3" font-weight="normal" text-anchor="start" fill="#000" font-family='"Liberation Mono", monospace' textLength="73.6" lengthAdjust="spacingAndGlyphs" stroke="#000" stroke-width="0.3" xml:space="preserve">lst. Video</text>
<text x="726.2" y="1377.4" font-size="12.3" font-weight="normal" text-anchor="start" fill="#000" font-family='"Liberation Mono", monospace' textLength="20.7" lengthAdjust="spacingAndGlyphs" stroke="#000" stroke-width="0.3" xml:space="preserve">.2Ω</text>
<text x="782.2" y="1377.4" font-size="12.3" font-weight="normal" text-anchor="start" fill="#000" font-family='"Liberation Mono", monospace' textLength="14.6" lengthAdjust="spacingAndGlyphs" stroke="#000" stroke-width="0.3" xml:space="preserve">0Ω</text>
<text x="627.2" y="1389.7" font-size="12.3" font-weight="normal" text-anchor="start" fill="#000" font-family='"Liberation Mono", monospace' textLength="44.16" lengthAdjust="spacingAndGlyphs" stroke="#000" stroke-width="0.3" xml:space="preserve">IF and</text>
<text x="627.2" y="1401.8" font-size="12.3" font-weight="normal" text-anchor="start" fill="#000" font-family='"Liberation Mono", monospace' textLength="73.6" lengthAdjust="spacingAndGlyphs" stroke="#000" stroke-width="0.3" xml:space="preserve">Sound Trap</text>
<text x="80.6" y="1525.8" font-size="30.2" font-weight="normal" text-anchor="start" fill="#000" font-family='"Liberation Sans", sans-serif' textLength="116.2" lengthAdjust="spacingAndGlyphs" stroke="none">PAGE 12</text>
<rect x="0" y="1547.6" width="1109" height="1.4" fill="#000" stroke="none"/>
</g>
</svg>
</body></html>
